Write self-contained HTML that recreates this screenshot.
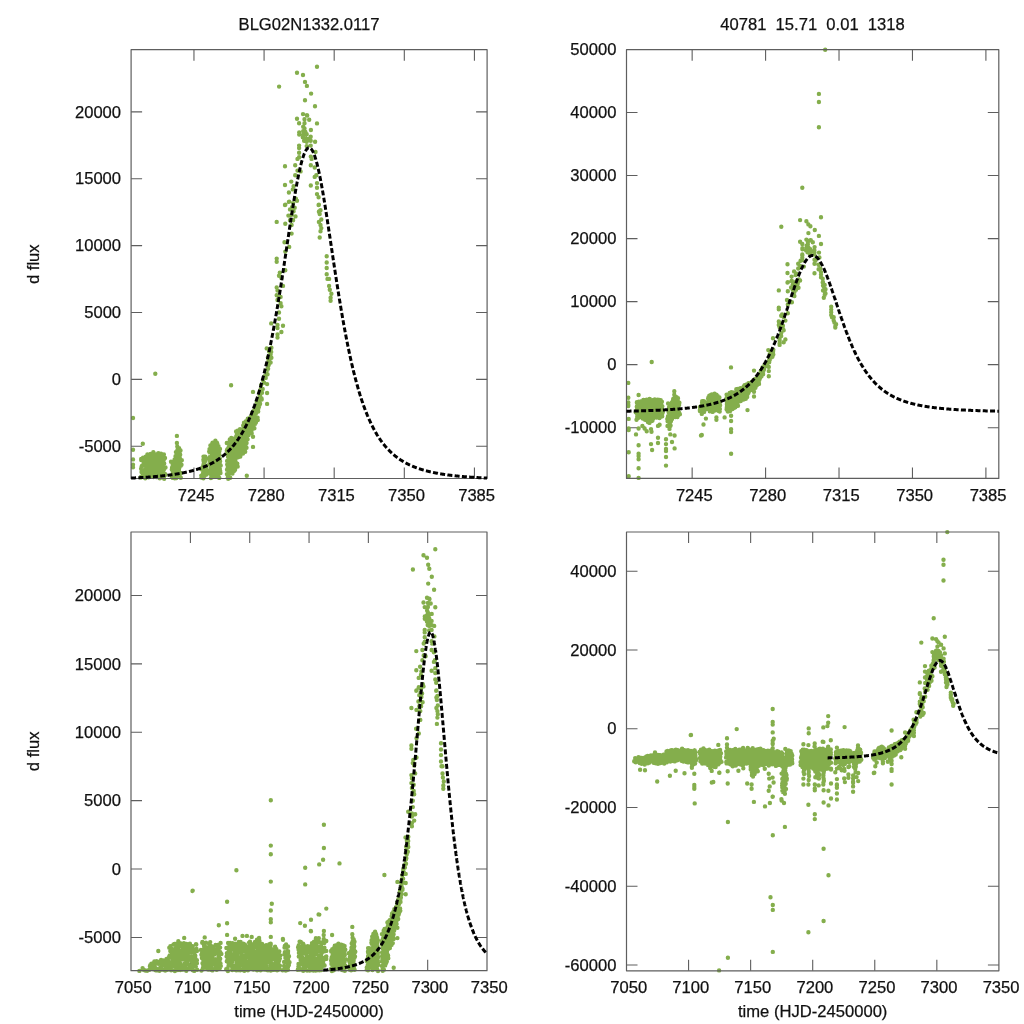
<!DOCTYPE html><html><head><meta charset="utf-8"><style>html,body{margin:0;padding:0;background:#fff;overflow:hidden}</style></head><body><svg width="1024" height="1024" viewBox="0 0 1024 1024" style="display:block;will-change:transform;font-family:'Liberation Sans',sans-serif;font-size:16.6px" fill="#111" stroke-width="0.25"><rect width="1024" height="1024" fill="#fff"/><path d="M193.96 478.50v-11M193.96 49.70v11M264.08 478.50v-11M264.08 49.70v11M334.19 478.50v-11M334.19 49.70v11M404.31 478.50v-11M404.31 49.70v11M474.43 478.50v-11M474.43 49.70v11M131.10 446.20h11M487.10 446.20h-11M131.10 379.34h11M487.10 379.34h-11M131.10 312.48h11M487.10 312.48h-11M131.10 245.62h11M487.10 245.62h-11M131.10 178.76h11M487.10 178.76h-11M131.10 111.90h11M487.10 111.90h-11" stroke="#5e5e5e" stroke-width="1.1" fill="none"/><path d="M692.15 478.40v-11M692.15 49.70v11M765.59 478.40v-11M765.59 49.70v11M839.02 478.40v-11M839.02 49.70v11M912.46 478.40v-11M912.46 49.70v11M985.90 478.40v-11M985.90 49.70v11M626.50 427.70h11M998.80 427.70h-11M626.50 364.66h11M998.80 364.66h-11M626.50 301.62h11M998.80 301.62h-11M626.50 238.58h11M998.80 238.58h-11M626.50 175.54h11M998.80 175.54h-11M626.50 112.50h11M998.80 112.50h-11" stroke="#5e5e5e" stroke-width="1.1" fill="none"/><path d="M190.42 970.70v-11M190.42 532.00v11M249.73 970.70v-11M249.73 532.00v11M309.05 970.70v-11M309.05 532.00v11M368.37 970.70v-11M368.37 532.00v11M427.68 970.70v-11M427.68 532.00v11M131.00 937.43h11M487.00 937.43h-11M131.00 869.03h11M487.00 869.03h-11M131.00 800.63h11M487.00 800.63h-11M131.00 732.23h11M487.00 732.23h-11M131.00 663.83h11M487.00 663.83h-11M131.00 595.43h11M487.00 595.43h-11" stroke="#5e5e5e" stroke-width="1.1" fill="none"/><path d="M688.57 970.80v-11M688.57 532.00v11M750.63 970.80v-11M750.63 532.00v11M812.70 970.80v-11M812.70 532.00v11M874.77 970.80v-11M874.77 532.00v11M936.83 970.80v-11M936.83 532.00v11M626.50 965.00h11M998.90 965.00h-11M626.50 886.26h11M998.90 886.26h-11M626.50 807.52h11M998.90 807.52h-11M626.50 728.78h11M998.90 728.78h-11M626.50 650.04h11M998.90 650.04h-11M626.50 571.30h11M998.90 571.30h-11" stroke="#5e5e5e" stroke-width="1.1" fill="none"/><path d="M155.3 373.8h0M133.0 418.0h0M142.8 443.8h0M133.0 449.7h0M133.0 459.4h0M133.0 464.8h0M133.0 467.2h0M176.9 435.9h0M176.9 443.0h0M231.1 385.2h0M253.0 391.9h0M267.1 384.1h0M267.1 393.0h0M267.1 403.9h0M253.0 436.7h0M253.0 446.9h0M246.8 475.8h0M171.0 461.7h0M256.9 419.5h0M285.3 204.7h0M276.7 221.9h0M285.3 223.8h0M291.6 233.6h0M284.5 242.2h0M289.2 246.9h0M285.3 251.6h0M276.7 258.6h0M276.7 261.7h0M285.3 270.3h0M279.8 272.7h0M279.0 275.8h0M281.4 278.1h0M283.0 285.9h0M276.7 287.5h0M277.5 290.6h0M276.7 295.3h0M280.6 296.9h0M277.5 300.0h0M280.6 303.1h0M281.4 306.3h0M279.0 312.5h0M279.0 318.8h0M271.2 323.4h0M277.5 325.0h0M283.0 325.8h0M277.5 328.1h0M281.4 332.0h0M277.5 334.4h0M277.5 337.5h0M266.7 348.4h0M271.4 347.7h0M269.1 351.6h0M270.6 354.7h0M271.4 357.8h0M270.6 362.5h0M267.5 368.8h0M267.5 374.2h0M289.2 201.6h0M293.1 203.1h0M297.0 200.8h0M290.0 209.4h0M294.7 207.8h0M288.4 215.6h0M291.6 214.8h0M295.5 216.4h0M290.0 220.3h0M293.1 220.3h0M291.6 225.0h0M318.9 204.7h0M318.9 211.7h0M320.5 210.2h0M319.7 214.1h0M321.3 219.5h0M318.9 221.9h0M320.5 225.0h0M321.3 228.1h0M320.5 231.3h0M319.7 237.5h0M326.7 256.3h0M326.7 262.5h0M326.7 268.0h0M326.7 274.2h0M327.5 278.9h0M329.1 278.9h0M329.1 285.9h0M329.8 289.8h0M331.4 293.8h0M330.6 297.7h0M330.6 300.8h0M317.0 66.7h0M297.0 72.7h0M303.0 75.0h0M305.0 81.9h0M306.9 85.9h0M279.1 86.6h0M311.1 93.6h0M305.0 100.3h0M315.0 106.3h0M303.0 114.1h0M306.9 115.2h0M297.0 118.8h0M309.2 119.8h0M317.0 123.4h0M299.1 123.3h0M299.1 145.6h0M299.1 148.0h0M299.1 152.7h0M297.5 158.9h0M299.1 157.3h0M315.5 151.9h0M310.8 156.6h0M311.6 158.9h0M285.0 166.3h0M295.2 165.2h0M297.5 170.6h0M300.6 171.4h0M310.8 165.2h0M314.7 167.5h0M316.3 175.3h0M314.7 176.9h0M295.2 175.3h0M291.3 181.6h0M293.6 186.3h0M288.9 192.5h0M292.8 189.4h0M285.0 185.0h0M310.8 185.5h0M317.0 183.1h0M317.0 187.8h0M317.0 194.1h0M318.6 197.2h0M295.9 198.8h0M288.9 201.9h0M285.0 205.0h0M292.0 207.3h0M293.6 211.3h0M318.6 205.0h0M319.4 211.3h0M307.2 115.5h0M304.5 119.2h0M304.5 123.2h0M303.2 126.7h0M304.5 128.5h0M310.9 130.0h0M299.2 132.4h0M303.2 131.1h0M305.4 132.0h0M299.2 134.6h0M303.2 134.6h0M306.7 134.2h0M302.8 137.3h0M310.7 136.8h0M305.4 138.1h0M308.5 139.0h0M304.1 140.8h0M306.7 141.7h0M310.7 140.8h0M315.1 141.7h0M306.7 146.1h0M310.7 145.6h0M153.3 452.2h0M147.4 454.4h0M149.5 454.7h0M150.5 453.9h0M153.6 452.8h0M156.2 454.6h0M158.3 453.3h0M161.0 453.8h0M162.5 454.4h0M163.9 454.5h0M145.7 456.8h0M147.9 455.9h0M148.8 454.9h0M151.8 456.5h0M154.4 455.5h0M155.3 456.3h0M158.8 457.0h0M159.5 456.0h0M163.4 455.8h0M141.2 459.0h0M143.1 457.6h0M145.5 457.6h0M147.8 457.2h0M150.0 457.5h0M151.2 457.8h0M154.1 457.5h0M155.7 457.1h0M157.6 458.0h0M159.4 458.5h0M162.2 458.7h0M165.0 458.0h0M141.2 460.1h0M142.8 459.7h0M146.0 459.8h0M146.6 459.5h0M148.8 461.0h0M151.9 459.6h0M153.4 460.2h0M156.3 460.3h0M158.3 461.1h0M160.8 460.1h0M162.4 460.1h0M163.8 459.7h0M143.7 463.2h0M145.5 463.2h0M147.3 463.5h0M149.7 462.6h0M150.6 462.6h0M153.1 461.8h0M155.9 463.2h0M157.6 463.2h0M160.4 461.8h0M163.5 462.4h0M164.2 463.4h0M142.1 465.6h0M144.7 465.8h0M147.4 465.2h0M149.3 464.4h0M151.3 465.8h0M153.0 465.9h0M156.5 464.5h0M158.4 464.5h0M160.0 464.8h0M161.4 464.8h0M141.6 466.6h0M146.0 466.5h0M147.9 467.2h0M150.0 467.3h0M151.2 467.6h0M152.7 466.9h0M155.6 466.9h0M157.3 466.4h0M160.4 466.8h0M163.1 467.2h0M165.5 467.5h0M141.1 468.7h0M141.8 470.2h0M145.0 469.8h0M147.2 469.4h0M148.3 468.5h0M151.9 469.4h0M152.9 470.2h0M155.1 469.2h0M157.3 469.7h0M159.8 468.4h0M161.5 468.5h0M164.0 469.3h0M141.5 472.1h0M143.1 472.2h0M145.9 470.3h0M146.3 471.1h0M148.4 471.6h0M151.0 470.9h0M153.2 470.5h0M156.4 471.7h0M158.3 470.4h0M160.1 471.8h0M161.7 471.1h0M163.6 470.5h0M142.3 472.5h0M145.6 472.6h0M146.2 474.6h0M149.9 473.2h0M150.7 473.4h0M153.3 474.4h0M155.7 472.7h0M159.0 473.9h0M159.5 472.7h0M162.4 472.7h0M165.0 473.9h0M141.1 476.7h0M143.1 476.2h0M144.2 474.8h0M146.1 476.8h0M149.6 476.8h0M151.2 476.4h0M152.7 475.1h0M155.4 475.9h0M158.2 475.8h0M160.1 476.0h0M163.5 475.7h0M165.4 474.8h0M140.8 477.5h0M145.2 478.2h0M146.1 477.0h0M148.7 477.2h0M152.6 476.9h0M153.4 477.0h0M156.2 477.0h0M157.2 477.1h0M159.8 478.2h0M163.2 477.5h0M164.2 478.7h0M177.3 446.5h0M178.3 449.4h0M179.1 448.2h0M177.4 450.1h0M180.5 450.4h0M175.9 452.1h0M177.2 452.8h0M179.6 452.4h0M176.5 455.4h0M178.4 453.9h0M180.2 454.8h0M175.5 456.3h0M177.1 456.9h0M179.7 457.8h0M174.6 459.4h0M177.8 458.5h0M180.3 459.4h0M181.8 460.2h0M174.6 462.1h0M177.2 461.2h0M179.9 462.4h0M180.9 460.8h0M172.7 464.7h0M174.9 464.2h0M178.6 464.3h0M180.3 464.2h0M174.1 466.8h0M176.3 465.0h0M177.3 465.8h0M180.7 465.7h0M181.5 464.8h0M172.1 467.4h0M175.0 468.2h0M177.3 468.9h0M179.2 468.2h0M171.8 469.5h0M173.8 470.7h0M175.2 469.3h0M176.9 470.8h0M178.9 469.9h0M172.9 472.1h0M175.9 472.1h0M178.0 472.6h0M180.7 473.0h0M172.4 474.5h0M175.5 474.6h0M177.8 474.7h0M179.6 475.1h0M171.5 476.1h0M172.8 477.9h0M176.4 478.0h0M176.6 477.6h0M180.8 477.8h0M174.8 478.2h0M203.5 456.6h0M205.2 456.6h0M203.4 459.8h0M206.0 458.6h0M203.6 460.9h0M205.5 460.7h0M203.5 464.5h0M204.5 462.8h0M203.0 466.6h0M205.9 466.6h0M202.0 468.0h0M205.9 467.8h0M206.2 467.3h0M201.3 469.3h0M202.2 469.6h0M205.3 470.8h0M206.7 470.3h0M203.1 473.0h0M204.5 472.3h0M206.4 472.3h0M201.3 475.6h0M202.8 474.1h0M205.3 474.2h0M206.5 474.6h0M201.4 477.6h0M204.0 476.4h0M204.6 475.8h0M203.4 478.2h0M215.4 440.7h0M212.7 442.6h0M216.0 442.8h0M216.9 442.8h0M212.3 443.2h0M214.5 445.0h0M217.3 443.8h0M210.4 445.5h0M214.1 447.2h0M215.4 446.8h0M218.5 446.2h0M209.5 449.1h0M210.4 449.3h0M214.0 448.2h0M215.1 447.7h0M217.6 447.7h0M220.0 448.9h0M209.2 451.4h0M210.3 451.0h0M214.0 450.1h0M216.4 451.8h0M218.2 451.6h0M219.4 451.2h0M209.6 452.4h0M211.8 453.3h0M214.0 452.8h0M215.4 453.9h0M216.8 452.2h0M212.0 454.2h0M212.2 454.8h0M216.4 455.8h0M217.5 456.0h0M219.5 454.9h0M209.6 457.3h0M210.6 458.4h0M213.1 456.8h0M215.3 457.9h0M218.3 456.5h0M209.9 460.3h0M210.0 459.5h0M213.5 460.5h0M215.5 458.7h0M218.7 460.6h0M219.9 458.6h0M209.9 460.7h0M211.0 461.3h0M212.4 462.3h0M215.2 460.8h0M216.9 462.5h0M220.1 461.2h0M209.3 464.3h0M210.0 464.0h0M213.8 464.6h0M216.0 464.8h0M218.3 464.9h0M219.7 463.0h0M211.1 465.7h0M212.8 466.7h0M216.3 467.0h0M217.4 466.7h0M220.7 465.4h0M210.8 467.3h0M213.2 467.4h0M214.9 467.8h0M217.3 467.6h0M219.8 468.8h0M209.7 470.2h0M210.1 471.2h0M212.7 470.2h0M215.7 471.7h0M217.3 470.5h0M220.2 471.0h0M209.0 473.1h0M210.3 472.0h0M214.3 473.5h0M216.2 473.8h0M218.7 472.6h0M220.5 473.1h0M210.9 474.2h0M212.2 475.3h0M214.9 476.0h0M217.0 474.6h0M210.9 478.0h0M212.9 477.1h0M215.5 476.8h0M218.3 476.2h0M219.3 477.9h0M270.3 350.2h0M271.2 351.9h0M270.3 355.3h0M267.9 357.5h0M269.8 357.8h0M268.5 359.9h0M269.4 358.9h0M268.3 362.6h0M268.4 364.6h0M268.7 365.0h0M268.1 368.8h0M267.5 369.7h0M266.8 373.9h0M264.7 376.2h0M264.1 378.0h0M265.7 377.9h0M263.0 380.0h0M264.0 382.6h0M261.1 385.2h0M260.6 389.4h0M262.7 388.9h0M261.0 392.5h0M259.4 393.0h0M262.0 392.8h0M259.7 395.6h0M260.3 396.5h0M260.0 398.0h0M261.6 398.5h0M257.6 400.0h0M259.2 400.3h0M261.7 399.6h0M256.8 402.0h0M259.3 403.6h0M260.1 403.8h0M256.7 406.1h0M259.8 404.4h0M256.7 407.0h0M258.9 407.0h0M254.8 408.9h0M256.6 408.8h0M258.1 409.4h0M252.4 412.7h0M253.5 411.0h0M256.0 411.7h0M258.2 411.5h0M253.4 415.2h0M255.9 413.5h0M250.7 416.8h0M253.1 417.2h0M255.0 417.4h0M257.6 417.8h0M247.8 418.6h0M249.9 419.7h0M252.1 420.0h0M254.9 419.1h0M255.6 418.9h0M257.8 420.0h0M246.1 421.3h0M248.5 421.9h0M249.1 420.4h0M250.9 421.3h0M254.9 420.5h0M255.9 422.4h0M244.0 422.8h0M246.9 423.4h0M249.0 423.3h0M251.5 422.7h0M255.2 423.8h0M243.2 425.5h0M246.0 425.1h0M246.4 425.7h0M248.9 426.0h0M251.8 424.8h0M253.7 425.1h0M240.0 429.3h0M242.8 429.1h0M245.8 428.9h0M248.0 427.8h0M250.4 428.2h0M251.3 427.6h0M254.4 428.2h0M236.1 431.5h0M237.6 430.8h0M241.5 430.2h0M243.5 431.4h0M244.1 430.0h0M246.8 431.4h0M249.9 429.6h0M251.7 430.0h0M236.7 432.7h0M239.0 432.6h0M240.2 432.1h0M241.8 433.0h0M244.8 432.0h0M247.5 433.3h0M250.0 431.7h0M251.7 433.2h0M236.3 436.1h0M237.2 435.0h0M241.5 434.1h0M242.7 435.7h0M245.1 435.9h0M247.2 434.7h0M248.6 435.1h0M231.3 438.0h0M232.9 438.5h0M236.7 437.9h0M238.8 436.9h0M239.6 437.0h0M242.0 437.0h0M245.7 436.6h0M246.4 438.1h0M229.8 439.4h0M231.7 438.9h0M232.6 440.3h0M235.3 439.5h0M238.2 440.7h0M241.1 439.8h0M243.5 439.1h0M244.1 439.1h0M247.6 439.3h0M226.8 443.0h0M229.7 441.1h0M231.4 441.7h0M232.5 442.1h0M237.0 441.2h0M237.1 441.3h0M240.3 441.5h0M243.2 441.5h0M245.9 441.1h0M246.6 443.1h0M229.5 445.2h0M230.4 444.9h0M234.5 443.6h0M235.4 444.2h0M238.4 444.2h0M240.7 444.0h0M242.6 443.9h0M245.5 445.3h0M228.8 447.3h0M232.0 445.8h0M233.9 446.7h0M234.9 445.7h0M238.9 447.1h0M239.7 446.8h0M243.7 446.7h0M245.3 447.0h0M227.2 449.5h0M228.2 448.1h0M232.3 447.8h0M234.3 449.5h0M236.4 447.8h0M239.2 448.2h0M241.4 448.9h0M242.4 448.2h0M244.0 448.3h0M246.5 447.8h0M226.8 450.8h0M228.4 452.2h0M230.5 451.2h0M233.0 451.9h0M236.2 451.5h0M238.1 451.1h0M241.6 451.0h0M243.2 450.3h0M245.2 451.8h0M227.1 453.4h0M228.0 454.0h0M230.4 453.0h0M233.1 454.5h0M236.7 452.9h0M237.9 453.4h0M239.5 452.4h0M243.0 453.5h0M228.0 456.7h0M230.4 455.9h0M233.4 456.5h0M235.9 455.3h0M238.7 455.5h0M240.3 456.5h0M229.7 458.6h0M231.8 458.7h0M232.6 458.9h0M234.8 458.2h0M238.0 457.3h0M227.1 460.9h0M228.1 461.1h0M232.1 459.9h0M234.7 460.0h0M235.3 459.6h0M227.6 463.5h0M229.7 463.1h0M232.4 462.5h0M234.3 463.3h0M235.8 462.2h0M237.3 463.7h0M227.2 464.5h0M229.8 465.2h0M230.8 464.2h0M232.7 464.2h0M236.9 464.7h0M227.8 467.4h0M227.9 467.0h0M231.7 466.5h0M233.6 466.9h0M234.9 468.0h0M237.7 466.6h0M227.0 469.7h0M228.8 469.5h0M231.0 469.3h0M233.3 469.2h0M235.1 469.7h0M229.4 471.8h0M231.0 471.3h0M234.0 471.1h0M226.9 474.1h0M229.2 473.6h0M231.9 473.3h0M232.5 473.5h0M227.8 477.5h0M228.3 476.7h0M228.2 478.7h0M230.2 477.8h0" stroke="#84ae4c" stroke-width="4.4" stroke-linecap="round" fill="none"/><path d="M651.7 362.0h0M628.3 382.9h0M638.6 395.0h0M628.3 397.8h0M628.3 402.4h0M628.3 404.9h0M628.3 406.1h0M674.3 391.3h0M674.3 394.7h0M731.0 367.4h0M754.0 370.6h0M768.8 366.9h0M768.8 371.1h0M768.8 376.2h0M754.0 391.7h0M754.0 396.5h0M747.5 410.1h0M668.1 403.5h0M758.1 383.6h0M787.8 282.3h0M778.8 290.4h0M787.8 291.3h0M794.4 296.0h0M787.0 300.0h0M791.9 302.2h0M787.8 304.4h0M778.8 307.7h0M778.8 309.2h0M787.8 313.3h0M782.1 314.4h0M781.2 315.8h0M783.7 316.9h0M785.4 320.6h0M778.8 321.4h0M779.6 322.8h0M778.8 325.0h0M782.9 325.8h0M779.6 327.3h0M782.9 328.7h0M783.7 330.2h0M781.2 333.1h0M781.2 336.1h0M773.0 338.3h0M779.6 339.0h0M785.4 339.4h0M779.6 340.5h0M783.7 342.3h0M779.6 343.5h0M779.6 344.9h0M768.3 350.1h0M773.3 349.7h0M770.8 351.6h0M772.4 353.0h0M773.3 354.5h0M772.4 356.7h0M769.2 359.7h0M769.2 362.2h0M791.9 280.9h0M796.0 281.6h0M800.1 280.5h0M792.7 284.5h0M797.7 283.8h0M791.1 287.5h0M794.4 287.1h0M798.5 287.8h0M792.7 289.7h0M796.0 289.7h0M794.4 291.9h0M823.0 282.3h0M823.0 285.6h0M824.7 284.9h0M823.8 286.8h0M825.5 289.3h0M823.0 290.4h0M824.7 291.9h0M825.5 293.4h0M824.7 294.9h0M823.8 297.8h0M831.2 306.7h0M831.2 309.6h0M831.2 312.2h0M831.2 315.1h0M832.0 317.3h0M833.7 317.3h0M833.7 320.6h0M834.4 322.4h0M836.1 324.3h0M835.3 326.2h0M835.3 327.6h0M821.0 217.3h0M800.1 220.1h0M806.4 221.2h0M808.4 224.4h0M810.4 226.3h0M781.3 226.7h0M814.8 230.0h0M808.4 233.1h0M818.9 235.9h0M806.4 239.6h0M810.4 240.1h0M800.1 241.8h0M812.8 242.3h0M821.0 244.0h0M802.3 244.0h0M802.3 254.5h0M802.3 255.6h0M802.3 257.8h0M800.6 260.7h0M802.3 260.0h0M819.4 257.4h0M814.5 259.7h0M815.4 260.7h0M787.5 264.2h0M798.2 263.7h0M800.6 266.3h0M803.8 266.6h0M814.5 263.7h0M818.6 264.8h0M820.3 268.5h0M818.6 269.2h0M798.2 268.5h0M794.1 271.4h0M796.5 273.7h0M791.6 276.6h0M795.7 275.1h0M787.5 273.0h0M814.5 273.3h0M821.0 272.1h0M821.0 274.4h0M821.0 277.3h0M822.7 278.8h0M798.9 279.5h0M791.6 281.0h0M787.5 282.5h0M794.8 283.6h0M796.5 285.4h0M822.7 282.5h0M823.5 285.4h0M810.8 240.3h0M807.9 242.0h0M807.9 243.9h0M806.6 245.6h0M807.9 246.4h0M814.6 247.1h0M802.4 248.2h0M806.6 247.6h0M808.9 248.1h0M802.4 249.3h0M806.6 249.3h0M810.2 249.1h0M806.1 250.6h0M814.4 250.3h0M808.9 250.9h0M812.1 251.4h0M807.5 252.2h0M810.2 252.6h0M814.4 252.2h0M819.0 252.6h0M810.2 254.7h0M814.4 254.5h0M649.6 399.0h0M643.4 400.0h0M645.6 400.2h0M646.6 399.8h0M649.9 399.3h0M652.6 400.1h0M654.8 399.5h0M657.7 399.8h0M659.2 400.0h0M660.7 400.1h0M641.6 401.2h0M643.9 400.8h0M644.9 400.3h0M648.0 401.0h0M650.8 400.6h0M651.6 400.9h0M655.3 401.3h0M656.1 400.8h0M660.1 400.7h0M636.9 402.2h0M638.8 401.6h0M641.4 401.5h0M643.8 401.4h0M646.1 401.5h0M647.4 401.6h0M650.4 401.5h0M652.0 401.3h0M654.0 401.8h0M656.0 402.0h0M658.9 402.1h0M661.9 401.8h0M636.9 402.7h0M638.6 402.6h0M641.9 402.6h0M642.5 402.4h0M644.8 403.1h0M648.1 402.5h0M649.7 402.8h0M652.7 402.8h0M654.8 403.2h0M657.4 402.7h0M659.1 402.7h0M660.6 402.6h0M639.5 404.2h0M641.4 404.2h0M643.3 404.3h0M645.8 403.9h0M646.7 403.9h0M649.3 403.5h0M652.3 404.2h0M654.1 404.2h0M657.0 403.5h0M660.3 403.8h0M661.0 404.3h0M637.8 405.3h0M640.5 405.4h0M643.4 405.1h0M645.4 404.8h0M647.4 405.4h0M649.3 405.5h0M652.9 404.8h0M654.9 404.8h0M656.6 405.0h0M658.1 404.9h0M637.3 405.8h0M641.9 405.7h0M643.9 406.1h0M646.1 406.1h0M647.4 406.3h0M648.9 405.9h0M652.0 406.0h0M653.7 405.7h0M657.0 405.9h0M659.9 406.1h0M662.3 406.2h0M636.8 406.8h0M637.5 407.5h0M640.9 407.3h0M643.1 407.1h0M644.3 406.7h0M648.1 407.1h0M649.2 407.5h0M651.5 407.0h0M653.8 407.2h0M656.4 406.6h0M658.2 406.7h0M660.8 407.1h0M637.2 408.4h0M638.9 408.4h0M641.8 407.6h0M642.2 407.9h0M644.4 408.2h0M647.1 407.8h0M649.5 407.6h0M652.8 408.2h0M654.8 407.6h0M656.7 408.3h0M658.4 407.9h0M660.4 407.6h0M638.0 408.6h0M641.5 408.6h0M642.1 409.6h0M646.0 408.9h0M646.8 409.0h0M649.6 409.5h0M652.1 408.7h0M655.6 409.2h0M656.0 408.7h0M659.1 408.7h0M661.8 409.2h0M636.8 410.6h0M638.9 410.3h0M640.0 409.6h0M642.1 410.6h0M645.7 410.6h0M647.3 410.4h0M649.0 409.8h0M651.8 410.2h0M654.7 410.1h0M656.7 410.2h0M660.3 410.1h0M662.3 409.7h0M636.4 410.9h0M638.2 411.6h0M641.1 411.3h0M642.1 410.7h0M644.7 410.8h0M648.8 410.7h0M649.7 410.7h0M652.6 410.7h0M653.6 410.7h0M656.4 411.3h0M659.9 410.9h0M661.0 411.5h0M640.1 411.9h0M652.3 412.0h0M659.2 411.7h0M662.3 411.7h0M674.7 396.3h0M675.7 397.7h0M676.6 397.1h0M674.8 398.0h0M678.0 398.2h0M673.2 399.0h0M674.6 399.3h0M677.1 399.1h0M673.8 400.5h0M675.9 399.8h0M677.7 400.2h0M672.8 401.0h0M674.5 401.2h0M677.3 401.6h0M671.9 402.4h0M675.2 402.0h0M677.8 402.4h0M679.4 402.8h0M671.9 403.7h0M674.6 403.2h0M677.4 403.8h0M678.5 403.0h0M669.9 404.9h0M672.2 404.7h0M676.1 404.7h0M677.8 404.7h0M671.3 405.9h0M673.6 405.0h0M674.7 405.4h0M678.2 405.4h0M679.1 405.0h0M669.3 406.2h0M672.3 406.5h0M674.7 406.9h0M676.6 406.6h0M669.0 407.2h0M671.1 407.7h0M672.5 407.0h0M674.3 407.8h0M676.4 407.3h0M670.1 408.4h0M673.2 408.4h0M675.5 408.6h0M678.2 408.8h0M669.6 409.5h0M672.8 409.5h0M675.2 409.6h0M677.1 409.8h0M668.6 410.3h0M670.0 411.1h0M673.8 411.2h0M674.0 411.0h0M678.3 411.1h0M668.6 411.8h0M671.1 411.7h0M672.1 411.3h0M676.0 412.0h0M676.6 412.0h0M702.2 401.1h0M703.9 401.1h0M702.0 402.6h0M704.7 402.0h0M702.3 403.1h0M704.3 403.0h0M702.1 404.8h0M703.2 404.0h0M701.7 405.8h0M704.7 405.8h0M700.6 406.4h0M704.6 406.3h0M705.0 406.1h0M699.8 407.1h0M700.8 407.2h0M704.1 407.8h0M705.5 407.6h0M701.7 408.8h0M703.2 408.5h0M705.2 408.5h0M699.9 410.0h0M701.5 409.3h0M704.0 409.4h0M705.2 409.5h0M699.9 411.0h0M702.6 410.4h0M703.2 410.2h0M702.0 411.3h0M704.1 411.9h0M714.6 393.6h0M711.8 394.5h0M715.2 394.6h0M716.2 394.6h0M711.3 394.8h0M713.7 395.6h0M716.6 395.0h0M709.3 395.8h0M713.3 396.7h0M714.6 396.5h0M717.8 396.2h0M708.4 397.5h0M709.4 397.7h0M713.1 397.1h0M714.3 396.9h0M716.9 396.9h0M719.4 397.4h0M708.1 398.6h0M709.3 398.4h0M713.1 398.0h0M715.7 398.8h0M717.5 398.7h0M718.8 398.5h0M708.5 399.1h0M710.8 399.5h0M713.1 399.3h0M714.6 399.8h0M716.0 399.0h0M711.0 399.9h0M711.3 400.2h0M715.7 400.7h0M716.8 400.8h0M718.9 400.3h0M708.5 401.4h0M709.6 401.9h0M712.2 401.2h0M714.5 401.7h0M717.6 401.1h0M708.9 402.8h0M709.0 402.5h0M712.6 402.9h0M714.7 402.1h0M718.0 403.0h0M719.3 402.0h0M708.9 403.0h0M710.0 403.3h0M711.5 403.8h0M714.3 403.1h0M716.2 403.9h0M719.6 403.2h0M708.2 404.7h0M709.0 404.6h0M712.9 404.8h0M715.2 405.0h0M717.6 405.0h0M719.1 404.1h0M710.1 405.4h0M711.9 405.9h0M715.5 406.0h0M716.7 405.8h0M720.1 405.2h0M709.8 406.1h0M712.3 406.2h0M714.1 406.4h0M716.6 406.3h0M719.3 406.8h0M708.6 407.5h0M709.0 408.0h0M711.8 407.5h0M714.9 408.2h0M716.6 407.7h0M719.6 407.9h0M707.9 408.9h0M709.2 408.3h0M713.5 409.1h0M715.5 409.2h0M718.1 408.6h0M719.9 408.9h0M709.9 409.4h0M711.3 409.9h0M714.1 410.2h0M716.3 409.6h0M709.8 411.2h0M712.0 410.8h0M714.7 410.6h0M717.7 410.3h0M718.7 411.1h0M712.6 411.9h0M719.7 411.6h0M772.1 350.9h0M773.1 351.7h0M772.1 353.3h0M769.6 354.4h0M771.6 354.5h0M770.2 355.5h0M771.1 355.0h0M770.1 356.8h0M770.1 357.7h0M770.5 357.9h0M769.8 359.7h0M769.2 360.1h0M768.5 362.1h0M766.2 363.2h0M765.6 364.0h0M767.3 364.0h0M764.5 365.0h0M765.5 366.2h0M762.5 367.4h0M761.9 369.4h0M764.1 369.2h0M762.4 370.9h0M760.7 371.1h0M763.4 371.0h0M761.0 372.3h0M761.6 372.8h0M761.3 373.4h0M763.0 373.7h0M758.8 374.4h0M760.4 374.5h0M763.1 374.2h0M758.0 375.3h0M760.6 376.1h0M761.5 376.2h0M757.9 377.3h0M761.1 376.5h0M757.9 377.7h0M760.2 377.7h0M755.8 378.6h0M757.8 378.5h0M759.4 378.8h0M753.4 380.4h0M754.5 379.6h0M757.2 379.9h0M759.4 379.8h0M754.4 381.5h0M757.0 380.8h0M751.6 382.3h0M754.1 382.5h0M756.1 382.6h0M758.8 382.8h0M748.5 383.2h0M750.7 383.7h0M753.0 383.8h0M756.0 383.4h0M756.8 383.3h0M759.0 383.9h0M746.7 384.4h0M749.2 384.7h0M749.9 384.0h0M751.8 384.5h0M756.0 384.0h0M757.0 385.0h0M744.6 385.2h0M747.6 385.4h0M749.8 385.4h0M752.4 385.1h0M756.3 385.6h0M743.7 386.4h0M746.6 386.2h0M747.1 386.5h0M749.7 386.7h0M752.8 386.1h0M754.7 386.2h0M740.4 388.2h0M743.3 388.1h0M746.4 388.0h0M748.8 387.5h0M751.3 387.7h0M752.2 387.4h0M755.4 387.7h0M736.3 389.3h0M737.9 388.9h0M741.9 388.7h0M744.1 389.2h0M744.6 388.6h0M747.5 389.2h0M750.8 388.4h0M752.7 388.5h0M736.9 389.8h0M739.3 389.8h0M740.5 389.5h0M742.3 389.9h0M745.4 389.5h0M748.2 390.1h0M750.8 389.3h0M752.6 390.0h0M736.5 391.4h0M737.5 390.9h0M742.0 390.5h0M743.2 391.2h0M745.7 391.3h0M747.9 390.7h0M749.4 390.9h0M731.3 392.3h0M732.9 392.5h0M736.9 392.3h0M739.1 391.8h0M739.9 391.8h0M742.4 391.9h0M746.4 391.7h0M747.1 392.4h0M729.7 393.0h0M731.7 392.7h0M732.6 393.4h0M735.4 393.0h0M738.5 393.6h0M741.6 393.2h0M744.0 392.8h0M744.7 392.9h0M748.4 392.9h0M726.6 394.6h0M729.6 393.8h0M731.4 394.1h0M732.6 394.3h0M737.2 393.8h0M737.3 393.9h0M740.7 393.9h0M743.8 393.9h0M746.6 393.8h0M747.3 394.7h0M729.4 395.7h0M730.3 395.6h0M734.6 395.0h0M735.6 395.3h0M738.7 395.2h0M741.1 395.2h0M743.1 395.1h0M746.1 395.8h0M728.6 396.7h0M732.0 396.0h0M734.0 396.4h0M735.0 395.9h0M739.2 396.6h0M740.1 396.5h0M744.3 396.4h0M746.0 396.6h0M727.0 397.8h0M728.0 397.1h0M732.3 396.9h0M734.4 397.7h0M736.6 396.9h0M739.5 397.1h0M741.8 397.5h0M742.9 397.1h0M744.5 397.2h0M747.2 396.9h0M726.5 398.3h0M728.2 399.0h0M730.4 398.5h0M733.0 398.9h0M736.4 398.7h0M738.3 398.5h0M742.1 398.5h0M743.7 398.1h0M745.8 398.8h0M726.8 399.6h0M727.8 399.9h0M730.3 399.4h0M733.1 400.1h0M737.0 399.4h0M738.2 399.6h0M739.8 399.1h0M743.5 399.6h0M727.8 401.1h0M730.3 400.8h0M733.5 401.1h0M736.0 400.5h0M739.0 400.6h0M740.7 401.0h0M729.6 402.0h0M731.8 402.1h0M732.7 402.2h0M734.9 401.9h0M738.3 401.4h0M726.9 403.1h0M727.9 403.2h0M732.1 402.6h0M734.8 402.7h0M735.5 402.5h0M727.4 404.3h0M729.6 404.1h0M732.4 403.9h0M734.4 404.3h0M735.9 403.7h0M737.6 404.4h0M726.9 404.8h0M729.7 405.2h0M730.7 404.7h0M732.8 404.7h0M737.1 404.9h0M727.5 406.2h0M727.7 406.0h0M731.6 405.8h0M733.7 406.0h0M735.0 406.4h0M738.0 405.8h0M726.8 407.3h0M728.7 407.2h0M730.9 407.1h0M733.3 407.0h0M735.3 407.3h0M729.3 408.3h0M730.9 408.0h0M734.1 407.9h0M726.6 409.3h0M729.0 409.1h0M731.9 409.0h0M732.5 409.1h0M727.6 411.0h0M728.1 410.6h0M728.0 411.5h0M730.1 411.1h0M628.7 418.9h0M628.7 428.5h0M628.7 430.1h0M628.7 452.2h0M628.7 476.3h0M636.0 434.4h0M638.6 428.5h0M638.6 445.2h0M638.6 453.8h0M638.6 455.9h0M638.6 459.2h0M638.6 468.3h0M638.6 477.9h0M642.4 425.9h0M644.6 428.5h0M646.7 431.2h0M651.0 429.1h0M651.5 431.8h0M651.0 444.1h0M652.1 450.0h0M658.0 425.9h0M659.6 424.8h0M658.0 437.7h0M658.0 443.0h0M666.0 439.3h0M666.0 444.1h0M666.0 448.9h0M666.0 451.1h0M666.0 457.0h0M666.0 465.6h0M670.3 434.4h0M674.6 435.5h0M672.0 442.0h0M674.6 448.4h0M701.0 435.5h0M701.8 413.9h0M705.9 418.6h0M703.5 424.5h0M701.8 435.0h0M716.4 417.4h0M716.4 419.8h0M724.6 417.4h0M731.1 415.7h0M731.1 421.0h0M731.1 429.2h0M731.1 432.1h0M731.1 453.8h0M825.2 49.7h0M818.9 93.9h0M818.9 102.0h0M818.9 127.2h0M802.3 187.7h0M635.7 412.3h0M638.9 412.5h0M641.9 412.9h0M644.2 412.5h0M658.7 412.4h0M662.8 412.2h0M637.1 414.3h0M639.7 413.1h0M640.2 414.5h0M642.2 413.0h0M646.0 413.1h0M647.7 415.0h0M648.8 414.2h0M650.2 415.0h0M653.8 413.6h0M654.1 414.6h0M658.0 413.3h0M659.8 414.7h0M660.4 413.4h0M662.4 413.6h0M637.2 417.0h0M638.3 416.8h0M640.5 415.4h0M643.8 416.1h0M645.4 416.8h0M647.5 416.5h0M648.7 415.6h0M651.0 415.8h0M652.4 416.5h0M655.5 416.8h0M657.3 416.0h0M658.7 415.8h0M661.6 416.5h0M662.2 416.2h0M637.7 418.2h0M639.8 417.3h0M642.8 418.6h0M645.0 418.6h0M646.7 418.3h0M648.1 419.0h0M651.4 418.8h0M653.3 418.4h0M656.7 417.6h0M659.5 418.0h0M636.5 419.7h0M645.1 419.7h0M647.9 419.4h0M649.9 419.0h0M650.3 420.1h0M652.5 420.5h0M647.9 422.0h0M649.4 422.9h0M651.7 421.0h0M668.7 412.6h0M670.6 412.5h0M677.1 412.7h0M679.1 412.6h0M669.7 413.2h0M671.8 414.1h0M673.0 414.1h0M675.2 414.2h0M677.2 413.6h0M679.9 414.2h0M668.0 416.3h0M669.5 416.9h0M670.2 415.4h0M673.2 415.6h0M674.1 415.6h0M677.5 416.4h0M678.1 415.6h0M667.3 418.9h0M668.8 417.2h0M671.3 418.3h0M675.5 417.1h0M677.4 417.1h0M668.4 420.2h0M672.0 419.1h0M667.6 421.3h0M669.2 422.3h0M670.9 421.3h0M670.0 424.5h0M667.5 425.9h0M670.0 426.2h0M670.6 425.5h0M669.5 428.9h0" stroke="#84ae4c" stroke-width="4.4" stroke-linecap="round" fill="none"/><path d="M339.5 863.4h0M326.3 908.6h0M332.1 935.0h0M326.3 941.0h0M326.3 950.9h0M326.3 956.5h0M326.3 958.9h0M352.3 926.9h0M352.3 934.2h0M384.4 875.0h0M397.4 881.9h0M405.7 873.9h0M405.7 883.0h0M405.7 894.2h0M397.4 927.7h0M397.4 938.1h0M393.7 967.7h0M348.8 953.3h0M399.7 910.1h0M416.5 690.4h0M411.4 708.0h0M416.5 709.9h0M420.3 719.9h0M416.1 728.7h0M418.8 733.5h0M416.5 738.3h0M411.4 745.5h0M411.4 748.7h0M416.5 757.5h0M413.3 759.9h0M412.8 763.1h0M414.2 765.5h0M415.2 773.4h0M411.4 775.1h0M411.9 778.2h0M411.4 783.1h0M413.7 784.7h0M411.9 787.9h0M413.7 791.0h0M414.2 794.3h0M412.8 800.7h0M412.8 807.1h0M408.2 811.8h0M411.9 813.4h0M415.2 814.3h0M411.9 816.6h0M414.2 820.6h0M411.9 823.1h0M411.9 826.2h0M405.5 837.4h0M408.3 836.7h0M406.9 840.7h0M407.8 843.8h0M408.3 847.0h0M407.8 851.8h0M406.0 858.2h0M406.0 863.8h0M418.8 687.2h0M421.1 688.7h0M423.5 686.4h0M419.3 695.2h0M422.1 693.5h0M418.4 701.5h0M420.3 700.7h0M422.6 702.3h0M419.3 706.3h0M421.1 706.3h0M420.3 711.1h0M436.4 690.4h0M436.4 697.5h0M437.4 696.0h0M436.9 700.0h0M437.8 705.5h0M436.4 708.0h0M437.4 711.1h0M437.8 714.3h0M437.4 717.6h0M436.9 723.9h0M441.0 743.2h0M441.0 749.5h0M441.0 755.1h0M441.0 761.5h0M441.5 766.3h0M442.5 766.3h0M442.5 773.4h0M442.9 777.4h0M443.8 781.5h0M443.3 785.5h0M443.3 788.7h0M435.3 549.2h0M423.5 555.3h0M427.0 557.7h0M428.2 564.7h0M429.3 568.8h0M412.9 569.5h0M431.8 576.7h0M428.2 583.6h0M434.1 589.7h0M427.0 597.7h0M429.3 598.8h0M423.5 602.5h0M430.7 603.5h0M435.3 607.2h0M424.7 607.1h0M424.7 629.9h0M424.7 632.4h0M424.7 637.2h0M423.7 643.5h0M424.7 641.9h0M434.4 636.4h0M431.6 641.2h0M432.1 643.5h0M416.3 651.1h0M422.4 650.0h0M423.7 655.5h0M425.6 656.3h0M431.6 650.0h0M433.9 652.3h0M434.9 660.3h0M433.9 661.9h0M422.4 660.3h0M420.1 666.7h0M421.4 671.5h0M418.7 677.9h0M421.0 674.7h0M416.3 670.2h0M431.6 670.7h0M435.3 668.3h0M435.3 673.1h0M435.3 679.5h0M436.2 682.7h0M422.8 684.3h0M418.7 687.5h0M416.3 690.7h0M420.5 693.0h0M421.4 697.1h0M436.2 690.7h0M436.7 697.1h0M429.5 599.1h0M427.9 602.9h0M427.9 607.0h0M427.1 610.6h0M427.9 612.4h0M431.7 613.9h0M424.8 616.4h0M427.1 615.1h0M428.4 616.0h0M424.8 618.7h0M427.1 618.7h0M429.2 618.2h0M426.9 621.4h0M431.6 620.9h0M428.4 622.2h0M430.3 623.2h0M427.7 625.0h0M429.2 625.9h0M431.6 625.0h0M434.2 625.9h0M429.2 630.4h0M431.6 629.9h0M338.4 943.6h0M334.8 945.8h0M336.1 946.1h0M336.7 945.3h0M338.5 944.2h0M340.1 946.0h0M341.3 944.7h0M342.9 945.2h0M343.8 945.8h0M344.6 945.9h0M333.8 948.3h0M335.2 947.4h0M335.7 946.3h0M337.5 948.0h0M339.0 947.0h0M339.5 947.8h0M341.6 948.5h0M342.0 947.4h0M344.3 947.3h0M331.2 950.6h0M332.3 949.1h0M333.7 949.1h0M335.1 948.7h0M336.4 949.0h0M337.1 949.3h0M338.8 949.0h0M339.8 948.6h0M340.9 949.5h0M342.0 950.0h0M343.6 950.2h0M345.3 949.6h0M331.2 951.6h0M332.1 951.3h0M334.0 951.4h0M334.4 951.0h0M335.7 952.5h0M337.5 951.1h0M338.4 951.8h0M340.1 951.9h0M341.3 952.7h0M342.8 951.7h0M343.7 951.7h0M344.6 951.3h0M332.7 954.8h0M333.8 954.8h0M334.8 955.1h0M336.2 954.2h0M336.7 954.2h0M338.2 953.4h0M339.9 954.8h0M340.9 954.8h0M342.5 953.4h0M344.4 954.0h0M344.8 955.0h0M331.7 957.2h0M333.2 957.5h0M334.8 956.9h0M336.0 956.0h0M337.2 957.5h0M338.2 957.6h0M340.2 956.1h0M341.4 956.2h0M342.3 956.5h0M343.2 956.4h0M331.5 958.3h0M334.0 958.2h0M335.1 958.9h0M336.4 959.0h0M337.1 959.3h0M338.0 958.6h0M339.7 958.7h0M340.7 958.1h0M342.6 958.5h0M344.2 958.9h0M345.6 959.2h0M331.1 960.4h0M331.5 962.0h0M333.4 961.6h0M334.7 961.2h0M335.4 960.3h0M337.5 961.1h0M338.1 962.0h0M339.4 961.0h0M340.7 961.4h0M342.2 960.1h0M343.2 960.2h0M344.7 961.0h0M331.4 963.9h0M332.3 964.0h0M334.0 962.1h0M334.2 962.9h0M335.5 963.4h0M337.0 962.7h0M338.3 962.3h0M340.2 963.5h0M341.3 962.2h0M342.4 963.6h0M343.4 963.0h0M344.5 962.3h0M331.8 964.4h0M333.8 964.5h0M334.2 966.5h0M336.3 965.1h0M336.8 965.2h0M338.4 966.3h0M339.8 964.5h0M341.8 965.7h0M342.0 964.6h0M343.8 964.5h0M345.3 965.7h0M331.2 968.6h0M332.3 968.1h0M332.9 966.6h0M334.1 968.8h0M336.2 968.7h0M337.1 968.3h0M338.0 967.0h0M339.6 967.8h0M341.3 967.7h0M342.4 967.9h0M344.4 967.6h0M345.5 966.7h0M330.9 969.4h0M331.9 971.0h0M333.6 970.2h0M334.1 969.0h0M335.6 969.1h0M337.9 968.8h0M338.4 969.0h0M340.1 968.9h0M340.6 969.0h0M342.2 970.1h0M344.2 969.4h0M344.8 970.7h0M352.6 937.7h0M353.2 940.7h0M353.7 939.5h0M352.6 941.4h0M354.5 941.8h0M351.7 943.4h0M352.5 944.2h0M353.9 943.7h0M352.1 946.8h0M353.2 945.3h0M354.3 946.2h0M351.5 947.8h0M352.5 948.4h0M354.0 949.3h0M351.0 951.0h0M352.8 950.0h0M354.3 951.0h0M355.3 951.8h0M351.0 953.7h0M352.5 952.8h0M354.1 954.0h0M354.7 952.3h0M349.9 956.4h0M351.1 955.8h0M353.4 955.9h0M354.3 955.8h0M350.6 958.5h0M352.0 956.7h0M352.6 957.5h0M354.6 957.4h0M355.0 956.5h0M349.5 959.1h0M351.2 959.9h0M352.6 960.7h0M353.7 960.0h0M349.3 961.3h0M350.5 962.5h0M351.3 961.0h0M352.3 962.6h0M353.5 961.7h0M350.0 963.9h0M351.7 963.9h0M353.0 964.4h0M354.6 964.9h0M349.7 966.4h0M351.5 966.4h0M352.9 966.6h0M353.9 967.0h0M349.1 968.0h0M349.9 969.8h0M352.1 969.9h0M352.2 969.6h0M354.6 969.7h0M351.1 970.2h0M368.1 948.1h0M369.1 948.1h0M368.0 951.4h0M369.5 950.1h0M368.1 952.5h0M369.3 952.2h0M368.1 956.1h0M368.7 954.4h0M367.8 958.3h0M369.5 958.3h0M367.2 959.7h0M369.5 959.5h0M369.7 959.0h0M366.8 961.1h0M367.3 961.4h0M369.2 962.6h0M370.0 962.1h0M367.8 964.8h0M368.7 964.1h0M369.8 964.2h0M366.8 967.5h0M367.7 965.9h0M369.1 966.1h0M369.8 966.4h0M366.8 969.5h0M368.4 968.3h0M368.7 967.8h0M368.0 970.2h0M375.1 931.8h0M373.5 933.7h0M375.5 934.0h0M376.0 933.9h0M373.3 934.3h0M374.6 936.2h0M376.3 935.0h0M372.2 936.7h0M374.4 938.5h0M375.1 938.1h0M377.0 937.4h0M371.6 940.3h0M372.2 940.6h0M374.3 939.5h0M375.0 939.0h0M376.4 939.0h0M377.9 940.2h0M371.4 942.7h0M372.1 942.3h0M374.3 941.4h0M375.7 943.2h0M376.8 943.0h0M377.5 942.5h0M371.7 943.8h0M373.0 944.7h0M374.3 944.2h0M375.1 945.3h0M375.9 943.6h0M373.1 945.6h0M373.2 946.2h0M375.8 947.3h0M376.3 947.4h0M377.5 946.3h0M371.7 948.8h0M372.3 949.9h0M373.8 948.2h0M375.1 949.4h0M376.8 948.0h0M371.9 951.9h0M371.9 951.1h0M374.0 952.0h0M375.2 950.2h0M377.1 952.2h0M377.8 950.1h0M371.9 952.3h0M372.5 952.9h0M373.4 953.9h0M375.0 952.4h0M376.0 954.1h0M377.9 952.7h0M371.5 956.0h0M371.9 955.7h0M374.2 956.2h0M375.5 956.5h0M376.8 956.6h0M377.7 954.6h0M372.6 957.3h0M373.6 958.4h0M375.7 958.7h0M376.3 958.4h0M378.3 957.1h0M372.4 959.1h0M373.8 959.1h0M374.9 959.5h0M376.3 959.3h0M377.8 960.6h0M371.8 962.0h0M372.0 963.0h0M373.5 962.0h0M375.3 963.5h0M376.2 962.3h0M378.0 962.8h0M371.3 965.0h0M372.1 963.8h0M374.5 965.4h0M375.6 965.6h0M377.1 964.4h0M378.1 965.0h0M372.5 966.1h0M373.3 967.2h0M374.8 967.9h0M376.1 966.5h0M372.4 970.0h0M373.7 969.1h0M375.2 968.7h0M376.9 968.1h0M377.4 969.9h0M378.0 971.0h0M407.7 839.2h0M408.2 840.9h0M407.6 844.4h0M406.2 846.7h0M407.3 847.0h0M406.6 849.1h0M407.1 848.1h0M406.5 851.9h0M406.5 853.9h0M406.7 854.4h0M406.3 858.2h0M406.0 859.2h0M405.6 863.4h0M404.3 865.8h0M403.9 867.7h0M404.9 867.6h0M403.3 869.7h0M403.9 872.4h0M402.2 875.1h0M401.9 879.3h0M403.1 878.8h0M402.1 882.5h0M401.2 883.0h0M402.7 882.8h0M401.4 885.7h0M401.7 886.6h0M401.5 888.1h0M402.5 888.7h0M400.1 890.2h0M401.0 890.5h0M402.5 889.7h0M399.7 892.2h0M401.1 893.8h0M401.6 894.0h0M399.6 896.4h0M401.4 894.6h0M399.6 897.3h0M400.9 897.4h0M398.4 899.3h0M399.6 899.2h0M400.4 899.8h0M397.1 903.1h0M397.7 901.4h0M399.2 902.1h0M400.5 901.9h0M397.6 905.7h0M399.1 904.0h0M396.0 907.3h0M397.5 907.8h0M398.6 908.0h0M400.1 908.4h0M394.3 909.2h0M395.5 910.3h0M396.8 910.6h0M398.5 909.7h0M399.0 909.5h0M400.3 910.7h0M393.3 911.9h0M394.7 912.6h0M395.1 911.0h0M396.2 912.0h0M398.5 911.1h0M399.1 913.1h0M392.1 913.5h0M393.8 914.1h0M395.0 914.0h0M396.5 913.4h0M398.7 914.6h0M391.6 916.3h0M393.2 915.8h0M393.5 916.4h0M395.0 916.8h0M396.7 915.5h0M397.8 915.8h0M389.7 920.1h0M391.3 919.9h0M393.1 919.7h0M394.5 918.6h0M395.9 919.0h0M396.4 918.4h0M398.2 919.0h0M387.4 922.4h0M388.3 921.7h0M390.6 921.1h0M391.8 922.3h0M392.1 920.9h0M393.7 922.3h0M395.6 920.5h0M396.6 920.8h0M387.8 923.6h0M389.1 923.5h0M389.8 923.0h0M390.8 923.9h0M392.5 922.9h0M394.1 924.2h0M395.6 922.6h0M396.6 924.1h0M387.5 927.1h0M388.1 926.0h0M390.6 925.0h0M391.3 926.7h0M392.7 926.9h0M393.9 925.6h0M394.8 926.1h0M384.6 929.0h0M385.5 929.5h0M387.7 928.9h0M389.0 927.9h0M389.4 928.0h0M390.9 928.0h0M393.1 927.7h0M393.5 929.2h0M383.7 930.4h0M384.8 929.9h0M385.3 931.4h0M386.9 930.6h0M388.6 931.8h0M390.4 930.9h0M391.8 930.2h0M392.2 930.2h0M394.2 930.4h0M381.9 934.1h0M383.6 932.2h0M384.6 932.8h0M385.3 933.3h0M387.9 932.3h0M388.0 932.4h0M389.9 932.6h0M391.6 932.6h0M393.2 932.3h0M393.6 934.2h0M383.5 936.4h0M384.0 936.1h0M386.4 934.8h0M387.0 935.4h0M388.8 935.4h0M390.1 935.2h0M391.3 935.0h0M392.9 936.5h0M383.0 938.6h0M385.0 937.0h0M386.1 937.9h0M386.7 936.9h0M389.1 938.3h0M389.5 938.0h0M391.9 937.9h0M392.9 938.3h0M382.1 940.8h0M382.7 939.4h0M385.1 939.1h0M386.3 940.8h0M387.5 939.1h0M389.2 939.5h0M390.5 940.2h0M391.1 939.4h0M392.1 939.6h0M393.6 939.0h0M381.9 942.1h0M382.8 943.6h0M384.0 942.6h0M385.5 943.3h0M387.4 942.8h0M388.5 942.4h0M390.7 942.4h0M391.6 941.6h0M392.8 943.1h0M382.1 944.8h0M382.6 945.4h0M384.0 944.4h0M385.6 945.9h0M387.8 944.3h0M388.5 944.8h0M389.4 943.8h0M391.5 944.9h0M382.6 948.2h0M384.0 947.4h0M385.8 948.0h0M387.2 946.7h0M388.9 947.0h0M389.9 948.0h0M383.6 950.1h0M384.8 950.3h0M385.3 950.4h0M386.6 949.7h0M388.5 948.7h0M382.1 952.5h0M382.6 952.7h0M385.0 951.4h0M386.6 951.6h0M386.9 951.2h0M382.4 955.1h0M383.6 954.7h0M385.2 954.1h0M386.3 955.0h0M387.2 953.8h0M388.1 955.4h0M382.1 956.1h0M383.7 956.9h0M384.3 955.8h0M385.4 955.8h0M387.8 956.4h0M382.4 959.1h0M382.6 958.7h0M384.8 958.2h0M385.9 958.6h0M386.7 959.7h0M388.3 958.3h0M382.0 961.5h0M383.1 961.3h0M384.4 961.1h0M385.7 960.9h0M386.8 961.5h0M383.4 963.6h0M384.4 963.1h0M386.2 962.9h0M381.9 965.9h0M383.3 965.5h0M384.9 965.2h0M385.2 965.4h0M382.5 969.5h0M382.8 968.6h0M382.7 970.7h0M383.9 969.7h0M142.6 968.1h0M158.3 951.0h0M184.2 937.9h0M204.7 937.4h0M192.5 891.0h0M218.8 925.2h0M227.1 901.7h0M227.1 923.2h0M227.1 934.9h0M271.8 903.7h0M270.8 910.5h0M270.8 919.3h0M270.8 922.2h0M270.8 936.9h0M283.0 939.8h0M310.8 931.0h0M318.6 914.4h0M235.1 938.8h0M242.5 935.9h0M246.9 935.9h0M251.7 936.9h0M259.1 937.9h0M315.9 938.3h0M318.8 938.3h0M323.7 935.0h0M323.7 939.0h0M270.8 800.3h0M323.9 824.8h0M270.8 845.6h0M270.8 854.2h0M323.9 848.0h0M323.1 859.7h0M319.2 864.4h0M305.2 867.8h0M236.4 870.3h0M270.8 881.6h0M305.2 884.4h0M192.7 890.6h0M319.3 914.6h0M311.0 919.8h0M300.2 923.1h0M304.9 925.7h0M311.0 931.3h0M323.9 931.0h0M282.9 938.9h0M178.3 941.2h0M174.4 943.9h0M175.4 944.0h0M178.2 943.8h0M180.2 943.1h0M183.9 943.2h0M186.4 943.9h0M189.9 943.8h0M196.0 944.1h0M170.4 946.1h0M173.5 944.5h0M177.3 945.0h0M177.7 946.2h0M181.8 946.3h0M183.8 944.5h0M186.0 946.7h0M188.2 945.1h0M190.8 945.9h0M192.6 946.3h0M196.3 944.5h0M169.3 947.8h0M170.5 947.0h0M174.9 948.9h0M176.2 947.4h0M177.8 949.1h0M181.2 946.8h0M183.8 948.6h0M185.4 949.2h0M187.2 947.1h0M190.9 947.9h0M192.8 948.5h0M196.5 948.9h0M170.3 951.1h0M170.4 950.7h0M172.7 949.4h0M176.5 950.7h0M177.9 950.2h0M180.8 950.9h0M183.3 950.1h0M186.7 950.8h0M187.4 950.5h0M190.0 949.8h0M193.4 951.3h0M195.2 950.5h0M196.9 951.1h0M172.1 952.7h0M173.8 952.7h0M177.5 952.2h0M177.9 953.4h0M181.9 951.7h0M183.8 953.7h0M186.4 952.0h0M187.5 952.7h0M190.4 952.0h0M193.1 952.1h0M194.5 952.8h0M169.7 955.4h0M171.5 954.3h0M174.3 954.6h0M176.9 956.3h0M179.6 954.7h0M181.0 955.1h0M184.1 955.0h0M185.5 955.4h0M188.5 956.0h0M191.7 956.1h0M194.3 955.4h0M195.3 955.7h0M167.1 958.7h0M169.2 956.4h0M171.1 957.7h0M174.6 957.8h0M175.6 957.9h0M179.6 957.6h0M181.9 957.7h0M182.4 958.7h0M184.8 957.1h0M188.7 958.4h0M190.0 958.5h0M193.6 956.6h0M195.4 958.5h0M156.5 961.1h0M160.3 961.2h0M161.1 960.0h0M163.3 960.4h0M166.5 959.0h0M168.3 961.0h0M172.4 961.1h0M174.9 960.1h0M176.3 960.2h0M179.3 959.3h0M181.0 959.8h0M184.2 958.9h0M186.2 959.0h0M188.4 959.3h0M191.8 959.1h0M192.7 959.3h0M194.9 960.4h0M196.9 960.3h0M154.4 961.5h0M157.8 963.3h0M160.0 962.3h0M162.7 961.3h0M163.6 962.6h0M166.0 962.8h0M169.1 963.2h0M172.7 961.3h0M174.5 961.3h0M176.4 962.1h0M178.6 963.0h0M179.9 962.7h0M184.4 963.3h0M185.9 962.8h0M187.5 961.7h0M191.8 961.3h0M194.1 961.8h0M195.6 961.8h0M196.9 963.3h0M150.2 965.3h0M151.4 963.6h0M153.7 965.6h0M156.0 963.8h0M158.5 963.8h0M161.5 965.0h0M165.3 964.0h0M165.6 965.9h0M168.2 965.4h0M172.5 964.6h0M175.1 964.4h0M175.5 965.7h0M179.1 964.3h0M180.0 964.3h0M183.8 965.0h0M185.4 964.6h0M187.9 963.8h0M191.0 964.9h0M194.0 965.5h0M195.3 965.4h0M149.9 966.3h0M152.5 966.9h0M155.3 967.9h0M156.1 968.4h0M160.2 967.8h0M161.3 966.6h0M165.2 966.1h0M165.8 967.5h0M168.5 967.2h0M171.6 967.0h0M174.6 966.5h0M176.9 967.0h0M179.7 966.4h0M180.4 966.8h0M182.8 966.7h0M185.6 967.9h0M188.8 967.9h0M190.8 966.7h0M192.2 968.3h0M195.8 966.5h0M149.4 969.8h0M153.0 968.9h0M154.1 969.4h0M156.6 970.4h0M159.6 968.9h0M161.9 969.6h0M163.7 969.8h0M167.4 968.9h0M168.6 968.8h0M171.1 970.3h0M174.5 970.6h0M176.0 968.6h0M177.9 969.6h0M180.2 970.1h0M183.0 969.5h0M185.7 969.3h0M189.1 968.5h0M191.6 968.6h0M192.2 968.9h0M197.1 969.7h0M202.4 942.0h0M210.2 942.1h0M202.2 942.7h0M206.0 942.8h0M209.1 943.7h0M209.9 944.7h0M218.6 944.8h0M220.6 942.9h0M204.0 945.8h0M205.1 946.6h0M209.0 946.9h0M210.8 945.8h0M212.4 946.7h0M215.6 944.9h0M217.6 947.2h0M219.5 947.2h0M204.3 947.3h0M205.2 948.1h0M208.7 947.4h0M209.8 949.5h0M213.4 948.0h0M215.9 949.5h0M218.7 949.7h0M220.1 947.6h0M200.9 949.9h0M203.7 949.8h0M205.1 951.8h0M207.1 950.2h0M210.1 950.5h0M213.6 949.9h0M215.0 951.6h0M218.3 951.9h0M218.9 952.1h0M202.0 953.1h0M203.2 953.2h0M206.8 953.3h0M208.4 953.1h0M210.9 953.8h0M213.3 953.5h0M215.1 952.9h0M217.7 953.4h0M220.3 952.2h0M221.4 953.9h0M201.4 954.8h0M203.8 956.8h0M206.7 955.8h0M207.1 956.4h0M210.4 956.7h0M212.9 955.0h0M214.3 954.6h0M218.5 956.7h0M219.0 956.1h0M201.9 958.0h0M202.9 959.1h0M205.1 959.0h0M209.1 957.4h0M210.2 958.7h0M212.2 958.6h0M215.0 959.2h0M218.5 959.2h0M220.2 958.7h0M203.6 961.4h0M204.8 959.9h0M207.0 959.3h0M209.9 960.4h0M211.7 959.6h0M215.6 961.4h0M216.5 961.1h0M219.5 960.3h0M202.5 963.2h0M205.9 962.1h0M208.7 963.2h0M209.4 963.5h0M212.5 962.5h0M215.8 961.8h0M218.3 963.1h0M220.5 963.5h0M203.3 965.8h0M206.4 965.0h0M208.1 965.6h0M209.5 966.2h0M213.0 964.4h0M214.6 964.2h0M217.1 964.5h0M220.8 965.9h0M202.9 968.1h0M205.8 967.8h0M207.8 968.4h0M211.5 966.7h0M211.9 968.2h0M215.9 967.7h0M216.7 967.3h0M219.9 968.1h0M201.4 970.6h0M202.6 969.4h0M209.1 969.2h0M211.0 969.5h0M212.2 970.2h0M216.2 969.6h0M216.7 969.7h0M257.0 939.6h0M238.8 941.9h0M240.6 941.9h0M250.0 941.8h0M255.0 942.0h0M257.4 941.9h0M259.5 941.0h0M228.1 943.0h0M230.1 942.9h0M232.3 943.3h0M235.1 943.6h0M239.4 943.5h0M240.5 944.6h0M243.3 943.7h0M244.9 944.5h0M249.1 942.6h0M249.9 944.4h0M251.9 944.2h0M255.6 943.9h0M257.1 944.0h0M260.2 944.1h0M262.1 943.9h0M269.4 944.1h0M270.7 943.8h0M229.0 946.7h0M231.8 946.4h0M233.0 945.8h0M235.5 945.3h0M238.8 945.1h0M241.3 946.3h0M244.0 945.7h0M246.3 946.7h0M247.9 946.4h0M250.0 944.9h0M252.9 945.5h0M255.7 944.8h0M256.6 945.5h0M259.7 946.6h0M263.3 945.9h0M265.5 946.4h0M266.2 945.1h0M269.0 946.9h0M270.7 944.8h0M275.1 946.6h0M226.4 948.0h0M228.0 947.6h0M230.2 948.1h0M234.3 948.6h0M235.4 949.4h0M238.0 948.3h0M241.4 948.2h0M242.5 948.2h0M245.6 949.4h0M248.5 949.4h0M250.3 948.3h0M252.5 947.6h0M255.9 947.4h0M257.0 947.7h0M260.1 948.6h0M261.7 947.6h0M264.1 948.0h0M266.8 949.1h0M270.5 948.8h0M270.8 948.3h0M274.2 949.3h0M276.3 948.9h0M228.9 950.2h0M231.8 949.7h0M234.6 950.0h0M237.1 950.3h0M239.3 949.7h0M239.8 949.7h0M242.6 951.4h0M244.7 949.9h0M248.4 950.9h0M249.2 950.3h0M253.3 950.9h0M256.2 951.5h0M258.1 951.5h0M258.9 950.4h0M263.0 950.3h0M264.6 951.1h0M266.2 951.3h0M269.2 951.7h0M271.9 949.7h0M274.9 951.3h0M277.8 951.5h0M279.3 951.5h0M226.9 953.2h0M227.6 953.0h0M230.7 953.6h0M234.7 952.8h0M236.9 953.6h0M237.5 953.6h0M240.8 952.7h0M242.2 952.4h0M246.4 953.1h0M248.1 953.8h0M249.6 952.6h0M253.4 952.7h0M254.3 953.9h0M257.0 952.3h0M260.2 952.6h0M261.4 952.6h0M265.0 952.7h0M266.1 953.2h0M269.0 952.4h0M271.9 952.8h0M274.5 953.8h0M276.6 954.1h0M278.0 953.8h0M226.6 956.4h0M228.1 955.6h0M231.7 954.8h0M233.3 955.8h0M236.6 955.8h0M237.5 956.4h0M241.4 956.1h0M243.7 955.5h0M245.9 956.8h0M249.0 954.8h0M250.6 956.5h0M251.6 955.8h0M254.2 954.8h0M257.2 955.7h0M260.0 955.6h0M263.4 955.6h0M265.3 955.2h0M267.7 956.2h0M269.9 956.2h0M272.1 956.5h0M275.1 954.6h0M276.6 954.7h0M280.2 955.4h0M229.1 958.0h0M230.5 958.2h0M232.8 957.5h0M236.2 958.9h0M238.8 958.3h0M241.3 957.7h0M244.3 958.3h0M244.9 956.9h0M247.0 957.3h0M250.9 958.8h0M253.7 958.3h0M254.6 958.8h0M258.6 958.5h0M258.9 957.8h0M261.7 959.1h0M265.4 957.0h0M267.4 959.2h0M269.6 958.9h0M272.6 957.9h0M274.2 957.2h0M276.4 957.3h0M279.9 958.2h0M226.8 961.2h0M227.5 960.0h0M230.9 961.4h0M234.4 959.4h0M237.0 960.7h0M237.3 960.9h0M241.6 959.8h0M242.7 959.9h0M246.0 960.9h0M248.6 961.4h0M249.5 960.9h0M253.0 959.8h0M256.2 960.3h0M258.6 961.5h0M260.9 960.3h0M261.8 960.6h0M264.6 960.3h0M266.5 961.2h0M270.1 961.3h0M272.0 959.4h0M275.2 959.4h0M275.9 961.5h0M279.2 960.8h0M228.5 963.0h0M229.9 962.8h0M232.4 961.9h0M236.7 963.2h0M237.5 963.4h0M240.6 961.9h0M244.1 961.9h0M244.3 962.2h0M246.9 961.6h0M250.7 961.9h0M252.9 962.2h0M256.2 962.1h0M257.5 963.4h0M259.4 963.6h0M261.9 962.5h0M264.5 962.6h0M267.4 962.1h0M269.1 962.1h0M271.4 963.4h0M274.6 963.9h0M277.8 962.1h0M278.4 963.8h0M228.6 965.6h0M231.9 964.5h0M232.5 965.9h0M235.8 965.5h0M238.5 965.8h0M241.9 965.6h0M242.8 964.4h0M244.5 965.7h0M247.3 964.7h0M250.2 965.3h0M252.5 966.3h0M254.6 965.4h0M256.3 964.2h0M259.2 964.7h0M262.2 965.4h0M263.9 965.4h0M266.1 964.9h0M270.2 965.1h0M272.3 964.5h0M274.8 966.4h0M277.1 966.4h0M279.9 965.8h0M227.5 968.3h0M232.2 967.2h0M234.2 967.4h0M236.8 967.9h0M237.2 967.3h0M239.5 968.2h0M244.0 968.8h0M245.6 967.3h0M248.0 967.5h0M249.8 968.6h0M252.4 968.5h0M255.3 968.4h0M257.9 967.5h0M260.4 968.1h0M263.2 967.5h0M264.8 968.2h0M267.1 967.9h0M268.9 968.7h0M272.2 968.0h0M274.9 968.3h0M275.7 967.3h0M279.3 968.8h0M227.4 970.1h0M227.7 969.6h0M232.2 969.6h0M233.6 969.6h0M236.2 970.0h0M237.9 969.0h0M240.2 970.3h0M243.1 969.9h0M245.7 969.7h0M247.9 970.2h0M258.0 969.0h0M260.6 970.3h0M261.7 969.4h0M264.3 969.6h0M266.9 970.1h0M270.2 969.8h0M270.8 970.5h0M273.1 969.9h0M277.1 970.3h0M286.1 944.4h0M284.8 946.0h0M286.8 946.8h0M288.0 946.5h0M284.5 947.6h0M286.6 947.7h0M286.0 952.1h0M288.1 951.1h0M284.8 952.3h0M285.6 953.5h0M288.0 952.9h0M284.3 954.6h0M285.7 954.8h0M289.0 956.3h0M285.4 957.9h0M288.1 959.1h0M286.0 961.5h0M284.1 961.9h0M286.1 962.0h0M289.5 962.2h0M284.1 966.0h0M287.0 966.3h0M288.9 965.0h0M285.2 967.5h0M287.9 967.3h0M284.1 969.7h0M285.8 970.5h0M287.9 969.7h0M315.9 939.0h0M316.4 939.4h0M299.6 941.6h0M314.0 941.7h0M318.2 939.8h0M319.5 941.9h0M323.6 941.9h0M300.8 941.9h0M303.1 943.8h0M312.0 943.1h0M314.2 942.0h0M316.2 943.1h0M318.4 942.2h0M321.5 942.8h0M324.3 942.9h0M298.8 945.3h0M301.3 946.4h0M303.7 944.9h0M305.2 946.6h0M307.7 946.3h0M310.1 946.4h0M312.4 946.2h0M313.9 945.7h0M316.1 945.8h0M319.9 946.5h0M321.2 946.5h0M298.1 947.3h0M300.5 947.8h0M301.8 947.9h0M304.1 946.9h0M308.3 947.8h0M311.1 948.5h0M311.6 948.1h0M315.6 947.3h0M317.2 949.0h0M319.3 947.6h0M321.5 948.6h0M324.4 947.6h0M298.5 949.5h0M300.6 949.7h0M303.4 950.5h0M305.8 950.5h0M308.1 951.4h0M310.0 951.3h0M312.1 949.6h0M316.0 950.7h0M316.2 951.2h0M320.1 949.1h0M322.0 951.5h0M324.2 951.4h0M298.9 952.9h0M300.4 953.4h0M302.4 952.7h0M305.1 953.5h0M308.6 951.9h0M310.9 952.3h0M312.2 951.6h0M315.4 952.8h0M316.9 952.5h0M320.6 952.0h0M321.9 952.8h0M300.1 954.5h0M301.6 956.0h0M306.1 954.3h0M307.0 956.3h0M310.7 955.2h0M312.0 955.2h0M315.4 954.2h0M316.3 954.1h0M319.0 956.1h0M320.9 955.3h0M298.8 956.6h0M300.9 956.9h0M302.6 957.7h0M305.3 958.6h0M308.3 956.5h0M310.5 956.7h0M312.1 956.4h0M313.9 958.0h0M316.8 958.6h0M319.7 958.3h0M323.2 958.6h0M324.4 957.7h0M300.6 960.0h0M303.5 960.7h0M305.5 958.9h0M307.6 960.8h0M310.6 960.1h0M311.4 961.0h0M313.7 959.0h0M316.2 960.2h0M319.6 960.9h0M322.3 960.1h0M323.3 961.0h0M301.0 961.3h0M302.9 962.1h0M304.4 962.7h0M306.8 962.8h0M310.3 961.7h0M311.4 962.6h0M315.0 961.9h0M316.6 962.9h0M319.7 962.2h0M321.9 963.3h0M323.2 963.2h0M298.5 963.9h0M300.3 964.5h0M303.8 965.1h0M306.1 965.6h0M308.0 965.7h0M309.3 965.4h0M312.8 965.8h0M315.2 965.2h0M317.3 965.1h0M319.8 963.9h0M321.1 964.8h0M324.6 965.5h0M298.4 966.7h0M299.2 968.0h0M303.3 968.1h0M305.7 965.9h0M306.7 966.3h0M309.6 967.1h0M311.8 968.3h0M313.7 966.9h0M316.9 967.7h0M319.5 966.1h0M321.6 967.5h0M299.0 969.4h0M300.2 969.2h0M303.2 970.7h0M305.7 969.5h0M307.1 970.6h0M310.3 970.3h0M312.5 968.9h0M315.5 970.6h0M316.9 970.2h0M319.3 970.2h0M321.3 970.0h0M139.4 970.9h0M143.7 969.8h0M145.3 970.5h0M147.1 970.7h0M155.7 970.2h0M159.4 970.8h0M165.2 970.5h0M167.0 969.9h0M174.9 971.0h0M176.0 969.6h0M177.9 970.0h0M182.5 969.5h0M186.3 970.7h0M192.9 970.2h0M194.2 970.9h0M208.2 969.5h0M210.8 969.8h0M212.3 970.4h0M226.2 969.2h0M227.9 971.0h0M232.2 970.1h0M236.2 970.2h0M238.0 970.1h0M243.3 969.8h0M244.3 970.7h0M247.9 969.8h0M253.4 969.6h0M257.1 970.2h0M268.0 970.2h0M271.1 969.8h0M274.1 969.7h0M278.8 969.5h0M282.6 970.3h0M287.3 969.9h0M297.8 969.7h0M300.1 969.5h0M305.0 969.3h0M309.7 970.5h0M312.4 970.2h0M313.7 970.6h0M315.8 970.1h0M320.7 970.0h0" stroke="#84ae4c" stroke-width="4.4" stroke-linecap="round" fill="none"/><path d="M844.6 727.1h0M830.8 740.2h0M836.9 747.8h0M830.8 749.5h0M830.8 752.4h0M830.8 753.9h0M830.8 754.6h0M858.0 745.4h0M858.0 747.5h0M891.6 730.5h0M905.1 732.5h0M913.9 730.2h0M913.9 732.8h0M913.9 736.0h0M905.1 745.7h0M905.1 748.7h0M901.3 757.2h0M854.3 753.0h0M907.6 740.6h0M925.2 677.4h0M919.8 682.4h0M925.2 683.0h0M929.1 685.9h0M924.7 688.4h0M927.6 689.8h0M925.2 691.2h0M919.8 693.2h0M919.8 694.1h0M925.2 696.7h0M921.7 697.4h0M921.3 698.3h0M922.7 699.0h0M923.7 701.3h0M919.8 701.7h0M920.3 702.7h0M919.8 704.0h0M922.2 704.5h0M920.3 705.4h0M922.2 706.3h0M922.7 707.3h0M921.3 709.1h0M921.3 711.0h0M916.4 712.3h0M920.3 712.8h0M923.7 713.0h0M920.3 713.7h0M922.7 714.8h0M920.3 715.5h0M920.3 716.5h0M913.6 719.7h0M916.5 719.5h0M915.1 720.6h0M916.0 721.5h0M916.5 722.4h0M916.0 723.8h0M914.1 725.7h0M914.1 727.3h0M927.6 676.4h0M930.0 676.9h0M932.4 676.2h0M928.1 678.7h0M931.0 678.3h0M927.1 680.6h0M929.1 680.3h0M931.5 680.8h0M928.1 682.0h0M930.0 682.0h0M929.1 683.3h0M946.0 677.4h0M946.0 679.4h0M947.0 679.0h0M946.5 680.1h0M947.5 681.7h0M946.0 682.4h0M947.0 683.3h0M947.5 684.3h0M947.0 685.2h0M946.5 687.0h0M950.8 692.6h0M950.8 694.4h0M950.8 696.0h0M950.8 697.8h0M951.3 699.2h0M952.3 699.2h0M952.3 701.3h0M952.7 702.4h0M953.7 703.6h0M953.2 704.7h0M953.2 705.7h0M944.8 636.7h0M932.4 638.5h0M936.1 639.2h0M937.4 641.2h0M938.5 642.4h0M921.3 642.6h0M941.1 644.7h0M937.4 646.6h0M943.6 648.4h0M936.1 650.7h0M938.5 651.0h0M932.4 652.1h0M940.0 652.4h0M944.8 653.4h0M933.7 653.4h0M933.7 660.0h0M933.7 660.7h0M933.7 662.1h0M932.7 663.9h0M933.7 663.4h0M943.9 661.8h0M941.0 663.2h0M941.5 663.9h0M925.0 666.1h0M931.3 665.7h0M932.7 667.3h0M934.6 667.6h0M941.0 665.7h0M943.4 666.4h0M944.4 668.7h0M943.4 669.2h0M931.3 668.7h0M928.9 670.6h0M930.3 671.9h0M927.4 673.8h0M929.8 672.9h0M925.0 671.6h0M941.0 671.7h0M944.8 671.0h0M944.8 672.4h0M944.8 674.2h0M945.8 675.2h0M931.7 675.6h0M927.4 676.5h0M925.0 677.5h0M929.3 678.1h0M930.3 679.3h0M945.8 677.5h0M946.3 679.3h0M938.7 651.1h0M937.1 652.2h0M937.1 653.4h0M936.2 654.4h0M937.1 654.9h0M941.0 655.4h0M933.8 656.1h0M936.2 655.7h0M937.6 656.0h0M933.8 656.7h0M936.2 656.7h0M938.4 656.6h0M936.0 657.5h0M940.9 657.4h0M937.6 657.8h0M939.5 658.0h0M936.8 658.5h0M938.4 658.8h0M940.9 658.5h0M943.6 658.8h0M938.4 660.1h0M940.9 660.0h0M843.4 750.2h0M839.7 750.9h0M841.0 751.0h0M841.6 750.7h0M843.6 750.4h0M845.2 750.9h0M846.5 750.5h0M848.2 750.7h0M849.1 750.9h0M849.9 750.9h0M838.6 751.6h0M840.0 751.3h0M840.6 751.0h0M842.4 751.5h0M844.1 751.2h0M844.6 751.4h0M846.8 751.7h0M847.2 751.3h0M849.6 751.3h0M835.9 752.2h0M837.0 751.8h0M838.5 751.8h0M840.0 751.7h0M841.3 751.8h0M842.1 751.9h0M843.9 751.8h0M844.8 751.7h0M846.0 751.9h0M847.2 752.1h0M848.9 752.1h0M850.6 752.0h0M835.9 752.5h0M836.9 752.4h0M838.8 752.5h0M839.2 752.4h0M840.6 752.8h0M842.5 752.4h0M843.4 752.6h0M845.2 752.6h0M846.5 752.9h0M848.0 752.6h0M849.0 752.6h0M849.9 752.5h0M837.4 753.5h0M838.6 753.5h0M839.7 753.6h0M841.1 753.3h0M841.7 753.3h0M843.2 753.1h0M845.0 753.5h0M846.1 753.5h0M847.7 753.1h0M849.7 753.2h0M850.2 753.5h0M836.4 754.2h0M838.0 754.2h0M839.7 754.1h0M840.9 753.8h0M842.1 754.2h0M843.2 754.3h0M845.3 753.9h0M846.5 753.9h0M847.5 753.9h0M848.4 753.9h0M836.1 754.5h0M838.8 754.4h0M840.0 754.7h0M841.3 754.7h0M842.1 754.8h0M843.0 754.6h0M844.8 754.6h0M845.8 754.4h0M847.8 754.5h0M849.5 754.7h0M850.9 754.7h0M835.8 755.1h0M836.2 755.5h0M838.2 755.4h0M839.6 755.3h0M840.3 755.0h0M842.5 755.3h0M843.1 755.5h0M844.5 755.2h0M845.9 755.4h0M847.4 755.0h0M848.4 755.0h0M850.0 755.3h0M836.1 756.1h0M837.0 756.1h0M838.8 755.6h0M839.0 755.8h0M840.3 755.9h0M841.9 755.7h0M843.3 755.6h0M845.3 756.0h0M846.5 755.6h0M847.6 756.0h0M848.6 755.8h0M849.8 755.6h0M836.5 756.2h0M838.6 756.2h0M839.0 756.8h0M841.2 756.4h0M841.7 756.5h0M843.4 756.8h0M844.9 756.3h0M846.9 756.6h0M847.2 756.3h0M849.0 756.3h0M850.6 756.6h0M835.8 757.4h0M837.0 757.3h0M837.7 756.9h0M838.9 757.5h0M841.1 757.5h0M842.0 757.3h0M843.0 757.0h0M844.7 757.2h0M846.4 757.2h0M847.6 757.2h0M849.7 757.2h0M850.9 756.9h0M835.6 757.7h0M836.7 758.1h0M838.4 757.9h0M838.9 757.5h0M840.5 757.6h0M842.9 757.5h0M843.4 757.5h0M845.2 757.5h0M845.8 757.6h0M847.4 757.9h0M849.5 757.7h0M850.1 758.0h0M837.7 758.3h0M845.0 758.3h0M849.1 758.2h0M850.9 758.2h0M858.3 748.5h0M858.8 749.4h0M859.4 749.1h0M858.3 749.6h0M860.2 749.7h0M857.3 750.2h0M858.2 750.4h0M859.7 750.3h0M857.7 751.2h0M858.9 750.7h0M860.0 751.0h0M857.1 751.5h0M858.1 751.6h0M859.7 751.9h0M856.6 752.4h0M858.5 752.1h0M860.1 752.4h0M861.0 752.6h0M856.6 753.1h0M858.2 752.9h0M859.9 753.2h0M860.5 752.8h0M855.4 753.9h0M856.7 753.8h0M859.1 753.8h0M860.1 753.8h0M856.2 754.5h0M857.6 754.0h0M858.3 754.2h0M860.3 754.2h0M860.8 754.0h0M855.0 754.7h0M856.8 754.9h0M858.2 755.2h0M859.4 755.0h0M854.8 755.3h0M856.1 755.7h0M857.0 755.3h0M858.0 755.7h0M859.2 755.4h0M855.5 756.1h0M857.4 756.1h0M858.7 756.2h0M860.3 756.4h0M855.2 756.8h0M857.1 756.8h0M858.6 756.9h0M859.7 757.0h0M854.6 757.3h0M855.5 757.8h0M857.7 757.8h0M857.8 757.7h0M860.4 757.8h0M854.6 758.2h0M856.1 758.2h0M856.7 757.9h0M859.0 758.3h0M859.3 758.4h0M874.5 751.5h0M875.5 751.5h0M874.4 752.5h0M876.0 752.1h0M874.5 752.8h0M875.7 752.7h0M874.5 753.9h0M875.1 753.3h0M874.2 754.5h0M876.0 754.5h0M873.6 754.9h0M875.9 754.8h0M876.1 754.7h0M873.1 755.3h0M873.7 755.4h0M875.6 755.7h0M876.4 755.6h0M874.2 756.4h0M875.1 756.1h0M876.3 756.2h0M873.1 757.1h0M874.1 756.7h0M875.6 756.7h0M876.3 756.8h0M873.1 757.7h0M874.8 757.4h0M875.1 757.2h0M874.4 757.9h0M875.6 758.3h0M881.8 746.8h0M880.2 747.4h0M882.2 747.5h0M882.8 747.5h0M879.9 747.6h0M881.3 748.1h0M883.0 747.8h0M878.7 748.2h0M881.0 748.8h0M881.9 748.6h0M883.8 748.5h0M878.2 749.3h0M878.8 749.4h0M881.0 749.1h0M881.7 748.9h0M883.2 748.9h0M884.7 749.3h0M878.0 750.0h0M878.7 749.9h0M881.0 749.6h0M882.5 750.1h0M883.6 750.1h0M884.3 749.9h0M878.3 750.3h0M879.6 750.6h0M881.0 750.4h0M881.8 750.7h0M882.7 750.2h0M879.7 750.8h0M879.9 751.0h0M882.5 751.3h0M883.1 751.3h0M884.4 751.0h0M878.2 751.7h0M878.9 752.1h0M880.4 751.6h0M881.8 751.9h0M883.6 751.5h0M878.5 752.6h0M878.5 752.4h0M880.7 752.7h0M881.9 752.1h0M883.9 752.7h0M884.6 752.1h0M878.5 752.7h0M879.1 752.9h0M880.0 753.2h0M881.7 752.8h0M882.8 753.3h0M884.8 752.9h0M878.1 753.8h0M878.5 753.7h0M880.9 753.9h0M882.2 754.0h0M883.6 754.0h0M884.5 753.4h0M879.2 754.2h0M880.3 754.5h0M882.4 754.6h0M883.1 754.5h0M885.1 754.1h0M879.0 754.7h0M880.5 754.7h0M881.6 754.8h0M883.0 754.8h0M884.6 755.1h0M878.3 755.5h0M878.6 755.8h0M880.2 755.5h0M882.0 756.0h0M883.0 755.6h0M884.8 755.8h0M877.9 756.4h0M878.7 756.1h0M881.2 756.5h0M882.4 756.6h0M883.9 756.2h0M885.0 756.4h0M879.1 756.7h0M879.9 757.0h0M881.5 757.2h0M882.9 756.8h0M879.0 757.8h0M880.3 757.6h0M881.9 757.5h0M883.7 757.3h0M884.3 757.8h0M880.7 758.3h0M884.9 758.1h0M915.9 720.2h0M916.4 720.7h0M915.9 721.7h0M914.4 722.4h0M915.5 722.4h0M914.7 723.0h0M915.3 722.8h0M914.7 723.9h0M914.7 724.4h0M914.9 724.6h0M914.5 725.7h0M914.1 725.9h0M913.7 727.2h0M912.4 727.9h0M912.0 728.4h0M913.0 728.4h0M911.4 729.0h0M912.0 729.7h0M910.2 730.5h0M909.8 731.7h0M911.1 731.6h0M910.1 732.7h0M909.1 732.8h0M910.7 732.8h0M909.3 733.6h0M909.7 733.8h0M909.5 734.3h0M910.5 734.4h0M908.0 734.9h0M909.0 735.0h0M910.5 734.7h0M907.5 735.4h0M909.0 735.9h0M909.6 736.0h0M907.4 736.7h0M909.3 736.1h0M907.5 736.9h0M908.8 736.9h0M906.2 737.5h0M907.4 737.5h0M908.3 737.6h0M904.8 738.6h0M905.5 738.1h0M907.0 738.3h0M908.4 738.2h0M905.4 739.3h0M906.9 738.8h0M903.7 739.8h0M905.2 739.9h0M906.4 740.0h0M908.0 740.1h0M901.9 740.3h0M903.2 740.7h0M904.6 740.7h0M906.3 740.5h0M906.8 740.4h0M908.1 740.8h0M900.9 741.1h0M902.3 741.3h0M902.7 740.9h0M903.8 741.1h0M906.3 740.9h0M906.9 741.5h0M899.6 741.6h0M901.3 741.7h0M902.7 741.7h0M904.2 741.5h0M906.5 741.9h0M899.1 742.4h0M900.8 742.2h0M901.1 742.4h0M902.6 742.5h0M904.4 742.2h0M905.6 742.3h0M897.1 743.5h0M898.8 743.4h0M900.7 743.4h0M902.1 743.0h0M903.6 743.2h0M904.1 743.0h0M906.0 743.2h0M894.7 744.1h0M895.6 743.9h0M898.0 743.8h0M899.3 744.1h0M899.6 743.7h0M901.3 744.1h0M903.2 743.6h0M904.4 743.7h0M895.0 744.5h0M896.5 744.5h0M897.2 744.3h0M898.2 744.6h0M900.0 744.3h0M901.7 744.7h0M903.3 744.2h0M904.3 744.6h0M894.8 745.5h0M895.4 745.2h0M898.0 744.9h0M898.8 745.4h0M900.2 745.4h0M901.5 745.1h0M902.4 745.2h0M891.7 746.0h0M892.7 746.2h0M895.0 746.0h0M896.3 745.7h0M896.8 745.8h0M898.3 745.8h0M900.6 745.7h0M901.1 746.1h0M890.8 746.5h0M891.9 746.3h0M892.5 746.7h0M894.1 746.5h0M896.0 746.9h0M897.8 746.6h0M899.3 746.4h0M899.7 746.4h0M901.8 746.4h0M888.9 747.5h0M890.7 747.0h0M891.8 747.1h0M892.5 747.3h0M895.2 747.0h0M895.3 747.0h0M897.3 747.1h0M899.1 747.1h0M900.8 747.0h0M901.2 747.5h0M890.6 748.2h0M891.1 748.1h0M893.7 747.7h0M894.3 747.9h0M896.1 747.9h0M897.5 747.8h0M898.7 747.8h0M900.5 748.2h0M890.1 748.8h0M892.1 748.3h0M893.3 748.6h0M893.9 748.3h0M896.4 748.7h0M896.9 748.6h0M899.4 748.6h0M900.4 748.7h0M889.2 749.4h0M889.8 749.0h0M892.3 748.9h0M893.5 749.4h0M894.8 748.9h0M896.6 749.1h0M897.9 749.3h0M898.6 749.0h0M899.6 749.1h0M901.1 748.9h0M888.9 749.8h0M889.9 750.2h0M891.2 749.9h0M892.7 750.1h0M894.7 750.0h0M895.9 749.9h0M898.1 749.9h0M899.0 749.7h0M900.3 750.1h0M889.1 750.6h0M889.7 750.8h0M891.1 750.5h0M892.8 750.9h0M895.1 750.4h0M895.8 750.6h0M896.8 750.3h0M898.9 750.6h0M889.6 751.6h0M891.1 751.3h0M893.0 751.5h0M894.5 751.1h0M896.3 751.2h0M897.3 751.5h0M890.7 752.1h0M892.0 752.2h0M892.5 752.2h0M893.9 752.0h0M895.9 751.7h0M889.1 752.8h0M889.7 752.8h0M892.2 752.5h0M893.8 752.5h0M894.2 752.4h0M889.4 753.6h0M890.7 753.4h0M892.3 753.3h0M893.6 753.5h0M894.5 753.2h0M895.4 753.6h0M889.1 753.8h0M890.8 754.1h0M891.4 753.8h0M892.6 753.8h0M895.1 753.9h0M889.5 754.7h0M889.6 754.6h0M891.9 754.4h0M893.2 754.6h0M893.9 754.9h0M895.7 754.5h0M889.0 755.4h0M890.2 755.3h0M891.5 755.3h0M892.9 755.2h0M894.1 755.4h0M890.5 756.0h0M891.5 755.9h0M893.4 755.8h0M889.0 756.7h0M890.4 756.5h0M892.1 756.4h0M892.4 756.5h0M889.5 757.7h0M889.8 757.4h0M889.8 758.0h0M891.0 757.8h0M831.0 762.7h0M831.0 768.6h0M831.0 769.6h0M831.0 783.5h0M831.0 798.5h0M835.3 772.3h0M836.9 768.6h0M836.9 779.1h0M836.9 784.5h0M836.9 785.8h0M836.9 787.8h0M836.9 793.5h0M836.9 799.5h0M839.1 767.0h0M840.4 768.6h0M841.7 770.3h0M844.2 769.0h0M844.5 770.7h0M844.2 778.4h0M844.9 782.1h0M848.4 767.0h0M849.3 766.3h0M848.4 774.4h0M848.4 777.7h0M853.1 775.4h0M853.1 778.4h0M853.1 781.4h0M853.1 782.8h0M853.1 786.4h0M853.1 791.8h0M855.6 772.3h0M858.2 773.0h0M856.6 777.1h0M858.2 781.1h0M873.8 773.0h0M874.3 759.5h0M876.7 762.5h0M875.3 766.2h0M874.3 772.7h0M882.9 761.7h0M882.9 763.2h0M887.8 761.7h0M891.6 760.7h0M891.6 764.0h0M891.6 769.1h0M891.6 770.9h0M891.6 784.5h0M947.3 532.1h0M943.5 559.7h0M943.5 564.7h0M943.5 580.5h0M933.7 618.3h0M835.2 758.6h0M837.1 758.6h0M838.8 758.9h0M840.2 758.6h0M848.8 758.6h0M851.2 758.5h0M836.0 759.8h0M837.5 759.0h0M837.8 759.9h0M839.0 759.0h0M841.2 759.0h0M842.3 760.2h0M842.9 759.7h0M843.8 760.2h0M845.9 759.3h0M846.1 759.9h0M848.4 759.2h0M849.4 760.0h0M849.8 759.2h0M851.0 759.3h0M836.0 761.5h0M836.7 761.3h0M838.0 760.5h0M839.9 760.9h0M840.9 761.3h0M842.2 761.2h0M842.8 760.6h0M844.2 760.7h0M845.0 761.1h0M846.9 761.4h0M847.9 760.9h0M848.8 760.7h0M850.5 761.1h0M850.8 761.0h0M836.3 762.2h0M837.6 761.6h0M839.4 762.5h0M840.7 762.5h0M841.6 762.3h0M842.5 762.7h0M844.5 762.6h0M845.6 762.3h0M847.6 761.8h0M849.2 762.1h0M835.6 763.2h0M840.7 763.2h0M842.4 762.9h0M843.6 762.7h0M843.8 763.4h0M845.1 763.6h0M842.4 764.6h0M843.3 765.1h0M844.6 764.0h0M854.7 758.7h0M855.8 758.6h0M859.7 758.8h0M860.9 758.7h0M855.3 759.1h0M856.5 759.7h0M857.2 759.7h0M858.5 759.7h0M859.7 759.4h0M861.3 759.7h0M854.3 761.0h0M855.1 761.4h0M855.6 760.5h0M857.4 760.6h0M857.9 760.6h0M859.9 761.1h0M860.3 760.6h0M853.9 762.7h0M854.7 761.6h0M856.2 762.3h0M858.7 761.6h0M859.8 761.6h0M854.5 763.5h0M856.6 762.8h0M854.1 764.2h0M855.0 764.8h0M856.0 764.2h0M855.4 766.2h0M854.0 767.0h0M855.4 767.2h0M855.8 766.8h0M855.2 768.9h0M638.5 757.3h0M655.0 752.4h0M682.1 748.6h0M703.5 748.5h0M690.7 735.1h0M718.3 744.9h0M727.0 738.2h0M727.0 744.4h0M727.0 747.7h0M773.7 738.8h0M772.7 740.7h0M772.7 743.2h0M772.7 744.1h0M772.7 748.3h0M785.4 749.1h0M814.5 746.6h0M822.7 741.8h0M735.3 748.9h0M743.1 748.0h0M747.7 748.0h0M752.7 748.3h0M760.4 748.6h0M819.9 748.7h0M822.9 748.7h0M828.0 747.8h0M828.0 748.9h0M772.7 709.0h0M828.2 716.1h0M772.7 722.0h0M772.7 724.5h0M828.2 722.7h0M827.4 726.1h0M823.3 727.4h0M808.7 728.4h0M736.7 729.1h0M772.7 732.4h0M808.7 733.2h0M691.0 735.0h0M823.4 741.9h0M814.7 743.4h0M803.4 744.3h0M808.4 745.1h0M814.7 746.7h0M828.2 746.6h0M785.3 748.9h0M675.9 749.6h0M671.8 750.3h0M672.9 750.4h0M675.8 750.3h0M677.9 750.1h0M681.7 750.1h0M684.3 750.3h0M688.0 750.3h0M694.4 750.4h0M667.6 751.0h0M670.8 750.5h0M674.8 750.6h0M675.3 751.0h0M679.5 751.0h0M681.6 750.5h0M683.9 751.1h0M686.2 750.7h0M689.0 750.9h0M690.9 751.0h0M694.7 750.5h0M666.5 751.4h0M667.7 751.2h0M672.3 751.8h0M673.7 751.3h0M675.4 751.8h0M678.9 751.2h0M681.6 751.7h0M683.3 751.8h0M685.2 751.2h0M689.1 751.5h0M691.0 751.6h0M695.0 751.8h0M667.5 752.4h0M667.6 752.3h0M670.1 751.9h0M674.0 752.3h0M675.5 752.1h0M678.5 752.3h0M681.1 752.1h0M684.7 752.3h0M685.4 752.2h0M688.2 752.0h0M691.7 752.4h0M693.5 752.2h0M695.3 752.4h0M669.4 752.9h0M671.2 752.9h0M675.0 752.7h0M675.5 753.1h0M679.7 752.6h0M681.6 753.1h0M684.4 752.6h0M685.5 752.9h0M688.5 752.7h0M691.4 752.7h0M692.8 752.9h0M666.9 753.6h0M668.7 753.3h0M671.7 753.4h0M674.4 753.9h0M677.2 753.4h0M678.7 753.5h0M682.0 753.5h0M683.5 753.6h0M686.5 753.8h0M689.9 753.8h0M692.6 753.6h0M693.7 753.7h0M664.2 754.6h0M666.4 753.9h0M668.3 754.3h0M672.0 754.3h0M673.0 754.3h0M677.3 754.3h0M679.7 754.3h0M680.2 754.6h0M682.7 754.1h0M686.7 754.5h0M688.1 754.5h0M691.9 754.0h0M693.7 754.5h0M653.1 755.3h0M657.1 755.3h0M657.9 755.0h0M660.2 755.1h0M663.5 754.7h0M665.4 755.2h0M669.7 755.3h0M672.3 755.0h0M673.8 755.0h0M677.0 754.8h0M678.7 754.9h0M682.1 754.6h0M684.2 754.7h0M686.5 754.8h0M690.1 754.7h0M690.9 754.8h0M693.3 755.1h0M695.3 755.0h0M650.9 755.4h0M654.4 755.9h0M656.7 755.6h0M659.6 755.3h0M660.5 755.7h0M663.0 755.8h0M666.2 755.9h0M670.0 755.3h0M671.9 755.3h0M673.9 755.6h0M676.3 755.8h0M677.6 755.7h0M682.3 755.9h0M683.9 755.8h0M685.5 755.4h0M690.1 755.3h0M692.4 755.5h0M694.0 755.5h0M695.4 755.9h0M646.5 756.5h0M647.7 756.0h0M650.2 756.6h0M652.5 756.1h0M655.2 756.0h0M658.3 756.4h0M662.3 756.1h0M662.6 756.7h0M665.4 756.5h0M669.9 756.3h0M672.5 756.2h0M673.0 756.6h0M676.7 756.2h0M677.7 756.2h0M681.6 756.4h0M683.3 756.3h0M685.9 756.0h0M689.2 756.4h0M692.3 756.6h0M693.6 756.5h0M646.1 756.8h0M648.9 757.0h0M651.8 757.2h0M652.7 757.4h0M656.9 757.2h0M658.1 756.9h0M662.2 756.7h0M662.8 757.1h0M665.6 757.0h0M668.8 757.0h0M672.0 756.8h0M674.4 757.0h0M677.3 756.8h0M678.1 756.9h0M680.6 756.9h0M683.5 757.2h0M686.8 757.2h0M689.0 756.9h0M690.5 757.3h0M694.2 756.8h0M645.7 757.8h0M649.5 757.5h0M650.5 757.7h0M653.2 758.0h0M656.4 757.5h0M658.7 757.7h0M660.7 757.8h0M664.4 757.5h0M665.8 757.5h0M668.3 757.9h0M671.9 758.0h0M673.5 757.4h0M675.5 757.7h0M677.8 757.9h0M680.8 757.7h0M683.6 757.6h0M687.2 757.4h0M689.8 757.4h0M690.4 757.5h0M695.5 757.8h0M701.1 749.8h0M709.3 749.8h0M700.9 750.0h0M704.9 750.0h0M708.1 750.3h0M709.0 750.5h0M718.1 750.6h0M720.1 750.0h0M702.7 750.9h0M703.9 751.1h0M708.0 751.2h0M709.9 750.9h0M711.5 751.1h0M714.9 750.6h0M717.0 751.3h0M719.0 751.3h0M703.1 751.3h0M704.1 751.5h0M707.7 751.3h0M708.8 751.9h0M712.6 751.5h0M715.2 751.9h0M718.2 752.0h0M719.6 751.4h0M699.5 752.0h0M702.5 752.0h0M703.9 752.6h0M706.0 752.1h0M709.1 752.2h0M712.8 752.1h0M714.3 752.6h0M717.7 752.6h0M718.3 752.7h0M700.7 753.0h0M702.0 753.0h0M705.7 753.0h0M707.4 753.0h0M710.0 753.2h0M712.6 753.1h0M714.4 752.9h0M717.1 753.1h0M719.8 752.7h0M721.0 753.2h0M700.0 753.5h0M702.6 754.0h0M705.6 753.8h0M706.1 753.9h0M709.5 754.0h0M712.1 753.5h0M713.5 753.4h0M718.0 754.0h0M718.5 753.8h0M700.6 754.4h0M701.7 754.7h0M703.9 754.7h0M708.1 754.2h0M709.2 754.6h0M711.3 754.5h0M714.3 754.7h0M717.9 754.7h0M719.7 754.6h0M702.4 755.4h0M703.7 754.9h0M705.9 754.8h0M708.9 755.1h0M710.8 754.9h0M715.0 755.4h0M715.9 755.3h0M719.0 755.0h0M701.2 755.9h0M704.7 755.6h0M707.7 755.9h0M708.5 756.0h0M711.7 755.7h0M715.1 755.5h0M717.7 755.9h0M720.1 756.0h0M702.0 756.6h0M705.3 756.4h0M707.1 756.6h0M708.6 756.8h0M712.2 756.2h0M713.9 756.2h0M716.5 756.2h0M720.3 756.7h0M701.6 757.3h0M704.7 757.2h0M706.8 757.4h0M710.6 756.9h0M711.0 757.3h0M715.2 757.2h0M716.1 757.1h0M719.4 757.3h0M700.0 758.0h0M701.3 757.7h0M708.1 757.6h0M710.1 757.7h0M711.4 757.9h0M715.6 757.7h0M716.1 757.7h0M758.2 749.1h0M739.2 749.8h0M741.0 749.7h0M750.9 749.7h0M756.2 749.8h0M758.6 749.7h0M760.9 749.5h0M728.0 750.1h0M730.1 750.0h0M732.4 750.2h0M735.3 750.2h0M739.8 750.2h0M740.9 750.5h0M743.9 750.3h0M745.6 750.5h0M750.0 749.9h0M750.8 750.5h0M752.9 750.4h0M756.8 750.3h0M758.3 750.3h0M761.6 750.4h0M763.5 750.3h0M771.3 750.4h0M772.6 750.3h0M729.0 751.1h0M731.9 751.0h0M733.1 750.9h0M735.7 750.7h0M739.2 750.7h0M741.8 751.0h0M744.7 750.9h0M747.1 751.1h0M748.7 751.1h0M750.9 750.6h0M754.0 750.8h0M756.9 750.6h0M757.8 750.8h0M761.1 751.1h0M764.8 750.9h0M767.1 751.0h0M767.9 750.7h0M770.8 751.2h0M772.6 750.6h0M777.2 751.1h0M726.2 751.5h0M727.9 751.4h0M730.2 751.5h0M734.5 751.7h0M735.7 751.9h0M738.3 751.6h0M741.9 751.6h0M743.1 751.6h0M746.3 751.9h0M749.4 751.9h0M751.3 751.6h0M753.5 751.4h0M757.1 751.3h0M758.2 751.4h0M761.4 751.7h0M763.2 751.4h0M765.6 751.5h0M768.5 751.8h0M772.3 751.7h0M772.7 751.6h0M776.3 751.9h0M778.4 751.8h0M728.8 752.2h0M731.9 752.0h0M734.8 752.1h0M737.4 752.2h0M739.7 752.0h0M740.3 752.0h0M743.2 752.5h0M745.3 752.1h0M749.2 752.4h0M750.1 752.2h0M754.4 752.3h0M757.4 752.5h0M759.4 752.5h0M760.2 752.2h0M764.6 752.2h0M766.2 752.4h0M767.8 752.4h0M771.1 752.6h0M773.8 752.0h0M777.0 752.4h0M780.0 752.5h0M781.5 752.5h0M726.8 753.0h0M727.5 752.9h0M730.8 753.1h0M734.9 752.9h0M737.2 753.1h0M737.8 753.1h0M741.3 752.8h0M742.8 752.8h0M747.1 753.0h0M748.9 753.2h0M750.5 752.8h0M754.4 752.9h0M755.4 753.2h0M758.3 752.7h0M761.6 752.8h0M762.9 752.8h0M766.6 752.9h0M767.8 753.0h0M770.8 752.8h0M773.8 752.9h0M776.5 753.2h0M778.8 753.3h0M780.2 753.2h0M726.5 753.9h0M728.0 753.7h0M731.8 753.5h0M733.4 753.8h0M736.9 753.7h0M737.8 753.9h0M742.0 753.8h0M744.3 753.7h0M746.6 754.0h0M749.9 753.5h0M751.6 753.9h0M752.6 753.7h0M755.3 753.5h0M758.4 753.7h0M761.4 753.7h0M764.9 753.7h0M766.9 753.6h0M769.4 753.9h0M771.7 753.9h0M774.0 753.9h0M777.2 753.4h0M778.7 753.4h0M782.5 753.6h0M729.1 754.4h0M730.6 754.4h0M732.9 754.3h0M736.4 754.6h0M739.2 754.5h0M741.8 754.3h0M744.9 754.5h0M745.6 754.1h0M747.7 754.2h0M751.8 754.6h0M754.8 754.5h0M755.7 754.6h0M759.9 754.5h0M760.2 754.3h0M763.2 754.7h0M767.1 754.1h0M769.1 754.7h0M771.4 754.7h0M774.6 754.4h0M776.2 754.2h0M778.5 754.2h0M782.2 754.5h0M726.6 755.3h0M727.4 755.0h0M731.0 755.4h0M734.6 754.8h0M737.3 755.2h0M737.6 755.2h0M742.1 754.9h0M743.2 754.9h0M746.7 755.2h0M749.4 755.4h0M750.4 755.2h0M754.1 754.9h0M757.4 755.1h0M759.9 755.4h0M762.3 755.0h0M763.2 755.1h0M766.2 755.1h0M768.2 755.3h0M771.9 755.3h0M773.9 754.8h0M777.2 754.8h0M778.0 755.4h0M781.5 755.2h0M728.4 755.8h0M729.9 755.8h0M732.5 755.5h0M737.0 755.9h0M737.9 755.9h0M741.1 755.5h0M744.8 755.5h0M745.0 755.6h0M747.7 755.4h0M751.6 755.5h0M753.9 755.6h0M757.4 755.6h0M758.8 755.9h0M760.8 756.0h0M763.3 755.7h0M766.1 755.7h0M769.1 755.6h0M770.9 755.6h0M773.3 755.9h0M776.7 756.1h0M780.0 755.6h0M780.6 756.0h0M728.5 756.6h0M732.0 756.3h0M732.6 756.7h0M736.0 756.5h0M738.9 756.6h0M742.4 756.6h0M743.4 756.2h0M745.2 756.6h0M748.1 756.3h0M751.1 756.5h0M753.5 756.8h0M755.7 756.5h0M757.5 756.2h0M760.5 756.3h0M763.7 756.5h0M765.5 756.5h0M767.8 756.4h0M772.1 756.4h0M774.2 756.3h0M776.9 756.8h0M779.2 756.8h0M782.2 756.6h0M727.4 757.4h0M732.2 757.0h0M734.4 757.1h0M737.1 757.2h0M737.6 757.1h0M740.0 757.3h0M744.6 757.5h0M746.3 757.1h0M748.8 757.1h0M750.7 757.4h0M753.5 757.4h0M756.4 757.4h0M759.2 757.1h0M761.8 757.3h0M764.7 757.1h0M766.4 757.3h0M768.8 757.2h0M770.7 757.5h0M774.2 757.3h0M777.0 757.3h0M777.8 757.1h0M781.6 757.5h0M727.3 757.9h0M727.5 757.7h0M732.3 757.7h0M733.8 757.7h0M736.4 757.8h0M738.2 757.6h0M740.6 757.9h0M743.7 757.8h0M746.4 757.8h0M748.8 757.9h0M759.3 757.5h0M762.0 757.9h0M763.2 757.7h0M765.9 757.7h0M768.6 757.9h0M772.0 757.8h0M772.6 758.0h0M775.1 757.8h0M779.2 757.9h0M788.7 750.5h0M787.3 750.9h0M789.4 751.2h0M790.7 751.1h0M787.0 751.4h0M789.2 751.4h0M788.6 752.7h0M790.8 752.4h0M787.4 752.7h0M788.2 753.1h0M790.7 752.9h0M786.8 753.4h0M788.3 753.5h0M791.7 753.9h0M787.9 754.3h0M790.8 754.7h0M788.6 755.4h0M786.6 755.5h0M788.6 755.5h0M792.3 755.6h0M786.6 756.7h0M789.6 756.8h0M791.6 756.4h0M787.7 757.1h0M790.5 757.1h0M786.6 757.7h0M788.3 758.0h0M790.5 757.8h0M819.9 748.9h0M820.4 749.0h0M802.8 749.7h0M817.8 749.7h0M822.3 749.2h0M823.7 749.7h0M827.9 749.7h0M804.0 749.8h0M806.5 750.3h0M815.8 750.1h0M818.0 749.8h0M820.2 750.1h0M822.5 749.8h0M825.7 750.0h0M828.6 750.0h0M802.0 750.7h0M804.6 751.0h0M807.1 750.6h0M808.7 751.1h0M811.2 751.0h0M813.8 751.1h0M816.2 751.0h0M817.7 750.9h0M820.0 750.9h0M824.1 751.1h0M825.4 751.1h0M801.3 751.3h0M803.8 751.5h0M805.1 751.5h0M807.5 751.2h0M811.9 751.4h0M814.9 751.7h0M815.4 751.5h0M819.6 751.3h0M821.2 751.8h0M823.5 751.4h0M825.8 751.7h0M828.8 751.4h0M801.7 752.0h0M803.9 752.0h0M806.8 752.2h0M809.3 752.2h0M811.7 752.5h0M813.7 752.5h0M815.9 752.0h0M820.0 752.3h0M820.2 752.4h0M824.3 751.8h0M826.2 752.5h0M828.5 752.5h0M802.1 752.9h0M803.7 753.1h0M805.7 752.8h0M808.6 753.1h0M812.2 752.6h0M814.6 752.8h0M816.0 752.6h0M819.3 752.9h0M820.9 752.8h0M824.8 752.6h0M826.1 752.9h0M803.3 753.4h0M804.9 753.8h0M809.6 753.3h0M810.6 753.9h0M814.4 753.6h0M815.8 753.6h0M819.4 753.3h0M820.3 753.3h0M823.1 753.8h0M825.1 753.6h0M802.0 754.0h0M804.2 754.1h0M806.0 754.3h0M808.7 754.6h0M811.9 754.0h0M814.2 754.0h0M815.9 753.9h0M817.8 754.4h0M820.8 754.6h0M823.8 754.5h0M827.5 754.6h0M828.7 754.3h0M803.8 755.0h0M806.9 755.2h0M809.0 754.7h0M811.2 755.2h0M814.3 755.0h0M815.1 755.3h0M817.5 754.7h0M820.1 755.0h0M823.7 755.2h0M826.6 755.0h0M827.6 755.2h0M804.3 755.3h0M806.3 755.6h0M807.8 755.7h0M810.3 755.8h0M814.0 755.4h0M815.1 755.7h0M819.0 755.5h0M820.6 755.8h0M823.9 755.6h0M826.1 755.9h0M827.5 755.9h0M801.6 756.1h0M803.6 756.3h0M807.2 756.4h0M809.7 756.6h0M811.6 756.6h0M812.9 756.5h0M816.6 756.6h0M819.1 756.4h0M821.3 756.4h0M823.9 756.1h0M825.3 756.3h0M828.9 756.5h0M801.5 756.9h0M802.4 757.3h0M806.7 757.3h0M809.2 756.7h0M810.2 756.8h0M813.3 757.0h0M815.5 757.3h0M817.5 757.0h0M821.0 757.2h0M823.6 756.7h0M825.9 757.1h0M802.2 757.7h0M803.5 757.6h0M806.6 758.0h0M809.2 757.7h0M810.7 758.0h0M814.0 757.9h0M816.3 757.5h0M819.5 758.0h0M820.9 757.9h0M823.4 757.9h0M825.5 757.8h0M640.1 769.8h0M645.0 770.3h0M657.2 781.5h0M669.9 775.7h0M675.7 770.8h0M684.5 773.2h0M694.3 773.7h0M694.3 784.9h0M694.3 786.9h0M694.3 788.8h0M711.8 782.5h0M713.3 782.0h0M719.2 772.7h0M711.7 770.9h0M704.3 763.4h0M715.6 766.6h0M710.2 768.1h0M726.6 763.4h0M732.8 766.2h0M757.8 771.3h0M719.4 772.7h0M727.7 771.3h0M727.7 783.5h0M747.2 783.5h0M751.6 784.5h0M751.6 788.8h0M769.7 786.4h0M768.7 790.8h0M772.6 796.7h0M781.4 799.1h0M738.4 770.8h0M743.3 768.3h0M768.7 773.7h0M769.2 778.6h0M772.6 777.6h0M773.6 782.5h0M764.8 768.8h0M808.4 784.5h0M814.8 784.5h0M803.4 778.6h0M803.4 784.5h0M808.7 780.0h0M818.7 785.4h0M814.8 788.4h0M814.8 790.3h0M823.6 790.3h0M828.4 790.8h0M694.7 803.4h0M727.9 822.0h0M753.9 801.9h0M765.0 806.4h0M769.9 803.0h0M772.8 796.6h0M781.6 800.5h0M784.0 803.0h0M784.9 826.9h0M772.8 835.3h0M808.4 804.8h0M814.8 814.2h0M814.8 819.1h0M823.6 802.5h0M828.5 805.4h0M823.6 848.8h0M828.5 875.3h0M770.5 897.2h0M772.8 905.0h0M772.8 909.9h0M823.6 921.0h0M808.4 932.3h0M772.8 951.9h0M727.9 957.7h0M719.1 970.4h0M635.2 758.1h0M639.7 757.8h0M641.3 758.0h0M643.2 758.0h0M644.3 758.4h0M645.9 758.2h0M652.3 757.9h0M653.9 758.3h0M656.1 758.1h0M657.9 758.4h0M660.2 758.1h0M662.1 758.0h0M664.1 757.8h0M667.0 758.1h0M672.3 758.1h0M673.5 757.7h0M675.4 757.8h0M676.4 758.2h0M680.2 757.7h0M684.2 758.0h0M691.2 757.9h0M692.5 758.1h0M636.1 760.1h0M637.2 759.9h0M639.8 758.7h0M641.6 758.5h0M642.5 759.3h0M645.0 760.1h0M647.1 759.7h0M648.8 759.9h0M649.1 760.0h0M651.4 759.4h0M652.7 759.8h0M655.4 759.5h0M657.4 759.3h0M658.4 759.1h0M660.3 758.9h0M661.8 759.0h0M664.0 759.8h0M666.8 758.9h0M668.0 759.8h0M669.3 759.4h0M672.2 759.8h0M673.1 759.3h0M674.9 759.3h0M677.5 758.9h0M678.8 759.2h0M680.8 759.5h0M681.4 759.9h0M684.2 759.3h0M685.1 758.6h0M688.4 759.6h0M689.4 760.1h0M691.2 758.5h0M693.4 759.4h0M695.1 759.4h0M696.2 759.2h0M634.2 761.3h0M635.8 761.7h0M637.8 760.8h0M638.8 760.9h0M640.7 761.6h0M643.4 760.5h0M644.1 761.5h0M646.4 761.7h0M648.3 761.9h0M650.4 761.1h0M651.6 760.7h0M654.1 762.0h0M656.0 761.3h0M657.8 760.4h0M658.6 760.4h0M660.7 760.4h0M662.6 760.5h0M665.0 761.8h0M665.9 761.5h0M668.2 761.3h0M670.4 761.5h0M671.4 761.0h0M672.8 760.4h0M674.7 761.4h0M677.3 760.3h0M681.5 760.7h0M683.4 761.6h0M686.6 762.0h0M687.9 761.0h0M688.8 760.6h0M691.1 760.7h0M694.0 760.7h0M694.1 760.6h0M695.9 760.4h0M635.8 762.2h0M639.7 763.1h0M641.7 763.8h0M643.0 763.4h0M645.0 763.9h0M646.4 762.4h0M647.9 763.2h0M649.5 762.5h0M653.7 762.8h0M656.2 763.4h0M658.0 763.8h0M658.8 763.2h0M660.5 763.0h0M662.7 762.6h0M664.2 763.6h0M666.5 762.4h0M687.5 762.2h0M688.7 762.2h0M692.1 763.0h0M692.2 762.2h0M695.1 763.5h0M644.7 764.5h0M692.0 764.3h0M692.4 765.3h0M694.0 764.1h0M691.9 766.7h0M691.9 767.7h0M705.6 758.3h0M707.1 757.7h0M709.9 757.8h0M711.5 757.9h0M712.2 758.3h0M714.2 758.2h0M702.1 760.2h0M704.5 758.9h0M706.3 758.8h0M707.3 758.8h0M709.6 760.2h0M710.6 760.2h0M713.0 759.8h0M715.0 760.2h0M716.6 759.7h0M717.7 760.2h0M720.4 760.2h0M700.4 761.3h0M701.3 760.9h0M704.6 762.1h0M705.6 761.0h0M707.7 760.4h0M709.9 761.1h0M710.1 761.0h0M713.2 760.3h0M715.2 761.0h0M716.3 760.9h0M718.3 760.9h0M719.6 761.3h0M721.5 761.9h0M702.2 763.5h0M704.5 762.8h0M705.4 763.4h0M707.2 763.9h0M709.1 762.4h0M711.4 762.3h0M712.4 762.4h0M715.0 763.6h0M716.8 762.9h0M718.6 763.7h0M719.6 762.7h0M708.0 765.0h0M709.6 765.6h0M711.5 765.0h0M712.5 764.9h0M715.1 765.6h0M715.6 765.1h0M718.1 764.4h0M713.1 765.8h0M714.2 766.9h0M715.6 767.1h0M726.0 757.6h0M727.8 758.1h0M730.1 758.3h0M732.3 757.9h0M736.5 757.9h0M738.4 757.9h0M743.9 757.8h0M744.9 758.0h0M748.7 757.8h0M751.6 758.2h0M754.4 757.7h0M758.3 757.9h0M759.2 758.4h0M762.6 758.3h0M769.7 757.9h0M771.6 758.5h0M773.0 757.8h0M776.1 757.8h0M777.9 758.3h0M781.1 757.7h0M783.8 758.3h0M785.1 757.9h0M788.5 758.5h0M790.0 757.8h0M727.8 760.2h0M730.1 758.9h0M730.8 759.8h0M733.8 758.8h0M735.6 760.0h0M736.2 759.5h0M738.1 758.9h0M740.1 758.8h0M741.5 759.5h0M744.1 758.7h0M745.8 760.2h0M748.0 759.9h0M748.7 758.6h0M750.7 759.3h0M752.3 758.8h0M754.1 758.8h0M755.5 758.6h0M757.5 759.6h0M759.3 758.7h0M761.6 759.6h0M764.1 759.8h0M765.4 758.8h0M766.6 760.3h0M768.6 759.2h0M771.4 758.8h0M771.8 759.7h0M775.2 760.2h0M776.5 759.0h0M777.4 759.9h0M779.7 759.5h0M782.5 759.1h0M784.0 759.2h0M785.0 760.1h0M786.5 760.1h0M788.6 760.0h0M791.0 759.9h0M792.1 759.2h0M726.3 762.0h0M728.0 761.8h0M729.2 761.6h0M730.4 761.3h0M733.6 761.4h0M734.4 761.4h0M735.9 760.3h0M738.1 760.3h0M740.4 761.5h0M741.9 760.7h0M743.1 761.3h0M746.4 761.7h0M747.0 760.8h0M749.4 761.7h0M750.5 761.8h0M753.5 761.6h0M753.8 762.0h0M755.6 761.7h0M757.3 761.5h0M759.3 762.0h0M761.0 761.3h0M764.0 762.0h0M765.5 760.5h0M766.9 761.8h0M768.4 760.7h0M770.8 761.0h0M773.2 762.0h0M774.6 761.4h0M776.2 760.6h0M778.4 760.5h0M779.4 760.7h0M781.8 762.0h0M783.8 762.0h0M784.8 761.8h0M787.0 761.3h0M788.2 761.9h0M789.9 760.4h0M792.0 761.4h0M727.2 762.6h0M729.4 763.7h0M731.7 763.3h0M733.0 763.6h0M734.9 762.3h0M735.9 763.5h0M738.6 762.4h0M740.6 762.8h0M741.1 763.0h0M743.2 763.3h0M745.2 762.4h0M746.7 763.6h0M749.1 763.0h0M751.6 763.1h0M752.4 763.2h0M754.1 763.2h0M755.5 763.7h0M757.3 763.0h0M759.6 763.1h0M761.7 763.9h0M764.5 763.4h0M764.6 762.8h0M768.1 763.8h0M769.0 763.9h0M771.3 762.9h0M772.6 763.5h0M774.0 763.1h0M776.7 762.2h0M778.4 762.8h0M779.4 763.6h0M781.5 762.1h0M784.3 763.6h0M785.2 763.1h0M787.7 763.7h0M788.0 763.7h0M790.4 763.3h0M792.3 763.3h0M731.2 764.7h0M732.2 765.5h0M734.8 764.7h0M735.8 765.6h0M737.7 764.1h0M740.5 764.4h0M742.1 765.1h0M743.4 764.4h0M751.5 764.1h0M753.0 764.7h0M754.7 765.0h0M756.4 764.1h0M758.5 765.0h0M759.6 764.0h0M762.6 765.1h0M763.6 764.8h0M764.8 764.2h0M767.7 764.0h0M768.8 765.6h0M770.3 764.2h0M772.1 764.3h0M774.7 764.3h0M776.2 765.5h0M777.3 764.2h0M779.2 764.9h0M781.5 764.3h0M783.6 765.0h0M784.6 764.7h0M787.1 765.0h0M788.4 764.5h0M790.0 764.5h0M758.9 765.7h0M775.9 765.9h0M801.0 757.8h0M803.4 757.7h0M808.5 757.6h0M810.0 758.4h0M813.4 758.0h0M815.1 758.2h0M816.2 757.9h0M817.6 758.0h0M819.7 757.9h0M821.1 758.4h0M823.2 758.4h0M824.9 757.8h0M802.1 759.3h0M803.6 759.9h0M804.8 759.3h0M806.9 759.9h0M809.3 758.5h0M810.9 759.0h0M812.2 758.6h0M814.3 759.3h0M815.5 760.0h0M818.0 759.7h0M819.4 759.9h0M820.8 759.0h0M822.9 759.6h0M825.3 759.3h0M827.4 759.8h0M829.3 760.1h0M800.6 761.9h0M801.5 761.5h0M803.2 760.4h0M805.3 760.3h0M806.5 762.0h0M809.7 761.6h0M810.0 760.8h0M813.3 761.4h0M815.1 761.5h0M815.3 761.3h0M818.2 761.6h0M819.7 761.5h0M821.8 760.8h0M823.9 760.7h0M824.9 760.4h0M827.9 761.9h0M828.3 761.9h0M800.8 762.7h0M801.9 763.9h0M803.7 762.6h0M805.7 763.8h0M807.2 763.2h0M808.6 762.9h0M811.2 763.4h0M812.7 763.0h0M814.7 763.2h0M816.1 762.1h0M817.6 763.5h0M820.2 762.6h0M821.1 763.8h0M823.7 762.6h0M824.3 762.7h0M827.2 763.7h0M828.5 763.2h0M800.6 765.1h0M802.0 765.2h0M803.4 765.2h0M804.5 765.6h0M807.6 763.9h0M809.4 764.9h0M811.0 765.1h0M811.9 764.0h0M813.9 764.0h0M815.7 765.2h0M817.7 764.9h0M819.4 765.5h0M820.8 764.9h0M823.5 765.3h0M825.9 765.2h0M826.3 765.3h0M828.8 764.4h0M802.4 767.1h0M803.9 766.7h0M805.4 766.5h0M807.0 766.3h0M808.4 765.9h0M810.1 767.3h0M813.3 766.6h0M815.2 767.2h0M816.1 767.4h0M817.7 766.8h0M820.6 766.1h0M822.2 766.4h0M823.2 767.2h0M824.9 766.4h0M826.9 766.2h0M827.9 767.5h0M803.9 767.6h0M805.1 767.7h0M808.5 768.4h0M813.2 768.5h0M814.3 769.3h0M817.1 769.1h0M818.5 769.0h0M820.7 768.9h0M820.8 767.6h0M824.1 769.0h0M825.3 769.0h0M827.8 768.5h0M821.9 769.8h0M781.8 765.0h0M785.2 765.2h0M786.2 765.1h0M782.1 766.1h0M782.4 766.4h0M785.6 767.5h0M783.8 768.5h0M785.1 768.8h0M783.6 771.1h0M785.2 770.2h0M783.3 771.3h0M785.0 772.5h0M781.6 773.6h0M783.6 774.2h0M784.9 773.9h0M785.9 773.4h0M783.6 776.6h0M784.3 776.0h0M786.5 775.1h0M783.9 777.4h0M785.4 778.1h0M786.8 778.4h0M782.3 778.9h0M783.5 779.4h0M784.8 779.4h0M786.7 779.7h0M783.5 781.0h0M784.2 782.0h0M782.2 783.6h0M782.6 782.3h0M785.7 783.8h0M782.1 785.6h0M783.6 784.8h0M784.8 785.1h0M782.3 787.4h0M783.4 786.5h0M784.4 787.2h0M782.9 788.8h0M784.6 787.7h0M786.0 788.9h0M782.4 790.8h0M785.1 790.1h0M783.0 792.0h0M784.9 793.7h0M751.1 765.8h0M756.4 765.7h0M756.8 765.3h0M750.7 766.6h0M751.8 767.6h0M754.0 767.4h0M756.4 767.3h0M750.8 768.1h0M751.1 769.3h0M753.0 769.4h0M754.8 767.7h0M756.8 769.2h0M750.7 769.6h0M752.4 769.9h0M754.4 769.8h0M755.3 769.6h0M751.9 772.6h0M754.2 772.6h0M755.3 772.1h0M752.4 773.9h0M754.6 774.0h0M751.9 775.2h0M753.0 776.6h0M804.0 766.0h0M804.3 768.0h0M804.0 770.0h0M803.6 772.0h0M804.1 774.0h0M808.9 766.0h0M808.6 768.0h0M808.6 770.0h0M808.8 772.0h0M808.6 774.0h0M809.1 776.0h0M816.8 766.2h0M815.1 769.1h0M817.1 767.5h0M818.6 769.2h0M815.3 771.5h0M815.9 770.7h0M817.7 772.5h0M818.6 773.2h0M816.9 775.3h0M819.2 774.7h0M815.3 777.2h0M817.2 776.7h0M818.7 776.5h0M818.1 778.1h0M818.9 778.5h0M823.6 766.0h0M823.7 767.9h0M823.9 769.7h0M823.9 771.5h0M823.5 773.4h0M823.4 775.2h0M823.3 777.1h0M823.7 779.0h0M823.9 780.8h0M823.4 782.6h0M823.3 784.5h0" stroke="#84ae4c" stroke-width="4.4" stroke-linecap="round" fill="none"/><rect x="131.10" y="49.70" width="356.00" height="428.80" fill="none" stroke="#5e5e5e" stroke-width="1.2" stroke-linejoin="round"/><rect x="626.50" y="49.70" width="372.30" height="428.70" fill="none" stroke="#5e5e5e" stroke-width="1.2" stroke-linejoin="round"/><rect x="131.00" y="532.00" width="356.00" height="438.70" fill="none" stroke="#5e5e5e" stroke-width="1.2" stroke-linejoin="round"/><rect x="626.50" y="532.00" width="372.40" height="438.80" fill="none" stroke="#5e5e5e" stroke-width="1.2" stroke-linejoin="round"/><path d="M131.10 478.07L131.22 478.07L131.34 478.06L131.46 478.06L131.57 478.05L131.69 478.05L131.81 478.04L131.93 478.04L132.05 478.03L132.17 478.02L132.29 478.02L132.41 478.01L132.52 478.01L132.64 478.00L132.76 478.00L132.88 477.99L133.00 477.99L133.12 477.98L133.24 477.97L133.36 477.97L133.47 477.96L133.59 477.96L133.71 477.95L133.83 477.95L133.95 477.94L134.07 477.93L134.19 477.93L134.31 477.92L134.42 477.92L134.54 477.91L134.66 477.90L134.78 477.90L134.90 477.89L135.02 477.89L135.14 477.88L135.25 477.87L135.37 477.87L135.49 477.86L135.61 477.86L135.73 477.85L135.85 477.84L135.97 477.84L136.09 477.83L136.20 477.83L136.32 477.82L136.44 477.81L136.56 477.81L136.68 477.80L136.80 477.80L136.92 477.79L137.04 477.78L137.15 477.78L137.27 477.77L137.39 477.76L137.51 477.76L137.63 477.75L137.75 477.75L137.87 477.74L137.98 477.73L138.10 477.73L138.22 477.72L138.34 477.71L138.46 477.71L138.58 477.70L138.70 477.69L138.82 477.69L138.93 477.68L139.05 477.67L139.17 477.67L139.29 477.66L139.41 477.65L139.53 477.65L139.65 477.64L139.77 477.63L139.88 477.63L140.00 477.62L140.12 477.61L140.24 477.61L140.36 477.60L140.48 477.59L140.60 477.59L140.72 477.58L140.83 477.57L140.95 477.57L141.07 477.56L141.19 477.55L141.31 477.54L141.43 477.54L141.55 477.53L141.66 477.52L141.78 477.52L141.90 477.51L142.02 477.50L142.14 477.50L142.26 477.49L142.38 477.48L142.50 477.47L142.61 477.47L142.73 477.46L142.85 477.45L142.97 477.44L143.09 477.44L143.21 477.43L143.33 477.42L143.45 477.42L143.56 477.41L143.68 477.40L143.80 477.39L143.92 477.39L144.04 477.38L144.16 477.37L144.28 477.36L144.40 477.36L144.51 477.35L144.63 477.34L144.75 477.33L144.87 477.33L144.99 477.32L145.11 477.31L145.23 477.30L145.34 477.29L145.46 477.29L145.58 477.28L145.70 477.27L145.82 477.26L145.94 477.25L146.06 477.25L146.18 477.24L146.29 477.23L146.41 477.22L146.53 477.22L146.65 477.21L146.77 477.20L146.89 477.19L147.01 477.18L147.13 477.17L147.24 477.17L147.36 477.16L147.48 477.15L147.60 477.14L147.72 477.13L147.84 477.13L147.96 477.12L148.07 477.11L148.19 477.10L148.31 477.09L148.43 477.08L148.55 477.07L148.67 477.07L148.79 477.06L148.91 477.05L149.02 477.04L149.14 477.03L149.26 477.02L149.38 477.01L149.50 477.01L149.62 477.00L149.74 476.99L149.86 476.98L149.97 476.97L150.09 476.96L150.21 476.95L150.33 476.94L150.45 476.94L150.57 476.93L150.69 476.92L150.81 476.91L150.92 476.90L151.04 476.89L151.16 476.88L151.28 476.87L151.40 476.86L151.52 476.85L151.64 476.84L151.75 476.84L151.87 476.83L151.99 476.82L152.11 476.81L152.23 476.80L152.35 476.79L152.47 476.78L152.59 476.77L152.70 476.76L152.82 476.75L152.94 476.74L153.06 476.73L153.18 476.72L153.30 476.71L153.42 476.70L153.54 476.69L153.65 476.68L153.77 476.67L153.89 476.66L154.01 476.65L154.13 476.64L154.25 476.63L154.37 476.62L154.49 476.61L154.60 476.60L154.72 476.59L154.84 476.58L154.96 476.57L155.08 476.56L155.20 476.55L155.32 476.54L155.43 476.53L155.55 476.52L155.67 476.51L155.79 476.50L155.91 476.49L156.03 476.48L156.15 476.47L156.27 476.46L156.38 476.45L156.50 476.44L156.62 476.43L156.74 476.42L156.86 476.41L156.98 476.40L157.10 476.39L157.22 476.38L157.33 476.36L157.45 476.35L157.57 476.34L157.69 476.33L157.81 476.32L157.93 476.31L158.05 476.30L158.17 476.29L158.28 476.28L158.40 476.27L158.52 476.25L158.64 476.24L158.76 476.23L158.88 476.22L159.00 476.21L159.11 476.20L159.23 476.19L159.35 476.18L159.47 476.16L159.59 476.15L159.71 476.14L159.83 476.13L159.95 476.12L160.06 476.11L160.18 476.09L160.30 476.08L160.42 476.07L160.54 476.06L160.66 476.05L160.78 476.04L160.90 476.02L161.01 476.01L161.13 476.00L161.25 475.99L161.37 475.98L161.49 475.96L161.61 475.95L161.73 475.94L161.84 475.93L161.96 475.91L162.08 475.90L162.20 475.89L162.32 475.88L162.44 475.86L162.56 475.85L162.68 475.84L162.79 475.83L162.91 475.81L163.03 475.80L163.15 475.79L163.27 475.78L163.39 475.76L163.51 475.75L163.63 475.74L163.74 475.72L163.86 475.71L163.98 475.70L164.10 475.68L164.22 475.67L164.34 475.66L164.46 475.65L164.58 475.63L164.69 475.62L164.81 475.61L164.93 475.59L165.05 475.58L165.17 475.56L165.29 475.55L165.41 475.54L165.52 475.52L165.64 475.51L165.76 475.50L165.88 475.48L166.00 475.47L166.12 475.45L166.24 475.44L166.36 475.43L166.47 475.41L166.59 475.40L166.71 475.38L166.83 475.37L166.95 475.36L167.07 475.34L167.19 475.33L167.31 475.31L167.42 475.30L167.54 475.28L167.66 475.27L167.78 475.25L167.90 475.24L168.02 475.23L168.14 475.21L168.26 475.20L168.37 475.18L168.49 475.17L168.61 475.15L168.73 475.14L168.85 475.12L168.97 475.11L169.09 475.09L169.20 475.08L169.32 475.06L169.44 475.04L169.56 475.03L169.68 475.01L169.80 475.00L169.92 474.98L170.04 474.97L170.15 474.95L170.27 474.94L170.39 474.92L170.51 474.90L170.63 474.89L170.75 474.87L170.87 474.86L170.99 474.84L171.10 474.82L171.22 474.81L171.34 474.79L171.46 474.77L171.58 474.76L171.70 474.74L171.82 474.73L171.93 474.71L172.05 474.69L172.17 474.68L172.29 474.66L172.41 474.64L172.53 474.63L172.65 474.61L172.77 474.59L172.88 474.57L173.00 474.56L173.12 474.54L173.24 474.52L173.36 474.51L173.48 474.49L173.60 474.47L173.72 474.45L173.83 474.44L173.95 474.42L174.07 474.40L174.19 474.38L174.31 474.37L174.43 474.35L174.55 474.33L174.67 474.31L174.78 474.29L174.90 474.28L175.02 474.26L175.14 474.24L175.26 474.22L175.38 474.20L175.50 474.18L175.61 474.17L175.73 474.15L175.85 474.13L175.97 474.11L176.09 474.09L176.21 474.07L176.33 474.05L176.45 474.03L176.56 474.01L176.68 474.00L176.80 473.98L176.92 473.96L177.04 473.94L177.16 473.92L177.28 473.90L177.40 473.88L177.51 473.86L177.63 473.84L177.75 473.82L177.87 473.80L177.99 473.78L178.11 473.76L178.23 473.74L178.35 473.72L178.46 473.70L178.58 473.68L178.70 473.66L178.82 473.64L178.94 473.62L179.06 473.60L179.18 473.58L179.29 473.56L179.41 473.53L179.53 473.51L179.65 473.49L179.77 473.47L179.89 473.45L180.01 473.43L180.13 473.41L180.24 473.39L180.36 473.36L180.48 473.34L180.60 473.32L180.72 473.30L180.84 473.28L180.96 473.26L181.08 473.23L181.19 473.21L181.31 473.19L181.43 473.17L181.55 473.15L181.67 473.12L181.79 473.10L181.91 473.08L182.02 473.06L182.14 473.03L182.26 473.01L182.38 472.99L182.50 472.96L182.62 472.94L182.74 472.92L182.86 472.89L182.97 472.87L183.09 472.85L183.21 472.82L183.33 472.80L183.45 472.78L183.57 472.75L183.69 472.73L183.81 472.71L183.92 472.68L184.04 472.66L184.16 472.63L184.28 472.61L184.40 472.58L184.52 472.56L184.64 472.53L184.76 472.51L184.87 472.49L184.99 472.46L185.11 472.44L185.23 472.41L185.35 472.38L185.47 472.36L185.59 472.33L185.70 472.31L185.82 472.28L185.94 472.26L186.06 472.23L186.18 472.21L186.30 472.18L186.42 472.15L186.54 472.13L186.65 472.10L186.77 472.07L186.89 472.05L187.01 472.02L187.13 472.00L187.25 471.97L187.37 471.94L187.49 471.91L187.60 471.89L187.72 471.86L187.84 471.83L187.96 471.81L188.08 471.78L188.20 471.75L188.32 471.72L188.44 471.69L188.55 471.67L188.67 471.64L188.79 471.61L188.91 471.58L189.03 471.55L189.15 471.52L189.27 471.50L189.38 471.47L189.50 471.44L189.62 471.41L189.74 471.38L189.86 471.35L189.98 471.32L190.10 471.29L190.22 471.26L190.33 471.23L190.45 471.20L190.57 471.17L190.69 471.14L190.81 471.11L190.93 471.08L191.05 471.05L191.17 471.02L191.28 470.99L191.40 470.96L191.52 470.93L191.64 470.90L191.76 470.87L191.88 470.84L192.00 470.81L192.12 470.77L192.23 470.74L192.35 470.71L192.47 470.68L192.59 470.65L192.71 470.61L192.83 470.58L192.95 470.55L193.06 470.52L193.18 470.48L193.30 470.45L193.42 470.42L193.54 470.39L193.66 470.35L193.78 470.32L193.90 470.29L194.01 470.25L194.13 470.22L194.25 470.19L194.37 470.15L194.49 470.12L194.61 470.08L194.73 470.05L194.85 470.01L194.96 469.98L195.08 469.94L195.20 469.91L195.32 469.87L195.44 469.84L195.56 469.80L195.68 469.77L195.79 469.73L195.91 469.70L196.03 469.66L196.15 469.63L196.27 469.59L196.39 469.55L196.51 469.52L196.63 469.48L196.74 469.44L196.86 469.41L196.98 469.37L197.10 469.33L197.22 469.29L197.34 469.26L197.46 469.22L197.58 469.18L197.69 469.14L197.81 469.10L197.93 469.07L198.05 469.03L198.17 468.99L198.29 468.95L198.41 468.91L198.53 468.87L198.64 468.83L198.76 468.79L198.88 468.75L199.00 468.71L199.12 468.67L199.24 468.63L199.36 468.59L199.47 468.55L199.59 468.51L199.71 468.47L199.83 468.43L199.95 468.39L200.07 468.35L200.19 468.31L200.31 468.27L200.42 468.22L200.54 468.18L200.66 468.14L200.78 468.10L200.90 468.05L201.02 468.01L201.14 467.97L201.26 467.93L201.37 467.88L201.49 467.84L201.61 467.80L201.73 467.75L201.85 467.71L201.97 467.66L202.09 467.62L202.21 467.58L202.32 467.53L202.44 467.49L202.56 467.44L202.68 467.40L202.80 467.35L202.92 467.30L203.04 467.26L203.15 467.21L203.27 467.17L203.39 467.12L203.51 467.07L203.63 467.03L203.75 466.98L203.87 466.93L203.99 466.89L204.10 466.84L204.22 466.79L204.34 466.74L204.46 466.69L204.58 466.65L204.70 466.60L204.82 466.55L204.94 466.50L205.05 466.45L205.17 466.40L205.29 466.35L205.41 466.30L205.53 466.25L205.65 466.20L205.77 466.15L205.88 466.10L206.00 466.05L206.12 466.00L206.24 465.95L206.36 465.89L206.48 465.84L206.60 465.79L206.72 465.74L206.83 465.69L206.95 465.63L207.07 465.58L207.19 465.53L207.31 465.47L207.43 465.42L207.55 465.37L207.67 465.31L207.78 465.26L207.90 465.20L208.02 465.15L208.14 465.10L208.26 465.04L208.38 464.98L208.50 464.93L208.62 464.87L208.73 464.82L208.85 464.76L208.97 464.70L209.09 464.65L209.21 464.59L209.33 464.53L209.45 464.48L209.56 464.42L209.68 464.36L209.80 464.30L209.92 464.24L210.04 464.18L210.16 464.12L210.28 464.06L210.40 464.01L210.51 463.95L210.63 463.89L210.75 463.82L210.87 463.76L210.99 463.70L211.11 463.64L211.23 463.58L211.35 463.52L211.46 463.46L211.58 463.39L211.70 463.33L211.82 463.27L211.94 463.21L212.06 463.14L212.18 463.08L212.30 463.02L212.41 462.95L212.53 462.89L212.65 462.82L212.77 462.76L212.89 462.69L213.01 462.63L213.13 462.56L213.24 462.49L213.36 462.43L213.48 462.36L213.60 462.29L213.72 462.23L213.84 462.16L213.96 462.09L214.08 462.02L214.19 461.95L214.31 461.89L214.43 461.82L214.55 461.75L214.67 461.68L214.79 461.61L214.91 461.54L215.03 461.47L215.14 461.40L215.26 461.32L215.38 461.25L215.50 461.18L215.62 461.11L215.74 461.04L215.86 460.96L215.97 460.89L216.09 460.82L216.21 460.74L216.33 460.67L216.45 460.59L216.57 460.52L216.69 460.44L216.81 460.37L216.92 460.29L217.04 460.22L217.16 460.14L217.28 460.06L217.40 459.98L217.52 459.91L217.64 459.83L217.76 459.75L217.87 459.67L217.99 459.59L218.11 459.51L218.23 459.43L218.35 459.35L218.47 459.27L218.59 459.19L218.71 459.11L218.82 459.03L218.94 458.95L219.06 458.87L219.18 458.78L219.30 458.70L219.42 458.62L219.54 458.53L219.65 458.45L219.77 458.37L219.89 458.28L220.01 458.20L220.13 458.11L220.25 458.02L220.37 457.94L220.49 457.85L220.60 457.76L220.72 457.68L220.84 457.59L220.96 457.50L221.08 457.41L221.20 457.32L221.32 457.23L221.44 457.14L221.55 457.05L221.67 456.96L221.79 456.87L221.91 456.78L222.03 456.69L222.15 456.59L222.27 456.50L222.39 456.41L222.50 456.31L222.62 456.22L222.74 456.13L222.86 456.03L222.98 455.94L223.10 455.84L223.22 455.74L223.33 455.65L223.45 455.55L223.57 455.45L223.69 455.35L223.81 455.26L223.93 455.16L224.05 455.06L224.17 454.96L224.28 454.86L224.40 454.76L224.52 454.66L224.64 454.55L224.76 454.45L224.88 454.35L225.00 454.25L225.12 454.14L225.23 454.04L225.35 453.93L225.47 453.83L225.59 453.72L225.71 453.62L225.83 453.51L225.95 453.40L226.06 453.30L226.18 453.19L226.30 453.08L226.42 452.97L226.54 452.86L226.66 452.75L226.78 452.64L226.90 452.53L227.01 452.42L227.13 452.31L227.25 452.19L227.37 452.08L227.49 451.97L227.61 451.85L227.73 451.74L227.85 451.62L227.96 451.51L228.08 451.39L228.20 451.28L228.32 451.16L228.44 451.04L228.56 450.92L228.68 450.80L228.80 450.68L228.91 450.56L229.03 450.44L229.15 450.32L229.27 450.20L229.39 450.08L229.51 449.95L229.63 449.83L229.74 449.71L229.86 449.58L229.98 449.46L230.10 449.33L230.22 449.21L230.34 449.08L230.46 448.95L230.58 448.82L230.69 448.69L230.81 448.56L230.93 448.44L231.05 448.30L231.17 448.17L231.29 448.04L231.41 447.91L231.53 447.78L231.64 447.64L231.76 447.51L231.88 447.37L232.00 447.24L232.12 447.10L232.24 446.97L232.36 446.83L232.48 446.69L232.59 446.55L232.71 446.41L232.83 446.27L232.95 446.13L233.07 445.99L233.19 445.85L233.31 445.71L233.42 445.56L233.54 445.42L233.66 445.27L233.78 445.13L233.90 444.98L234.02 444.84L234.14 444.69L234.26 444.54L234.37 444.39L234.49 444.24L234.61 444.09L234.73 443.94L234.85 443.79L234.97 443.64L235.09 443.48L235.21 443.33L235.32 443.18L235.44 443.02L235.56 442.86L235.68 442.71L235.80 442.55L235.92 442.39L236.04 442.23L236.16 442.07L236.27 441.91L236.39 441.75L236.51 441.59L236.63 441.43L236.75 441.26L236.87 441.10L236.99 440.93L237.10 440.77L237.22 440.60L237.34 440.43L237.46 440.27L237.58 440.10L237.70 439.93L237.82 439.76L237.94 439.59L238.05 439.41L238.17 439.24L238.29 439.07L238.41 438.89L238.53 438.72L238.65 438.54L238.77 438.36L238.89 438.19L239.00 438.01L239.12 437.83L239.24 437.65L239.36 437.46L239.48 437.28L239.60 437.10L239.72 436.92L239.83 436.73L239.95 436.54L240.07 436.36L240.19 436.17L240.31 435.98L240.43 435.79L240.55 435.60L240.67 435.41L240.78 435.22L240.90 435.03L241.02 434.83L241.14 434.64L241.26 434.44L241.38 434.25L241.50 434.05L241.62 433.85L241.73 433.65L241.85 433.45L241.97 433.25L242.09 433.05L242.21 432.84L242.33 432.64L242.45 432.43L242.57 432.23L242.68 432.02L242.80 431.81L242.92 431.60L243.04 431.39L243.16 431.18L243.28 430.97L243.40 430.76L243.51 430.54L243.63 430.33L243.75 430.11L243.87 429.89L243.99 429.68L244.11 429.46L244.23 429.24L244.35 429.02L244.46 428.79L244.58 428.57L244.70 428.34L244.82 428.12L244.94 427.89L245.06 427.66L245.18 427.44L245.30 427.21L245.41 426.98L245.53 426.74L245.65 426.51L245.77 426.28L245.89 426.04L246.01 425.80L246.13 425.57L246.25 425.33L246.36 425.09L246.48 424.85L246.60 424.60L246.72 424.36L246.84 424.12L246.96 423.87L247.08 423.62L247.19 423.38L247.31 423.13L247.43 422.88L247.55 422.62L247.67 422.37L247.79 422.12L247.91 421.86L248.03 421.61L248.14 421.35L248.26 421.09L248.38 420.83L248.50 420.57L248.62 420.31L248.74 420.04L248.86 419.78L248.98 419.51L249.09 419.24L249.21 418.98L249.33 418.71L249.45 418.43L249.57 418.16L249.69 417.89L249.81 417.61L249.92 417.34L250.04 417.06L250.16 416.78L250.28 416.50L250.40 416.22L250.52 415.93L250.64 415.65L250.76 415.36L250.87 415.08L250.99 414.79L251.11 414.50L251.23 414.21L251.35 413.92L251.47 413.62L251.59 413.33L251.71 413.03L251.82 412.73L251.94 412.43L252.06 412.13L252.18 411.83L252.30 411.53L252.42 411.22L252.54 410.92L252.66 410.61L252.77 410.30L252.89 409.99L253.01 409.68L253.13 409.36L253.25 409.05L253.37 408.73L253.49 408.41L253.60 408.09L253.72 407.77L253.84 407.45L253.96 407.13L254.08 406.80L254.20 406.47L254.32 406.15L254.44 405.82L254.55 405.48L254.67 405.15L254.79 404.82L254.91 404.48L255.03 404.14L255.15 403.80L255.27 403.46L255.39 403.12L255.50 402.78L255.62 402.43L255.74 402.08L255.86 401.73L255.98 401.38L256.10 401.03L256.22 400.68L256.34 400.32L256.45 399.97L256.57 399.61L256.69 399.25L256.81 398.89L256.93 398.52L257.05 398.16L257.17 397.79L257.28 397.42L257.40 397.05L257.52 396.68L257.64 396.31L257.76 395.93L257.88 395.56L258.00 395.18L258.12 394.80L258.23 394.42L258.35 394.03L258.47 393.65L258.59 393.26L258.71 392.87L258.83 392.48L258.95 392.09L259.07 391.70L259.18 391.30L259.30 390.90L259.42 390.50L259.54 390.10L259.66 389.70L259.78 389.29L259.90 388.89L260.01 388.48L260.13 388.07L260.25 387.66L260.37 387.24L260.49 386.83L260.61 386.41L260.73 385.99L260.85 385.57L260.96 385.15L261.08 384.72L261.20 384.30L261.32 383.87L261.44 383.44L261.56 383.01L261.68 382.57L261.80 382.14L261.91 381.70L262.03 381.26L262.15 380.82L262.27 380.37L262.39 379.93L262.51 379.48L262.63 379.03L262.75 378.58L262.86 378.13L262.98 377.67L263.10 377.22L263.22 376.76L263.34 376.30L263.46 375.83L263.58 375.37L263.69 374.90L263.81 374.43L263.93 373.96L264.05 373.49L264.17 373.01L264.29 372.54L264.41 372.06L264.53 371.58L264.64 371.10L264.76 370.61L264.88 370.12L265.00 369.63L265.12 369.14L265.24 368.65L265.36 368.16L265.48 367.66L265.59 367.16L265.71 366.66L265.83 366.16L265.95 365.65L266.07 365.14L266.19 364.64L266.31 364.12L266.43 363.61L266.54 363.10L266.66 362.58L266.78 362.06L266.90 361.54L267.02 361.01L267.14 360.49L267.26 359.96L267.37 359.43L267.49 358.90L267.61 358.36L267.73 357.83L267.85 357.29L267.97 356.75L268.09 356.21L268.21 355.66L268.32 355.11L268.44 354.57L268.56 354.01L268.68 353.46L268.80 352.91L268.92 352.35L269.04 351.79L269.16 351.23L269.27 350.66L269.39 350.10L269.51 349.53L269.63 348.96L269.75 348.39L269.87 347.81L269.99 347.24L270.11 346.66L270.22 346.08L270.34 345.50L270.46 344.91L270.58 344.32L270.70 343.73L270.82 343.14L270.94 342.55L271.05 341.95L271.17 341.36L271.29 340.76L271.41 340.15L271.53 339.55L271.65 338.94L271.77 338.34L271.89 337.72L272.00 337.11L272.12 336.50L272.24 335.88L272.36 335.26L272.48 334.64L272.60 334.02L272.72 333.39L272.84 332.76L272.95 332.14L273.07 331.50L273.19 330.87L273.31 330.23L273.43 329.60L273.55 328.96L273.67 328.31L273.78 327.67L273.90 327.02L274.02 326.38L274.14 325.72L274.26 325.07L274.38 324.42L274.50 323.76L274.62 323.10L274.73 322.44L274.85 321.78L274.97 321.11L275.09 320.45L275.21 319.78L275.33 319.11L275.45 318.44L275.57 317.76L275.68 317.08L275.80 316.41L275.92 315.73L276.04 315.04L276.16 314.36L276.28 313.67L276.40 312.98L276.52 312.29L276.63 311.60L276.75 310.91L276.87 310.21L276.99 309.51L277.11 308.81L277.23 308.11L277.35 307.41L277.46 306.70L277.58 305.99L277.70 305.28L277.82 304.57L277.94 303.86L278.06 303.15L278.18 302.43L278.30 301.71L278.41 300.99L278.53 300.27L278.65 299.55L278.77 298.82L278.89 298.09L279.01 297.37L279.13 296.64L279.25 295.90L279.36 295.17L279.48 294.43L279.60 293.70L279.72 292.96L279.84 292.22L279.96 291.48L280.08 290.73L280.20 289.99L280.31 289.24L280.43 288.50L280.55 287.75L280.67 287.00L280.79 286.24L280.91 285.49L281.03 284.74L281.14 283.98L281.26 283.22L281.38 282.46L281.50 281.70L281.62 280.94L281.74 280.18L281.86 279.41L281.98 278.65L282.09 277.88L282.21 277.11L282.33 276.34L282.45 275.57L282.57 274.80L282.69 274.03L282.81 273.26L282.93 272.48L283.04 271.71L283.16 270.93L283.28 270.15L283.40 269.37L283.52 268.59L283.64 267.81L283.76 267.03L283.87 266.25L283.99 265.47L284.11 264.68L284.23 263.90L284.35 263.11L284.47 262.33L284.59 261.54L284.71 260.75L284.82 259.97L284.94 259.18L285.06 258.39L285.18 257.60L285.30 256.81L285.42 256.02L285.54 255.23L285.66 254.44L285.77 253.64L285.89 252.85L286.01 252.06L286.13 251.27L286.25 250.47L286.37 249.68L286.49 248.89L286.61 248.09L286.72 247.30L286.84 246.50L286.96 245.71L287.08 244.92L287.20 244.12L287.32 243.33L287.44 242.54L287.55 241.74L287.67 240.95L287.79 240.16L287.91 239.36L288.03 238.57L288.15 237.78L288.27 236.99L288.39 236.20L288.50 235.41L288.62 234.62L288.74 233.83L288.86 233.04L288.98 232.25L289.10 231.46L289.22 230.67L289.34 229.89L289.45 229.10L289.57 228.32L289.69 227.53L289.81 226.75L289.93 225.97L290.05 225.19L290.17 224.41L290.29 223.63L290.40 222.85L290.52 222.07L290.64 221.30L290.76 220.53L290.88 219.75L291.00 218.98L291.12 218.21L291.23 217.44L291.35 216.68L291.47 215.91L291.59 215.15L291.71 214.39L291.83 213.63L291.95 212.87L292.07 212.11L292.18 211.36L292.30 210.61L292.42 209.86L292.54 209.11L292.66 208.36L292.78 207.62L292.90 206.87L293.02 206.13L293.13 205.40L293.25 204.66L293.37 203.93L293.49 203.20L293.61 202.47L293.73 201.74L293.85 201.02L293.96 200.30L294.08 199.58L294.20 198.87L294.32 198.16L294.44 197.45L294.56 196.74L294.68 196.04L294.80 195.34L294.91 194.64L295.03 193.95L295.15 193.26L295.27 192.57L295.39 191.88L295.51 191.20L295.63 190.52L295.75 189.85L295.86 189.18L295.98 188.51L296.10 187.85L296.22 187.19L296.34 186.53L296.46 185.88L296.58 185.23L296.70 184.59L296.81 183.95L296.93 183.31L297.05 182.68L297.17 182.05L297.29 181.42L297.41 180.80L297.53 180.19L297.64 179.57L297.76 178.97L297.88 178.36L298.00 177.76L298.12 177.17L298.24 176.58L298.36 175.99L298.48 175.41L298.59 174.84L298.71 174.27L298.83 173.70L298.95 173.14L299.07 172.58L299.19 172.03L299.31 171.49L299.43 170.94L299.54 170.41L299.66 169.88L299.78 169.35L299.90 168.83L300.02 168.32L300.14 167.81L300.26 167.30L300.38 166.80L300.49 166.31L300.61 165.82L300.73 165.34L300.85 164.86L300.97 164.39L301.09 163.93L301.21 163.47L301.32 163.01L301.44 162.57L301.56 162.12L301.68 161.69L301.80 161.26L301.92 160.83L302.04 160.42L302.16 160.00L302.27 159.60L302.39 159.20L302.51 158.81L302.63 158.42L302.75 158.04L302.87 157.67L302.99 157.30L303.11 156.94L303.22 156.58L303.34 156.23L303.46 155.89L303.58 155.56L303.70 155.23L303.82 154.91L303.94 154.59L304.05 154.28L304.17 153.98L304.29 153.69L304.41 153.40L304.53 153.12L304.65 152.84L304.77 152.58L304.89 152.32L305.00 152.06L305.12 151.82L305.24 151.58L305.36 151.34L305.48 151.12L305.60 150.90L305.72 150.69L305.84 150.49L305.95 150.29L306.07 150.10L306.19 149.92L306.31 149.74L306.43 149.57L306.55 149.41L306.67 149.26L306.79 149.11L306.90 148.97L307.02 148.84L307.14 148.72L307.26 148.60L307.38 148.49L307.50 148.39L307.62 148.29L307.73 148.21L307.85 148.13L307.97 148.05L308.09 147.99L308.21 147.93L308.33 147.88L308.45 147.84L308.57 147.80L308.68 147.77L308.80 147.75L308.92 147.74L309.04 147.73L309.16 147.74L309.28 147.75L309.40 147.76L309.52 147.79L309.63 147.82L309.75 147.86L309.87 147.90L309.99 147.96L310.11 148.02L310.23 148.09L310.35 148.16L310.47 148.25L310.58 148.34L310.70 148.44L310.82 148.54L310.94 148.65L311.06 148.77L311.18 148.90L311.30 149.04L311.41 149.18L311.53 149.33L311.65 149.49L311.77 149.65L311.89 149.82L312.01 150.00L312.13 150.19L312.25 150.38L312.36 150.58L312.48 150.79L312.60 151.00L312.72 151.22L312.84 151.45L312.96 151.69L313.08 151.93L313.20 152.18L313.31 152.44L313.43 152.70L313.55 152.97L313.67 153.25L313.79 153.53L313.91 153.82L314.03 154.12L314.15 154.43L314.26 154.74L314.38 155.05L314.50 155.38L314.62 155.71L314.74 156.05L314.86 156.39L314.98 156.74L315.09 157.10L315.21 157.47L315.33 157.84L315.45 158.21L315.57 158.60L315.69 158.99L315.81 159.38L315.93 159.78L316.04 160.19L316.16 160.61L316.28 161.03L316.40 161.45L316.52 161.89L316.64 162.33L316.76 162.77L316.88 163.22L316.99 163.68L317.11 164.14L317.23 164.61L317.35 165.08L317.47 165.56L317.59 166.05L317.71 166.54L317.82 167.03L317.94 167.53L318.06 168.04L318.18 168.55L318.30 169.07L318.42 169.59L318.54 170.12L318.66 170.65L318.77 171.19L318.89 171.74L319.01 172.29L319.13 172.84L319.25 173.40L319.37 173.96L319.49 174.53L319.61 175.10L319.72 175.68L319.84 176.26L319.96 176.85L320.08 177.44L320.20 178.04L320.32 178.64L320.44 179.25L320.56 179.85L320.67 180.47L320.79 181.09L320.91 181.71L321.03 182.34L321.15 182.97L321.27 183.60L321.39 184.24L321.50 184.88L321.62 185.53L321.74 186.18L321.86 186.83L321.98 187.49L322.10 188.15L322.22 188.82L322.34 189.49L322.45 190.16L322.57 190.84L322.69 191.52L322.81 192.20L322.93 192.88L323.05 193.57L323.17 194.27L323.29 194.96L323.40 195.66L323.52 196.36L323.64 197.07L323.76 197.77L323.88 198.48L324.00 199.20L324.12 199.91L324.24 200.63L324.35 201.35L324.47 202.08L324.59 202.80L324.71 203.53L324.83 204.27L324.95 205.00L325.07 205.74L325.18 206.47L325.30 207.22L325.42 207.96L325.54 208.70L325.66 209.45L325.78 210.20L325.90 210.95L326.02 211.71L326.13 212.46L326.25 213.22L326.37 213.98L326.49 214.74L326.61 215.50L326.73 216.27L326.85 217.03L326.97 217.80L327.08 218.57L327.20 219.34L327.32 220.11L327.44 220.88L327.56 221.66L327.68 222.43L327.80 223.21L327.91 223.99L328.03 224.77L328.15 225.55L328.27 226.33L328.39 227.11L328.51 227.89L328.63 228.68L328.75 229.46L328.86 230.25L328.98 231.04L329.10 231.82L329.22 232.61L329.34 233.40L329.46 234.19L329.58 234.98L329.70 235.77L329.81 236.56L329.93 237.35L330.05 238.14L330.17 238.94L330.29 239.73L330.41 240.52L330.53 241.31L330.65 242.11L330.76 242.90L330.88 243.70L331.00 244.49L331.12 245.28L331.24 246.08L331.36 246.87L331.48 247.66L331.59 248.46L331.71 249.25L331.83 250.04L331.95 250.84L332.07 251.63L332.19 252.42L332.31 253.22L332.43 254.01L332.54 254.80L332.66 255.59L332.78 256.38L332.90 257.17L333.02 257.96L333.14 258.75L333.26 259.54L333.38 260.33L333.49 261.12L333.61 261.90L333.73 262.69L333.85 263.48L333.97 264.26L334.09 265.05L334.21 265.83L334.33 266.61L334.44 267.39L334.56 268.17L334.68 268.95L334.80 269.73L334.92 270.51L335.04 271.29L335.16 272.06L335.27 272.84L335.39 273.61L335.51 274.39L335.63 275.16L335.75 275.93L335.87 276.70L335.99 277.47L336.11 278.24L336.22 279.00L336.34 279.77L336.46 280.53L336.58 281.29L336.70 282.05L336.82 282.81L336.94 283.57L337.06 284.33L337.17 285.08L337.29 285.84L337.41 286.59L337.53 287.34L337.65 288.09L337.77 288.84L337.89 289.59L338.00 290.33L338.12 291.08L338.24 291.82L338.36 292.56L338.48 293.30L338.60 294.04L338.72 294.77L338.84 295.51L338.95 296.24L339.07 296.97L339.19 297.70L339.31 298.43L339.43 299.16L339.55 299.88L339.67 300.60L339.79 301.32L339.90 302.04L340.02 302.76L340.14 303.48L340.26 304.19L340.38 304.90L340.50 305.61L340.62 306.32L340.74 307.03L340.85 307.73L340.97 308.43L341.09 309.13L341.21 309.83L341.33 310.53L341.45 311.23L341.57 311.92L341.68 312.61L341.80 313.30L341.92 313.99L342.04 314.67L342.16 315.36L342.28 316.04L342.40 316.72L342.52 317.40L342.63 318.07L342.75 318.75L342.87 319.42L342.99 320.09L343.11 320.76L343.23 321.42L343.35 322.09L343.47 322.75L343.58 323.41L343.70 324.06L343.82 324.72L343.94 325.37L344.06 326.02L344.18 326.67L344.30 327.32L344.42 327.97L344.53 328.61L344.65 329.25L344.77 329.89L344.89 330.53L345.01 331.16L345.13 331.79L345.25 332.43L345.36 333.05L345.48 333.68L345.60 334.30L345.72 334.93L345.84 335.55L345.96 336.17L346.08 336.78L346.20 337.39L346.31 338.01L346.43 338.62L346.55 339.22L346.67 339.83L346.79 340.43L346.91 341.03L347.03 341.63L347.15 342.23L347.26 342.82L347.38 343.42L347.50 344.01L347.62 344.59L347.74 345.18L347.86 345.76L347.98 346.35L348.09 346.93L348.21 347.50L348.33 348.08L348.45 348.65L348.57 349.22L348.69 349.79L348.81 350.36L348.93 350.92L349.04 351.49L349.16 352.05L349.28 352.61L349.40 353.16L349.52 353.72L349.64 354.27L349.76 354.82L349.88 355.37L349.99 355.91L350.11 356.46L350.23 357.00L350.35 357.54L350.47 358.07L350.59 358.61L350.71 359.14L350.83 359.67L350.94 360.20L351.06 360.73L351.18 361.25L351.30 361.78L351.42 362.30L351.54 362.82L351.66 363.33L351.77 363.85L351.89 364.36L352.01 364.87L352.13 365.38L352.25 365.88L352.37 366.39L352.49 366.89L352.61 367.39L352.72 367.89L352.84 368.38L352.96 368.88L353.08 369.37L353.20 369.86L353.32 370.35L353.44 370.83L353.56 371.32L353.67 371.80L353.79 372.28L353.91 372.76L354.03 373.23L354.15 373.71L354.27 374.18L354.39 374.65L354.51 375.12L354.62 375.58L354.74 376.05L354.86 376.51L354.98 376.97L355.10 377.43L355.22 377.88L355.34 378.34L355.45 378.79L355.57 379.24L355.69 379.69L355.81 380.13L355.93 380.58L356.05 381.02L356.17 381.46L356.29 381.90L356.40 382.34L356.52 382.77L356.64 383.21L356.76 383.64L356.88 384.07L357.00 384.49L357.12 384.92L357.24 385.34L357.35 385.77L357.47 386.19L357.59 386.60L357.71 387.02L357.83 387.44L357.95 387.85L358.07 388.26L358.19 388.67L358.30 389.08L358.42 389.48L358.54 389.89L358.66 390.29L358.78 390.69L358.90 391.09L359.02 391.48L359.13 391.88L359.25 392.27L359.37 392.66L359.49 393.05L359.61 393.44L359.73 393.83L359.85 394.21L359.97 394.59L360.08 394.97L360.20 395.35L360.32 395.73L360.44 396.11L360.56 396.48L360.68 396.85L360.80 397.22L360.92 397.59L361.03 397.96L361.15 398.33L361.27 398.69L361.39 399.05L361.51 399.41L361.63 399.77L361.75 400.13L361.86 400.49L361.98 400.84L362.10 401.19L362.22 401.55L362.34 401.90L362.46 402.24L362.58 402.59L362.70 402.93L362.81 403.28L362.93 403.62L363.05 403.96L363.17 404.30L363.29 404.64L363.41 404.97L363.53 405.30L363.65 405.64L363.76 405.97L363.88 406.30L364.00 406.62L364.12 406.95L364.24 407.28L364.36 407.60L364.48 407.92L364.60 408.24L364.71 408.56L364.83 408.88L364.95 409.19L365.07 409.51L365.19 409.82L365.31 410.13L365.43 410.44L365.54 410.75L365.66 411.06L365.78 411.36L365.90 411.67L366.02 411.97L366.14 412.27L366.26 412.57L366.38 412.87L366.49 413.17L366.61 413.46L366.73 413.76L366.85 414.05L366.97 414.34L367.09 414.63L367.21 414.92L367.33 415.21L367.44 415.50L367.56 415.78L367.68 416.07L367.80 416.35L367.92 416.63L368.04 416.91L368.16 417.19L368.28 417.46L368.39 417.74L368.51 418.01L368.63 418.29L368.75 418.56L368.87 418.83L368.99 419.10L369.11 419.37L369.22 419.63L369.34 419.90L369.46 420.16L369.58 420.43L369.70 420.69L369.82 420.95L369.94 421.21L370.06 421.47L370.17 421.72L370.29 421.98L370.41 422.24L370.53 422.49L370.65 422.74L370.77 422.99L370.89 423.24L371.01 423.49L371.12 423.74L371.24 423.98L371.36 424.23L371.48 424.47L371.60 424.72L371.72 424.96L371.84 425.20L371.95 425.44L372.07 425.68L372.19 425.91L372.31 426.15L372.43 426.38L372.55 426.62L372.67 426.85L372.79 427.08L372.90 427.31L373.02 427.54L373.14 427.77L373.26 428.00L373.38 428.22L373.50 428.45L373.62 428.67L373.74 428.90L373.85 429.12L373.97 429.34L374.09 429.56L374.21 429.78L374.33 429.99L374.45 430.21L374.57 430.43L374.69 430.64L374.80 430.86L374.92 431.07L375.04 431.28L375.16 431.49L375.28 431.70L375.40 431.91L375.52 432.12L375.63 432.32L375.75 432.53L375.87 432.73L375.99 432.94L376.11 433.14L376.23 433.34L376.35 433.54L376.47 433.74L376.58 433.94L376.70 434.14L376.82 434.34L376.94 434.53L377.06 434.73L377.18 434.92L377.30 435.12L377.42 435.31L377.53 435.50L377.65 435.69L377.77 435.88L377.89 436.07L378.01 436.26L378.13 436.44L378.25 436.63L378.37 436.82L378.48 437.00L378.60 437.18L378.72 437.37L378.84 437.55L378.96 437.73L379.08 437.91L379.20 438.09L379.31 438.27L379.43 438.45L379.55 438.62L379.67 438.80L379.79 438.97L379.91 439.15L380.03 439.32L380.15 439.49L380.26 439.67L380.38 439.84L380.50 440.01L380.62 440.18L380.74 440.34L380.86 440.51L380.98 440.68L381.10 440.85L381.21 441.01L381.33 441.18L381.45 441.34L381.57 441.50L381.69 441.66L381.81 441.83L381.93 441.99L382.04 442.15L382.16 442.31L382.28 442.47L382.40 442.62L382.52 442.78L382.64 442.94L382.76 443.09L382.88 443.25L382.99 443.40L383.11 443.55L383.23 443.71L383.35 443.86L383.47 444.01L383.59 444.16L383.71 444.31L383.83 444.46L383.94 444.61L384.06 444.76L384.18 444.90L384.30 445.05L384.42 445.20L384.54 445.34L384.66 445.48L384.78 445.63L384.89 445.77L385.01 445.91L385.13 446.06L385.25 446.20L385.37 446.34L385.49 446.48L385.61 446.62L385.72 446.75L385.84 446.89L385.96 447.03L386.08 447.16L386.20 447.30L386.32 447.44L386.44 447.57L386.56 447.70L386.67 447.84L386.79 447.97L386.91 448.10L387.03 448.23L387.15 448.36L387.27 448.49L387.39 448.62L387.51 448.75L387.62 448.88L387.74 449.01L387.86 449.14L387.98 449.26L388.10 449.39L388.22 449.52L388.34 449.64L388.46 449.76L388.57 449.89L388.69 450.01L388.81 450.13L388.93 450.26L389.05 450.38L389.17 450.50L389.29 450.62L389.40 450.74L389.52 450.86L389.64 450.98L389.76 451.09L389.88 451.21L390.00 451.33L390.12 451.45L390.24 451.56L390.35 451.68L390.47 451.79L390.59 451.91L390.71 452.02L390.83 452.13L390.95 452.25L391.07 452.36L391.19 452.47L391.30 452.58L391.42 452.69L391.54 452.80L391.66 452.91L391.78 453.02L391.90 453.13L392.02 453.24L392.14 453.35L392.25 453.45L392.37 453.56L392.49 453.67L392.61 453.77L392.73 453.88L392.85 453.98L392.97 454.09L393.08 454.19L393.20 454.29L393.32 454.40L393.44 454.50L393.56 454.60L393.68 454.70L393.80 454.80L393.92 454.90L394.03 455.00L394.15 455.10L394.27 455.20L394.39 455.30L394.51 455.40L394.63 455.50L394.75 455.59L394.87 455.69L394.98 455.79L395.10 455.88L395.22 455.98L395.34 456.07L395.46 456.17L395.58 456.26L395.70 456.36L395.81 456.45L395.93 456.54L396.05 456.64L396.17 456.73L396.29 456.82L396.41 456.91L396.53 457.00L396.65 457.09L396.76 457.18L396.88 457.27L397.00 457.36L397.12 457.45L397.24 457.54L397.36 457.63L397.48 457.72L397.60 457.80L397.71 457.89L397.83 457.98L397.95 458.06L398.07 458.15L398.19 458.24L398.31 458.32L398.43 458.40L398.55 458.49L398.66 458.57L398.78 458.66L398.90 458.74L399.02 458.82L399.14 458.90L399.26 458.99L399.38 459.07L399.49 459.15L399.61 459.23L399.73 459.31L399.85 459.39L399.97 459.47L400.09 459.55L400.21 459.63L400.33 459.71L400.44 459.79L400.56 459.87L400.68 459.94L400.80 460.02L400.92 460.10L401.04 460.17L401.16 460.25L401.28 460.33L401.39 460.40L401.51 460.48L401.63 460.55L401.75 460.63L401.87 460.70L401.99 460.78L402.11 460.85L402.23 460.92L402.34 461.00L402.46 461.07L402.58 461.14L402.70 461.21L402.82 461.29L402.94 461.36L403.06 461.43L403.17 461.50L403.29 461.57L403.41 461.64L403.53 461.71L403.65 461.78L403.77 461.85L403.89 461.92L404.01 461.99L404.12 462.05L404.24 462.12L404.36 462.19L404.48 462.26L404.60 462.32L404.72 462.39L404.84 462.46L404.96 462.52L405.07 462.59L405.19 462.66L405.31 462.72L405.43 462.79L405.55 462.85L405.67 462.92L405.79 462.98L405.90 463.05L406.02 463.11L406.14 463.17L406.26 463.24L406.38 463.30L406.50 463.36L406.62 463.42L406.74 463.49L406.85 463.55L406.97 463.61L407.09 463.67L407.21 463.73L407.33 463.79L407.45 463.85L407.57 463.91L407.69 463.97L407.80 464.03L407.92 464.09L408.04 464.15L408.16 464.21L408.28 464.27L408.40 464.33L408.52 464.39L408.64 464.44L408.75 464.50L408.87 464.56L408.99 464.62L409.11 464.67L409.23 464.73L409.35 464.79L409.47 464.84L409.58 464.90L409.70 464.95L409.82 465.01L409.94 465.07L410.06 465.12L410.18 465.18L410.30 465.23L410.42 465.28L410.53 465.34L410.65 465.39L410.77 465.45L410.89 465.50L411.01 465.55L411.13 465.61L411.25 465.66L411.37 465.71L411.48 465.76L411.60 465.82L411.72 465.87L411.84 465.92L411.96 465.97L412.08 466.02L412.20 466.07L412.32 466.12L412.43 466.17L412.55 466.22L412.67 466.27L412.79 466.32L412.91 466.37L413.03 466.42L413.15 466.47L413.26 466.52L413.38 466.57L413.50 466.62L413.62 466.67L413.74 466.72L413.86 466.76L413.98 466.81L414.10 466.86L414.21 466.91L414.33 466.95L414.45 467.00L414.57 467.05L414.69 467.10L414.81 467.14L414.93 467.19L415.05 467.23L415.16 467.28L415.28 467.33L415.40 467.37L415.52 467.42L415.64 467.46L415.76 467.51L415.88 467.55L415.99 467.60L416.11 467.64L416.23 467.68L416.35 467.73L416.47 467.77L416.59 467.82L416.71 467.86L416.83 467.90L416.94 467.95L417.06 467.99L417.18 468.03L417.30 468.07L417.42 468.12L417.54 468.16L417.66 468.20L417.78 468.24L417.89 468.28L418.01 468.33L418.13 468.37L418.25 468.41L418.37 468.45L418.49 468.49L418.61 468.53L418.73 468.57L418.84 468.61L418.96 468.65L419.08 468.69L419.20 468.73L419.32 468.77L419.44 468.81L419.56 468.85L419.67 468.89L419.79 468.93L419.91 468.97L420.03 469.01L420.15 469.05L420.27 469.08L420.39 469.12L420.51 469.16L420.62 469.20L420.74 469.24L420.86 469.27L420.98 469.31L421.10 469.35L421.22 469.39L421.34 469.42L421.46 469.46L421.57 469.50L421.69 469.53L421.81 469.57L421.93 469.61L422.05 469.64L422.17 469.68L422.29 469.71L422.41 469.75L422.52 469.79L422.64 469.82L422.76 469.86L422.88 469.89L423.00 469.93L423.12 469.96L423.24 470.00L423.35 470.03L423.47 470.06L423.59 470.10L423.71 470.13L423.83 470.17L423.95 470.20L424.07 470.23L424.19 470.27L424.30 470.30L424.42 470.34L424.54 470.37L424.66 470.40L424.78 470.43L424.90 470.47L425.02 470.50L425.14 470.53L425.25 470.57L425.37 470.60L425.49 470.63L425.61 470.66L425.73 470.69L425.85 470.73L425.97 470.76L426.08 470.79L426.20 470.82L426.32 470.85L426.44 470.88L426.56 470.91L426.68 470.94L426.80 470.98L426.92 471.01L427.03 471.04L427.15 471.07L427.27 471.10L427.39 471.13L427.51 471.16L427.63 471.19L427.75 471.22L427.87 471.25L427.98 471.28L428.10 471.31L428.22 471.34L428.34 471.36L428.46 471.39L428.58 471.42L428.70 471.45L428.82 471.48L428.93 471.51L429.05 471.54L429.17 471.57L429.29 471.59L429.41 471.62L429.53 471.65L429.65 471.68L429.76 471.71L429.88 471.74L430.00 471.76L430.12 471.79L430.24 471.82L430.36 471.85L430.48 471.87L430.60 471.90L430.71 471.93L430.83 471.95L430.95 471.98L431.07 472.01L431.19 472.03L431.31 472.06L431.43 472.09L431.55 472.11L431.66 472.14L431.78 472.17L431.90 472.19L432.02 472.22L432.14 472.24L432.26 472.27L432.38 472.30L432.50 472.32L432.61 472.35L432.73 472.37L432.85 472.40L432.97 472.42L433.09 472.45L433.21 472.47L433.33 472.50L433.44 472.52L433.56 472.55L433.68 472.57L433.80 472.60L433.92 472.62L434.04 472.64L434.16 472.67L434.28 472.69L434.39 472.72L434.51 472.74L434.63 472.76L434.75 472.79L434.87 472.81L434.99 472.84L435.11 472.86L435.23 472.88L435.34 472.91L435.46 472.93L435.58 472.95L435.70 472.97L435.82 473.00L435.94 473.02L436.06 473.04L436.18 473.07L436.29 473.09L436.41 473.11L436.53 473.13L436.65 473.16L436.77 473.18L436.89 473.20L437.01 473.22L437.12 473.24L437.24 473.27L437.36 473.29L437.48 473.31L437.60 473.33L437.72 473.35L437.84 473.37L437.96 473.40L438.07 473.42L438.19 473.44L438.31 473.46L438.43 473.48L438.55 473.50L438.67 473.52L438.79 473.54L438.91 473.57L439.02 473.59L439.14 473.61L439.26 473.63L439.38 473.65L439.50 473.67L439.62 473.69L439.74 473.71L439.85 473.73L439.97 473.75L440.09 473.77L440.21 473.79L440.33 473.81L440.45 473.83L440.57 473.85L440.69 473.87L440.80 473.89L440.92 473.91L441.04 473.93L441.16 473.95L441.28 473.97L441.40 473.98L441.52 474.00L441.64 474.02L441.75 474.04L441.87 474.06L441.99 474.08L442.11 474.10L442.23 474.12L442.35 474.14L442.47 474.15L442.59 474.17L442.70 474.19L442.82 474.21L442.94 474.23L443.06 474.25L443.18 474.27L443.30 474.28L443.42 474.30L443.53 474.32L443.65 474.34L443.77 474.36L443.89 474.37L444.01 474.39L444.13 474.41L444.25 474.43L444.37 474.44L444.48 474.46L444.60 474.48L444.72 474.50L444.84 474.51L444.96 474.53L445.08 474.55L445.20 474.57L445.32 474.58L445.43 474.60L445.55 474.62L445.67 474.63L445.79 474.65L445.91 474.67L446.03 474.68L446.15 474.70L446.27 474.72L446.38 474.73L446.50 474.75L446.62 474.77L446.74 474.78L446.86 474.80L446.98 474.82L447.10 474.83L447.21 474.85L447.33 474.86L447.45 474.88L447.57 474.90L447.69 474.91L447.81 474.93L447.93 474.94L448.05 474.96L448.16 474.97L448.28 474.99L448.40 475.01L448.52 475.02L448.64 475.04L448.76 475.05L448.88 475.07L449.00 475.08L449.11 475.10L449.23 475.11L449.35 475.13L449.47 475.14L449.59 475.16L449.71 475.17L449.83 475.19L449.94 475.20L450.06 475.22L450.18 475.23L450.30 475.25L450.42 475.26L450.54 475.28L450.66 475.29L450.78 475.31L450.89 475.32L451.01 475.33L451.13 475.35L451.25 475.36L451.37 475.38L451.49 475.39L451.61 475.41L451.73 475.42L451.84 475.43L451.96 475.45L452.08 475.46L452.20 475.48L452.32 475.49L452.44 475.50L452.56 475.52L452.68 475.53L452.79 475.54L452.91 475.56L453.03 475.57L453.15 475.58L453.27 475.60L453.39 475.61L453.51 475.62L453.62 475.64L453.74 475.65L453.86 475.66L453.98 475.68L454.10 475.69L454.22 475.70L454.34 475.72L454.46 475.73L454.57 475.74L454.69 475.76L454.81 475.77L454.93 475.78L455.05 475.79L455.17 475.81L455.29 475.82L455.41 475.83L455.52 475.85L455.64 475.86L455.76 475.87L455.88 475.88L456.00 475.90L456.12 475.91L456.24 475.92L456.36 475.93L456.47 475.94L456.59 475.96L456.71 475.97L456.83 475.98L456.95 475.99L457.07 476.01L457.19 476.02L457.30 476.03L457.42 476.04L457.54 476.05L457.66 476.06L457.78 476.08L457.90 476.09L458.02 476.10L458.14 476.11L458.25 476.12L458.37 476.13L458.49 476.15L458.61 476.16L458.73 476.17L458.85 476.18L458.97 476.19L459.09 476.20L459.20 476.22L459.32 476.23L459.44 476.24L459.56 476.25L459.68 476.26L459.80 476.27L459.92 476.28L460.03 476.29L460.15 476.30L460.27 476.32L460.39 476.33L460.51 476.34L460.63 476.35L460.75 476.36L460.87 476.37L460.98 476.38L461.10 476.39L461.22 476.40L461.34 476.41L461.46 476.42L461.58 476.43L461.70 476.44L461.82 476.46L461.93 476.47L462.05 476.48L462.17 476.49L462.29 476.50L462.41 476.51L462.53 476.52L462.65 476.53L462.77 476.54L462.88 476.55L463.00 476.56L463.12 476.57L463.24 476.58L463.36 476.59L463.48 476.60L463.60 476.61L463.71 476.62L463.83 476.63L463.95 476.64L464.07 476.65L464.19 476.66L464.31 476.67L464.43 476.68L464.55 476.69L464.66 476.70L464.78 476.71L464.90 476.72L465.02 476.73L465.14 476.74L465.26 476.75L465.38 476.76L465.50 476.76L465.61 476.77L465.73 476.78L465.85 476.79L465.97 476.80L466.09 476.81L466.21 476.82L466.33 476.83L466.45 476.84L466.56 476.85L466.68 476.86L466.80 476.87L466.92 476.88L467.04 476.89L467.16 476.89L467.28 476.90L467.39 476.91L467.51 476.92L467.63 476.93L467.75 476.94L467.87 476.95L467.99 476.96L468.11 476.97L468.23 476.98L468.34 476.98L468.46 476.99L468.58 477.00L468.70 477.01L468.82 477.02L468.94 477.03L469.06 477.04L469.18 477.04L469.29 477.05L469.41 477.06L469.53 477.07L469.65 477.08L469.77 477.09L469.89 477.10L470.01 477.10L470.13 477.11L470.24 477.12L470.36 477.13L470.48 477.14L470.60 477.15L470.72 477.15L470.84 477.16L470.96 477.17L471.07 477.18L471.19 477.19L471.31 477.19L471.43 477.20L471.55 477.21L471.67 477.22L471.79 477.23L471.91 477.23L472.02 477.24L472.14 477.25L472.26 477.26L472.38 477.27L472.50 477.27L472.62 477.28L472.74 477.29L472.86 477.30L472.97 477.31L473.09 477.31L473.21 477.32L473.33 477.33L473.45 477.34L473.57 477.34L473.69 477.35L473.80 477.36L473.92 477.37L474.04 477.37L474.16 477.38L474.28 477.39L474.40 477.40L474.52 477.40L474.64 477.41L474.75 477.42L474.87 477.43L474.99 477.43L475.11 477.44L475.23 477.45L475.35 477.46L475.47 477.46L475.59 477.47L475.70 477.48L475.82 477.48L475.94 477.49L476.06 477.50L476.18 477.51L476.30 477.51L476.42 477.52L476.54 477.53L476.65 477.53L476.77 477.54L476.89 477.55L477.01 477.56L477.13 477.56L477.25 477.57L477.37 477.58L477.48 477.58L477.60 477.59L477.72 477.60L477.84 477.60L477.96 477.61L478.08 477.62L478.20 477.62L478.32 477.63L478.43 477.64L478.55 477.64L478.67 477.65L478.79 477.66L478.91 477.66L479.03 477.67L479.15 477.68L479.27 477.68L479.38 477.69L479.50 477.70L479.62 477.70L479.74 477.71L479.86 477.72L479.98 477.72L480.10 477.73L480.22 477.74L480.33 477.74L480.45 477.75L480.57 477.75L480.69 477.76L480.81 477.77L480.93 477.77L481.05 477.78L481.16 477.79L481.28 477.79L481.40 477.80L481.52 477.80L481.64 477.81L481.76 477.82L481.88 477.82L482.00 477.83L482.11 477.84L482.23 477.84L482.35 477.85L482.47 477.85L482.59 477.86L482.71 477.87L482.83 477.87L482.95 477.88L483.06 477.88L483.18 477.89L483.30 477.90L483.42 477.90L483.54 477.91L483.66 477.91L483.78 477.92L483.89 477.92L484.01 477.93L484.13 477.94L484.25 477.94L484.37 477.95L484.49 477.95L484.61 477.96L484.73 477.96L484.84 477.97L484.96 477.98L485.08 477.98L485.20 477.99L485.32 477.99L485.44 478.00L485.56 478.00L485.68 478.01L485.79 478.02L485.91 478.02L486.03 478.03L486.15 478.03L486.27 478.04L486.39 478.04L486.51 478.05L486.63 478.05L486.74 478.06L486.86 478.06L486.98 478.07L487.10 478.08" fill="none" stroke="#000" stroke-width="3" stroke-dasharray="5 2.3"/><path d="M626.50 411.20L626.62 411.20L626.75 411.20L626.87 411.19L627.00 411.19L627.12 411.19L627.24 411.19L627.37 411.18L627.49 411.18L627.62 411.18L627.74 411.18L627.87 411.17L627.99 411.17L628.11 411.17L628.24 411.17L628.36 411.16L628.49 411.16L628.61 411.16L628.73 411.16L628.86 411.15L628.98 411.15L629.11 411.15L629.23 411.14L629.36 411.14L629.48 411.14L629.60 411.14L629.73 411.13L629.85 411.13L629.98 411.13L630.10 411.13L630.22 411.12L630.35 411.12L630.47 411.12L630.60 411.11L630.72 411.11L630.84 411.11L630.97 411.11L631.09 411.10L631.22 411.10L631.34 411.10L631.47 411.09L631.59 411.09L631.71 411.09L631.84 411.09L631.96 411.08L632.09 411.08L632.21 411.08L632.33 411.07L632.46 411.07L632.58 411.07L632.71 411.07L632.83 411.06L632.96 411.06L633.08 411.06L633.20 411.05L633.33 411.05L633.45 411.05L633.58 411.04L633.70 411.04L633.82 411.04L633.95 411.04L634.07 411.03L634.20 411.03L634.32 411.03L634.45 411.02L634.57 411.02L634.69 411.02L634.82 411.01L634.94 411.01L635.07 411.01L635.19 411.00L635.31 411.00L635.44 411.00L635.56 410.99L635.69 410.99L635.81 410.99L635.93 410.99L636.06 410.98L636.18 410.98L636.31 410.98L636.43 410.97L636.56 410.97L636.68 410.97L636.80 410.96L636.93 410.96L637.05 410.96L637.18 410.95L637.30 410.95L637.42 410.95L637.55 410.94L637.67 410.94L637.80 410.94L637.92 410.93L638.05 410.93L638.17 410.93L638.29 410.92L638.42 410.92L638.54 410.92L638.67 410.91L638.79 410.91L638.91 410.91L639.04 410.90L639.16 410.90L639.29 410.89L639.41 410.89L639.53 410.89L639.66 410.88L639.78 410.88L639.91 410.88L640.03 410.87L640.16 410.87L640.28 410.87L640.40 410.86L640.53 410.86L640.65 410.86L640.78 410.85L640.90 410.85L641.02 410.84L641.15 410.84L641.27 410.84L641.40 410.83L641.52 410.83L641.65 410.83L641.77 410.82L641.89 410.82L642.02 410.82L642.14 410.81L642.27 410.81L642.39 410.80L642.51 410.80L642.64 410.80L642.76 410.79L642.89 410.79L643.01 410.79L643.13 410.78L643.26 410.78L643.38 410.77L643.51 410.77L643.63 410.77L643.76 410.76L643.88 410.76L644.00 410.75L644.13 410.75L644.25 410.75L644.38 410.74L644.50 410.74L644.62 410.73L644.75 410.73L644.87 410.73L645.00 410.72L645.12 410.72L645.25 410.71L645.37 410.71L645.49 410.71L645.62 410.70L645.74 410.70L645.87 410.69L645.99 410.69L646.11 410.69L646.24 410.68L646.36 410.68L646.49 410.67L646.61 410.67L646.74 410.66L646.86 410.66L646.98 410.66L647.11 410.65L647.23 410.65L647.36 410.64L647.48 410.64L647.60 410.63L647.73 410.63L647.85 410.63L647.98 410.62L648.10 410.62L648.22 410.61L648.35 410.61L648.47 410.60L648.60 410.60L648.72 410.60L648.85 410.59L648.97 410.59L649.09 410.58L649.22 410.58L649.34 410.57L649.47 410.57L649.59 410.56L649.71 410.56L649.84 410.55L649.96 410.55L650.09 410.55L650.21 410.54L650.34 410.54L650.46 410.53L650.58 410.53L650.71 410.52L650.83 410.52L650.96 410.51L651.08 410.51L651.20 410.50L651.33 410.50L651.45 410.49L651.58 410.49L651.70 410.48L651.82 410.48L651.95 410.47L652.07 410.47L652.20 410.46L652.32 410.46L652.45 410.45L652.57 410.45L652.69 410.45L652.82 410.44L652.94 410.44L653.07 410.43L653.19 410.43L653.31 410.42L653.44 410.42L653.56 410.41L653.69 410.40L653.81 410.40L653.94 410.39L654.06 410.39L654.18 410.38L654.31 410.38L654.43 410.37L654.56 410.37L654.68 410.36L654.80 410.36L654.93 410.35L655.05 410.35L655.18 410.34L655.30 410.34L655.42 410.33L655.55 410.33L655.67 410.32L655.80 410.32L655.92 410.31L656.05 410.31L656.17 410.30L656.29 410.29L656.42 410.29L656.54 410.28L656.67 410.28L656.79 410.27L656.91 410.27L657.04 410.26L657.16 410.26L657.29 410.25L657.41 410.24L657.54 410.24L657.66 410.23L657.78 410.23L657.91 410.22L658.03 410.22L658.16 410.21L658.28 410.20L658.40 410.20L658.53 410.19L658.65 410.19L658.78 410.18L658.90 410.18L659.03 410.17L659.15 410.16L659.27 410.16L659.40 410.15L659.52 410.15L659.65 410.14L659.77 410.13L659.89 410.13L660.02 410.12L660.14 410.12L660.27 410.11L660.39 410.10L660.51 410.10L660.64 410.09L660.76 410.09L660.89 410.08L661.01 410.07L661.14 410.07L661.26 410.06L661.38 410.05L661.51 410.05L661.63 410.04L661.76 410.04L661.88 410.03L662.00 410.02L662.13 410.02L662.25 410.01L662.38 410.00L662.50 410.00L662.63 409.99L662.75 409.98L662.87 409.98L663.00 409.97L663.12 409.96L663.25 409.96L663.37 409.95L663.49 409.94L663.62 409.94L663.74 409.93L663.87 409.92L663.99 409.92L664.11 409.91L664.24 409.90L664.36 409.90L664.49 409.89L664.61 409.88L664.74 409.88L664.86 409.87L664.98 409.86L665.11 409.86L665.23 409.85L665.36 409.84L665.48 409.84L665.60 409.83L665.73 409.82L665.85 409.81L665.98 409.81L666.10 409.80L666.23 409.79L666.35 409.79L666.47 409.78L666.60 409.77L666.72 409.76L666.85 409.76L666.97 409.75L667.09 409.74L667.22 409.73L667.34 409.73L667.47 409.72L667.59 409.71L667.71 409.70L667.84 409.70L667.96 409.69L668.09 409.68L668.21 409.67L668.34 409.67L668.46 409.66L668.58 409.65L668.71 409.64L668.83 409.64L668.96 409.63L669.08 409.62L669.20 409.61L669.33 409.60L669.45 409.60L669.58 409.59L669.70 409.58L669.83 409.57L669.95 409.56L670.07 409.56L670.20 409.55L670.32 409.54L670.45 409.53L670.57 409.52L670.69 409.52L670.82 409.51L670.94 409.50L671.07 409.49L671.19 409.48L671.32 409.48L671.44 409.47L671.56 409.46L671.69 409.45L671.81 409.44L671.94 409.43L672.06 409.42L672.18 409.42L672.31 409.41L672.43 409.40L672.56 409.39L672.68 409.38L672.80 409.37L672.93 409.36L673.05 409.36L673.18 409.35L673.30 409.34L673.43 409.33L673.55 409.32L673.67 409.31L673.80 409.30L673.92 409.29L674.05 409.28L674.17 409.28L674.29 409.27L674.42 409.26L674.54 409.25L674.67 409.24L674.79 409.23L674.92 409.22L675.04 409.21L675.16 409.20L675.29 409.19L675.41 409.18L675.54 409.17L675.66 409.16L675.78 409.15L675.91 409.14L676.03 409.14L676.16 409.13L676.28 409.12L676.40 409.11L676.53 409.10L676.65 409.09L676.78 409.08L676.90 409.07L677.03 409.06L677.15 409.05L677.27 409.04L677.40 409.03L677.52 409.02L677.65 409.01L677.77 409.00L677.89 408.99L678.02 408.98L678.14 408.97L678.27 408.96L678.39 408.95L678.52 408.94L678.64 408.93L678.76 408.92L678.89 408.91L679.01 408.89L679.14 408.88L679.26 408.87L679.38 408.86L679.51 408.85L679.63 408.84L679.76 408.83L679.88 408.82L680.00 408.81L680.13 408.80L680.25 408.79L680.38 408.78L680.50 408.77L680.63 408.76L680.75 408.74L680.87 408.73L681.00 408.72L681.12 408.71L681.25 408.70L681.37 408.69L681.49 408.68L681.62 408.67L681.74 408.65L681.87 408.64L681.99 408.63L682.12 408.62L682.24 408.61L682.36 408.60L682.49 408.59L682.61 408.57L682.74 408.56L682.86 408.55L682.98 408.54L683.11 408.53L683.23 408.51L683.36 408.50L683.48 408.49L683.61 408.48L683.73 408.47L683.85 408.45L683.98 408.44L684.10 408.43L684.23 408.42L684.35 408.41L684.47 408.39L684.60 408.38L684.72 408.37L684.85 408.36L684.97 408.34L685.09 408.33L685.22 408.32L685.34 408.31L685.47 408.29L685.59 408.28L685.72 408.27L685.84 408.25L685.96 408.24L686.09 408.23L686.21 408.21L686.34 408.20L686.46 408.19L686.58 408.18L686.71 408.16L686.83 408.15L686.96 408.14L687.08 408.12L687.21 408.11L687.33 408.10L687.45 408.08L687.58 408.07L687.70 408.05L687.83 408.04L687.95 408.03L688.07 408.01L688.20 408.00L688.32 407.98L688.45 407.97L688.57 407.96L688.69 407.94L688.82 407.93L688.94 407.91L689.07 407.90L689.19 407.89L689.32 407.87L689.44 407.86L689.56 407.84L689.69 407.83L689.81 407.81L689.94 407.80L690.06 407.78L690.18 407.77L690.31 407.75L690.43 407.74L690.56 407.72L690.68 407.71L690.81 407.69L690.93 407.68L691.05 407.66L691.18 407.65L691.30 407.63L691.43 407.62L691.55 407.60L691.67 407.59L691.80 407.57L691.92 407.56L692.05 407.54L692.17 407.52L692.29 407.51L692.42 407.49L692.54 407.48L692.67 407.46L692.79 407.44L692.92 407.43L693.04 407.41L693.16 407.40L693.29 407.38L693.41 407.36L693.54 407.35L693.66 407.33L693.78 407.31L693.91 407.30L694.03 407.28L694.16 407.26L694.28 407.25L694.41 407.23L694.53 407.21L694.65 407.19L694.78 407.18L694.90 407.16L695.03 407.14L695.15 407.13L695.27 407.11L695.40 407.09L695.52 407.07L695.65 407.06L695.77 407.04L695.90 407.02L696.02 407.00L696.14 406.98L696.27 406.97L696.39 406.95L696.52 406.93L696.64 406.91L696.76 406.89L696.89 406.87L697.01 406.86L697.14 406.84L697.26 406.82L697.38 406.80L697.51 406.78L697.63 406.76L697.76 406.74L697.88 406.72L698.01 406.71L698.13 406.69L698.25 406.67L698.38 406.65L698.50 406.63L698.63 406.61L698.75 406.59L698.87 406.57L699.00 406.55L699.12 406.53L699.25 406.51L699.37 406.49L699.50 406.47L699.62 406.45L699.74 406.43L699.87 406.41L699.99 406.39L700.12 406.37L700.24 406.35L700.36 406.33L700.49 406.31L700.61 406.29L700.74 406.27L700.86 406.24L700.98 406.22L701.11 406.20L701.23 406.18L701.36 406.16L701.48 406.14L701.61 406.12L701.73 406.09L701.85 406.07L701.98 406.05L702.10 406.03L702.23 406.01L702.35 405.99L702.47 405.96L702.60 405.94L702.72 405.92L702.85 405.90L702.97 405.87L703.10 405.85L703.22 405.83L703.34 405.81L703.47 405.78L703.59 405.76L703.72 405.74L703.84 405.71L703.96 405.69L704.09 405.67L704.21 405.64L704.34 405.62L704.46 405.60L704.58 405.57L704.71 405.55L704.83 405.52L704.96 405.50L705.08 405.48L705.21 405.45L705.33 405.43L705.45 405.40L705.58 405.38L705.70 405.35L705.83 405.33L705.95 405.30L706.07 405.28L706.20 405.25L706.32 405.23L706.45 405.20L706.57 405.18L706.70 405.15L706.82 405.13L706.94 405.10L707.07 405.07L707.19 405.05L707.32 405.02L707.44 405.00L707.56 404.97L707.69 404.94L707.81 404.92L707.94 404.89L708.06 404.86L708.19 404.84L708.31 404.81L708.43 404.78L708.56 404.75L708.68 404.73L708.81 404.70L708.93 404.67L709.05 404.64L709.18 404.62L709.30 404.59L709.43 404.56L709.55 404.53L709.67 404.50L709.80 404.47L709.92 404.45L710.05 404.42L710.17 404.39L710.30 404.36L710.42 404.33L710.54 404.30L710.67 404.27L710.79 404.24L710.92 404.21L711.04 404.18L711.16 404.15L711.29 404.12L711.41 404.09L711.54 404.06L711.66 404.03L711.79 404.00L711.91 403.97L712.03 403.94L712.16 403.91L712.28 403.88L712.41 403.85L712.53 403.82L712.65 403.78L712.78 403.75L712.90 403.72L713.03 403.69L713.15 403.66L713.27 403.62L713.40 403.59L713.52 403.56L713.65 403.53L713.77 403.49L713.90 403.46L714.02 403.43L714.14 403.40L714.27 403.36L714.39 403.33L714.52 403.29L714.64 403.26L714.76 403.23L714.89 403.19L715.01 403.16L715.14 403.12L715.26 403.09L715.39 403.06L715.51 403.02L715.63 402.99L715.76 402.95L715.88 402.92L716.01 402.88L716.13 402.84L716.25 402.81L716.38 402.77L716.50 402.74L716.63 402.70L716.75 402.66L716.87 402.63L717.00 402.59L717.12 402.55L717.25 402.52L717.37 402.48L717.50 402.44L717.62 402.40L717.74 402.37L717.87 402.33L717.99 402.29L718.12 402.25L718.24 402.21L718.36 402.18L718.49 402.14L718.61 402.10L718.74 402.06L718.86 402.02L718.99 401.98L719.11 401.94L719.23 401.90L719.36 401.86L719.48 401.82L719.61 401.78L719.73 401.74L719.85 401.70L719.98 401.66L720.10 401.62L720.23 401.57L720.35 401.53L720.48 401.49L720.60 401.45L720.72 401.41L720.85 401.37L720.97 401.32L721.10 401.28L721.22 401.24L721.34 401.19L721.47 401.15L721.59 401.11L721.72 401.06L721.84 401.02L721.96 400.98L722.09 400.93L722.21 400.89L722.34 400.84L722.46 400.80L722.59 400.75L722.71 400.71L722.83 400.66L722.96 400.62L723.08 400.57L723.21 400.53L723.33 400.48L723.45 400.43L723.58 400.39L723.70 400.34L723.83 400.29L723.95 400.25L724.08 400.20L724.20 400.15L724.32 400.10L724.45 400.05L724.57 400.01L724.70 399.96L724.82 399.91L724.94 399.86L725.07 399.81L725.19 399.76L725.32 399.71L725.44 399.66L725.56 399.61L725.69 399.56L725.81 399.51L725.94 399.46L726.06 399.41L726.19 399.36L726.31 399.30L726.43 399.25L726.56 399.20L726.68 399.15L726.81 399.10L726.93 399.04L727.05 398.99L727.18 398.94L727.30 398.88L727.43 398.83L727.55 398.78L727.68 398.72L727.80 398.67L727.92 398.61L728.05 398.56L728.17 398.50L728.30 398.45L728.42 398.39L728.54 398.33L728.67 398.28L728.79 398.22L728.92 398.16L729.04 398.11L729.16 398.05L729.29 397.99L729.41 397.93L729.54 397.88L729.66 397.82L729.79 397.76L729.91 397.70L730.03 397.64L730.16 397.58L730.28 397.52L730.41 397.46L730.53 397.40L730.65 397.34L730.78 397.28L730.90 397.22L731.03 397.16L731.15 397.10L731.28 397.03L731.40 396.97L731.52 396.91L731.65 396.85L731.77 396.78L731.90 396.72L732.02 396.65L732.14 396.59L732.27 396.53L732.39 396.46L732.52 396.40L732.64 396.33L732.77 396.27L732.89 396.20L733.01 396.13L733.14 396.07L733.26 396.00L733.39 395.93L733.51 395.86L733.63 395.80L733.76 395.73L733.88 395.66L734.01 395.59L734.13 395.52L734.25 395.45L734.38 395.38L734.50 395.31L734.63 395.24L734.75 395.17L734.88 395.10L735.00 395.03L735.12 394.96L735.25 394.89L735.37 394.81L735.50 394.74L735.62 394.67L735.74 394.59L735.87 394.52L735.99 394.45L736.12 394.37L736.24 394.30L736.37 394.22L736.49 394.15L736.61 394.07L736.74 393.99L736.86 393.92L736.99 393.84L737.11 393.76L737.23 393.68L737.36 393.61L737.48 393.53L737.61 393.45L737.73 393.37L737.85 393.29L737.98 393.21L738.10 393.13L738.23 393.05L738.35 392.97L738.48 392.89L738.60 392.80L738.72 392.72L738.85 392.64L738.97 392.56L739.10 392.47L739.22 392.39L739.34 392.31L739.47 392.22L739.59 392.14L739.72 392.05L739.84 391.96L739.97 391.88L740.09 391.79L740.21 391.70L740.34 391.62L740.46 391.53L740.59 391.44L740.71 391.35L740.83 391.26L740.96 391.17L741.08 391.08L741.21 390.99L741.33 390.90L741.45 390.81L741.58 390.72L741.70 390.63L741.83 390.53L741.95 390.44L742.08 390.35L742.20 390.25L742.32 390.16L742.45 390.06L742.57 389.97L742.70 389.87L742.82 389.78L742.94 389.68L743.07 389.58L743.19 389.49L743.32 389.39L743.44 389.29L743.57 389.19L743.69 389.09L743.81 388.99L743.94 388.89L744.06 388.79L744.19 388.69L744.31 388.59L744.43 388.48L744.56 388.38L744.68 388.28L744.81 388.17L744.93 388.07L745.06 387.97L745.18 387.86L745.30 387.75L745.43 387.65L745.55 387.54L745.68 387.43L745.80 387.33L745.92 387.22L746.05 387.11L746.17 387.00L746.30 386.89L746.42 386.78L746.54 386.67L746.67 386.56L746.79 386.45L746.92 386.33L747.04 386.22L747.17 386.11L747.29 385.99L747.41 385.88L747.54 385.76L747.66 385.65L747.79 385.53L747.91 385.42L748.03 385.30L748.16 385.18L748.28 385.06L748.41 384.94L748.53 384.82L748.66 384.70L748.78 384.58L748.90 384.46L749.03 384.34L749.15 384.22L749.28 384.09L749.40 383.97L749.52 383.85L749.65 383.72L749.77 383.60L749.90 383.47L750.02 383.34L750.14 383.22L750.27 383.09L750.39 382.96L750.52 382.83L750.64 382.70L750.77 382.57L750.89 382.44L751.01 382.31L751.14 382.18L751.26 382.05L751.39 381.91L751.51 381.78L751.63 381.64L751.76 381.51L751.88 381.37L752.01 381.24L752.13 381.10L752.26 380.96L752.38 380.82L752.50 380.68L752.63 380.55L752.75 380.41L752.88 380.26L753.00 380.12L753.12 379.98L753.25 379.84L753.37 379.69L753.50 379.55L753.62 379.40L753.74 379.26L753.87 379.11L753.99 378.97L754.12 378.82L754.24 378.67L754.37 378.52L754.49 378.37L754.61 378.22L754.74 378.07L754.86 377.92L754.99 377.77L755.11 377.61L755.23 377.46L755.36 377.30L755.48 377.15L755.61 376.99L755.73 376.84L755.86 376.68L755.98 376.52L756.10 376.36L756.23 376.20L756.35 376.04L756.48 375.88L756.60 375.72L756.72 375.56L756.85 375.39L756.97 375.23L757.10 375.06L757.22 374.90L757.35 374.73L757.47 374.57L757.59 374.40L757.72 374.23L757.84 374.06L757.97 373.89L758.09 373.72L758.21 373.55L758.34 373.37L758.46 373.20L758.59 373.03L758.71 372.85L758.83 372.68L758.96 372.50L759.08 372.32L759.21 372.14L759.33 371.97L759.46 371.79L759.58 371.61L759.70 371.42L759.83 371.24L759.95 371.06L760.08 370.88L760.20 370.69L760.32 370.51L760.45 370.32L760.57 370.13L760.70 369.94L760.82 369.76L760.95 369.57L761.07 369.38L761.19 369.18L761.32 368.99L761.44 368.80L761.57 368.61L761.69 368.41L761.81 368.22L761.94 368.02L762.06 367.82L762.19 367.62L762.31 367.43L762.43 367.23L762.56 367.02L762.68 366.82L762.81 366.62L762.93 366.42L763.06 366.21L763.18 366.01L763.30 365.80L763.43 365.60L763.55 365.39L763.68 365.18L763.80 364.97L763.92 364.76L764.05 364.55L764.17 364.34L764.30 364.12L764.42 363.91L764.55 363.69L764.67 363.48L764.79 363.26L764.92 363.04L765.04 362.82L765.17 362.60L765.29 362.38L765.41 362.16L765.54 361.94L765.66 361.72L765.79 361.49L765.91 361.27L766.03 361.04L766.16 360.81L766.28 360.59L766.41 360.36L766.53 360.13L766.66 359.90L766.78 359.66L766.90 359.43L767.03 359.20L767.15 358.96L767.28 358.73L767.40 358.49L767.52 358.25L767.65 358.01L767.77 357.78L767.90 357.54L768.02 357.29L768.15 357.05L768.27 356.81L768.39 356.56L768.52 356.32L768.64 356.07L768.77 355.82L768.89 355.58L769.01 355.33L769.14 355.08L769.26 354.83L769.39 354.57L769.51 354.32L769.64 354.07L769.76 353.81L769.88 353.55L770.01 353.30L770.13 353.04L770.26 352.78L770.38 352.52L770.50 352.26L770.63 352.00L770.75 351.73L770.88 351.47L771.00 351.20L771.12 350.94L771.25 350.67L771.37 350.40L771.50 350.13L771.62 349.86L771.75 349.59L771.87 349.32L771.99 349.05L772.12 348.77L772.24 348.50L772.37 348.22L772.49 347.95L772.61 347.67L772.74 347.39L772.86 347.11L772.99 346.83L773.11 346.54L773.24 346.26L773.36 345.98L773.48 345.69L773.61 345.41L773.73 345.12L773.86 344.83L773.98 344.54L774.10 344.25L774.23 343.96L774.35 343.67L774.48 343.38L774.60 343.08L774.72 342.79L774.85 342.49L774.97 342.19L775.10 341.90L775.22 341.60L775.35 341.30L775.47 341.00L775.59 340.69L775.72 340.39L775.84 340.09L775.97 339.78L776.09 339.48L776.21 339.17L776.34 338.86L776.46 338.55L776.59 338.24L776.71 337.93L776.84 337.62L776.96 337.31L777.08 336.99L777.21 336.68L777.33 336.36L777.46 336.05L777.58 335.73L777.70 335.41L777.83 335.09L777.95 334.77L778.08 334.45L778.20 334.13L778.32 333.81L778.45 333.48L778.57 333.16L778.70 332.83L778.82 332.51L778.95 332.18L779.07 331.85L779.19 331.52L779.32 331.19L779.44 330.86L779.57 330.53L779.69 330.20L779.81 329.86L779.94 329.53L780.06 329.19L780.19 328.86L780.31 328.52L780.44 328.18L780.56 327.84L780.68 327.50L780.81 327.16L780.93 326.82L781.06 326.48L781.18 326.14L781.30 325.79L781.43 325.45L781.55 325.11L781.68 324.76L781.80 324.41L781.93 324.07L782.05 323.72L782.17 323.37L782.30 323.02L782.42 322.67L782.55 322.32L782.67 321.97L782.79 321.61L782.92 321.26L783.04 320.91L783.17 320.55L783.29 320.20L783.41 319.84L783.54 319.49L783.66 319.13L783.79 318.77L783.91 318.41L784.04 318.05L784.16 317.69L784.28 317.33L784.41 316.97L784.53 316.61L784.66 316.25L784.78 315.89L784.90 315.53L785.03 315.16L785.15 314.80L785.28 314.43L785.40 314.07L785.53 313.70L785.65 313.34L785.77 312.97L785.90 312.60L786.02 312.24L786.15 311.87L786.27 311.50L786.39 311.13L786.52 310.76L786.64 310.40L786.77 310.03L786.89 309.66L787.01 309.29L787.14 308.91L787.26 308.54L787.39 308.17L787.51 307.80L787.64 307.43L787.76 307.06L787.88 306.69L788.01 306.31L788.13 305.94L788.26 305.57L788.38 305.20L788.50 304.82L788.63 304.45L788.75 304.08L788.88 303.70L789.00 303.33L789.13 302.96L789.25 302.58L789.37 302.21L789.50 301.83L789.62 301.46L789.75 301.09L789.87 300.71L789.99 300.34L790.12 299.97L790.24 299.59L790.37 299.22L790.49 298.85L790.61 298.47L790.74 298.10L790.86 297.73L790.99 297.36L791.11 296.98L791.24 296.61L791.36 296.24L791.48 295.87L791.61 295.50L791.73 295.13L791.86 294.75L791.98 294.38L792.10 294.01L792.23 293.64L792.35 293.28L792.48 292.91L792.60 292.54L792.73 292.17L792.85 291.80L792.97 291.44L793.10 291.07L793.22 290.70L793.35 290.34L793.47 289.97L793.59 289.61L793.72 289.25L793.84 288.88L793.97 288.52L794.09 288.16L794.22 287.80L794.34 287.44L794.46 287.08L794.59 286.72L794.71 286.37L794.84 286.01L794.96 285.65L795.08 285.30L795.21 284.95L795.33 284.59L795.46 284.24L795.58 283.89L795.70 283.54L795.83 283.19L795.95 282.84L796.08 282.50L796.20 282.15L796.33 281.81L796.45 281.46L796.57 281.12L796.70 280.78L796.82 280.44L796.95 280.10L797.07 279.77L797.19 279.43L797.32 279.09L797.44 278.76L797.57 278.43L797.69 278.10L797.82 277.77L797.94 277.44L798.06 277.12L798.19 276.79L798.31 276.47L798.44 276.15L798.56 275.83L798.68 275.51L798.81 275.19L798.93 274.88L799.06 274.56L799.18 274.25L799.30 273.94L799.43 273.63L799.55 273.33L799.68 273.02L799.80 272.72L799.93 272.42L800.05 272.12L800.17 271.82L800.30 271.53L800.42 271.24L800.55 270.94L800.67 270.65L800.79 270.37L800.92 270.08L801.04 269.80L801.17 269.52L801.29 269.24L801.42 268.96L801.54 268.69L801.66 268.42L801.79 268.15L801.91 267.88L802.04 267.61L802.16 267.35L802.28 267.09L802.41 266.83L802.53 266.57L802.66 266.32L802.78 266.07L802.90 265.82L803.03 265.57L803.15 265.33L803.28 265.09L803.40 264.85L803.53 264.61L803.65 264.38L803.77 264.15L803.90 263.92L804.02 263.69L804.15 263.47L804.27 263.25L804.39 263.03L804.52 262.81L804.64 262.60L804.77 262.39L804.89 262.18L805.02 261.98L805.14 261.78L805.26 261.58L805.39 261.38L805.51 261.19L805.64 261.00L805.76 260.81L805.88 260.63L806.01 260.45L806.13 260.27L806.26 260.10L806.38 259.92L806.51 259.76L806.63 259.59L806.75 259.43L806.88 259.27L807.00 259.11L807.13 258.96L807.25 258.81L807.37 258.66L807.50 258.51L807.62 258.37L807.75 258.24L807.87 258.10L807.99 257.97L808.12 257.84L808.24 257.72L808.37 257.60L808.49 257.48L808.62 257.36L808.74 257.25L808.86 257.14L808.99 257.04L809.11 256.94L809.24 256.84L809.36 256.74L809.48 256.65L809.61 256.56L809.73 256.48L809.86 256.40L809.98 256.32L810.11 256.24L810.23 256.17L810.35 256.10L810.48 256.04L810.60 255.98L810.73 255.92L810.85 255.87L810.97 255.82L811.10 255.77L811.22 255.73L811.35 255.69L811.47 255.65L811.59 255.62L811.72 255.59L811.84 255.56L811.97 255.54L812.09 255.52L812.22 255.50L812.34 255.49L812.46 255.48L812.59 255.48L812.71 255.47L812.84 255.48L812.96 255.48L813.08 255.49L813.21 255.50L813.33 255.52L813.46 255.54L813.58 255.56L813.71 255.59L813.83 255.61L813.95 255.65L814.08 255.68L814.20 255.72L814.33 255.77L814.45 255.82L814.57 255.87L814.70 255.92L814.82 255.98L814.95 256.04L815.07 256.10L815.19 256.17L815.32 256.24L815.44 256.32L815.57 256.39L815.69 256.48L815.82 256.56L815.94 256.65L816.06 256.74L816.19 256.84L816.31 256.93L816.44 257.04L816.56 257.14L816.68 257.25L816.81 257.36L816.93 257.48L817.06 257.59L817.18 257.72L817.31 257.84L817.43 257.97L817.55 258.10L817.68 258.23L817.80 258.37L817.93 258.51L818.05 258.66L818.17 258.80L818.30 258.95L818.42 259.11L818.55 259.26L818.67 259.42L818.79 259.59L818.92 259.75L819.04 259.92L819.17 260.09L819.29 260.27L819.42 260.45L819.54 260.63L819.66 260.81L819.79 261.00L819.91 261.19L820.04 261.38L820.16 261.58L820.28 261.77L820.41 261.98L820.53 262.18L820.66 262.39L820.78 262.60L820.91 262.81L821.03 263.02L821.15 263.24L821.28 263.46L821.40 263.69L821.53 263.91L821.65 264.14L821.77 264.37L821.90 264.61L822.02 264.84L822.15 265.08L822.27 265.32L822.40 265.57L822.52 265.81L822.64 266.06L822.77 266.31L822.89 266.57L823.02 266.82L823.14 267.08L823.26 267.34L823.39 267.61L823.51 267.87L823.64 268.14L823.76 268.41L823.88 268.68L824.01 268.96L824.13 269.23L824.26 269.51L824.38 269.79L824.51 270.08L824.63 270.36L824.75 270.65L824.88 270.94L825.00 271.23L825.13 271.52L825.25 271.82L825.37 272.12L825.50 272.41L825.62 272.72L825.75 273.02L825.87 273.32L826.00 273.63L826.12 273.94L826.24 274.25L826.37 274.56L826.49 274.87L826.62 275.19L826.74 275.50L826.86 275.82L826.99 276.14L827.11 276.46L827.24 276.79L827.36 277.11L827.48 277.44L827.61 277.76L827.73 278.09L827.86 278.42L827.98 278.76L828.11 279.09L828.23 279.42L828.35 279.76L828.48 280.10L828.60 280.44L828.73 280.78L828.85 281.12L828.97 281.46L829.10 281.80L829.22 282.15L829.35 282.49L829.47 282.84L829.60 283.19L829.72 283.53L829.84 283.88L829.97 284.24L830.09 284.59L830.22 284.94L830.34 285.29L830.46 285.65L830.59 286.00L830.71 286.36L830.84 286.72L830.96 287.08L831.08 287.44L831.21 287.80L831.33 288.16L831.46 288.52L831.58 288.88L831.71 289.24L831.83 289.60L831.95 289.97L832.08 290.33L832.20 290.70L832.33 291.06L832.45 291.43L832.57 291.80L832.70 292.16L832.82 292.53L832.95 292.90L833.07 293.27L833.20 293.64L833.32 294.01L833.44 294.38L833.57 294.75L833.69 295.12L833.82 295.49L833.94 295.86L834.06 296.23L834.19 296.60L834.31 296.98L834.44 297.35L834.56 297.72L834.69 298.09L834.81 298.47L834.93 298.84L835.06 299.21L835.18 299.59L835.31 299.96L835.43 300.33L835.55 300.71L835.68 301.08L835.80 301.45L835.93 301.83L836.05 302.20L836.17 302.58L836.30 302.95L836.42 303.32L836.55 303.70L836.67 304.07L836.80 304.44L836.92 304.82L837.04 305.19L837.17 305.56L837.29 305.93L837.42 306.31L837.54 306.68L837.66 307.05L837.79 307.42L837.91 307.80L838.04 308.17L838.16 308.54L838.29 308.91L838.41 309.28L838.53 309.65L838.66 310.02L838.78 310.39L838.91 310.76L839.03 311.13L839.15 311.50L839.28 311.86L839.40 312.23L839.53 312.60L839.65 312.96L839.77 313.33L839.90 313.70L840.02 314.06L840.15 314.43L840.27 314.79L840.40 315.16L840.52 315.52L840.64 315.88L840.77 316.24L840.89 316.61L841.02 316.97L841.14 317.33L841.26 317.69L841.39 318.05L841.51 318.41L841.64 318.76L841.76 319.12L841.89 319.48L842.01 319.84L842.13 320.19L842.26 320.55L842.38 320.90L842.51 321.26L842.63 321.61L842.75 321.96L842.88 322.31L843.00 322.66L843.13 323.01L843.25 323.36L843.37 323.71L843.50 324.06L843.62 324.41L843.75 324.75L843.87 325.10L844.00 325.44L844.12 325.79L844.24 326.13L844.37 326.48L844.49 326.82L844.62 327.16L844.74 327.50L844.86 327.84L844.99 328.18L845.11 328.51L845.24 328.85L845.36 329.19L845.49 329.52L845.61 329.86L845.73 330.19L845.86 330.52L845.98 330.85L846.11 331.19L846.23 331.52L846.35 331.85L846.48 332.17L846.60 332.50L846.73 332.83L846.85 333.15L846.98 333.48L847.10 333.80L847.22 334.12L847.35 334.45L847.47 334.77L847.60 335.09L847.72 335.41L847.84 335.73L847.97 336.04L848.09 336.36L848.22 336.67L848.34 336.99L848.46 337.30L848.59 337.62L848.71 337.93L848.84 338.24L848.96 338.55L849.09 338.86L849.21 339.16L849.33 339.47L849.46 339.78L849.58 340.08L849.71 340.39L849.83 340.69L849.95 340.99L850.08 341.29L850.20 341.59L850.33 341.89L850.45 342.19L850.58 342.49L850.70 342.78L850.82 343.08L850.95 343.37L851.07 343.66L851.20 343.96L851.32 344.25L851.44 344.54L851.57 344.83L851.69 345.11L851.82 345.40L851.94 345.69L852.06 345.97L852.19 346.26L852.31 346.54L852.44 346.82L852.56 347.10L852.69 347.38L852.81 347.66L852.93 347.94L853.06 348.22L853.18 348.49L853.31 348.77L853.43 349.04L853.55 349.32L853.68 349.59L853.80 349.86L853.93 350.13L854.05 350.40L854.18 350.67L854.30 350.93L854.42 351.20L854.55 351.47L854.67 351.73L854.80 351.99L854.92 352.25L855.04 352.52L855.17 352.78L855.29 353.04L855.42 353.29L855.54 353.55L855.66 353.81L855.79 354.06L855.91 354.32L856.04 354.57L856.16 354.82L856.29 355.07L856.41 355.32L856.53 355.57L856.66 355.82L856.78 356.07L856.91 356.31L857.03 356.56L857.15 356.80L857.28 357.05L857.40 357.29L857.53 357.53L857.65 357.77L857.78 358.01L857.90 358.25L858.02 358.49L858.15 358.72L858.27 358.96L858.40 359.19L858.52 359.43L858.64 359.66L858.77 359.89L858.89 360.12L859.02 360.35L859.14 360.58L859.27 360.81L859.39 361.04L859.51 361.26L859.64 361.49L859.76 361.71L859.89 361.94L860.01 362.16L860.13 362.38L860.26 362.60L860.38 362.82L860.51 363.04L860.63 363.26L860.75 363.47L860.88 363.69L861.00 363.90L861.13 364.12L861.25 364.33L861.38 364.54L861.50 364.76L861.62 364.97L861.75 365.18L861.87 365.38L862.00 365.59L862.12 365.80L862.24 366.00L862.37 366.21L862.49 366.41L862.62 366.62L862.74 366.82L862.87 367.02L862.99 367.22L863.11 367.42L863.24 367.62L863.36 367.82L863.49 368.02L863.61 368.21L863.73 368.41L863.86 368.60L863.98 368.80L864.11 368.99L864.23 369.18L864.35 369.37L864.48 369.56L864.60 369.75L864.73 369.94L864.85 370.13L864.98 370.32L865.10 370.50L865.22 370.69L865.35 370.87L865.47 371.06L865.60 371.24L865.72 371.42L865.84 371.60L865.97 371.78L866.09 371.96L866.22 372.14L866.34 372.32L866.47 372.50L866.59 372.67L866.71 372.85L866.84 373.02L866.96 373.20L867.09 373.37L867.21 373.54L867.33 373.72L867.46 373.89L867.58 374.06L867.71 374.23L867.83 374.39L867.95 374.56L868.08 374.73L868.20 374.90L868.33 375.06L868.45 375.23L868.58 375.39L868.70 375.55L868.82 375.72L868.95 375.88L869.07 376.04L869.20 376.20L869.32 376.36L869.44 376.52L869.57 376.68L869.69 376.83L869.82 376.99L869.94 377.15L870.07 377.30L870.19 377.46L870.31 377.61L870.44 377.76L870.56 377.92L870.69 378.07L870.81 378.22L870.93 378.37L871.06 378.52L871.18 378.67L871.31 378.82L871.43 378.96L871.56 379.11L871.68 379.26L871.80 379.40L871.93 379.55L872.05 379.69L872.18 379.84L872.30 379.98L872.42 380.12L872.55 380.26L872.67 380.40L872.80 380.54L872.92 380.68L873.04 380.82L873.17 380.96L873.29 381.10L873.42 381.23L873.54 381.37L873.67 381.51L873.79 381.64L873.91 381.78L874.04 381.91L874.16 382.04L874.29 382.18L874.41 382.31L874.53 382.44L874.66 382.57L874.78 382.70L874.91 382.83L875.03 382.96L875.16 383.09L875.28 383.21L875.40 383.34L875.53 383.47L875.65 383.59L875.78 383.72L875.90 383.84L876.02 383.97L876.15 384.09L876.27 384.21L876.40 384.34L876.52 384.46L876.64 384.58L876.77 384.70L876.89 384.82L877.02 384.94L877.14 385.06L877.27 385.18L877.39 385.30L877.51 385.41L877.64 385.53L877.76 385.65L877.89 385.76L878.01 385.88L878.13 385.99L878.26 386.11L878.38 386.22L878.51 386.33L878.63 386.44L878.76 386.56L878.88 386.67L879.00 386.78L879.13 386.89L879.25 387.00L879.38 387.11L879.50 387.22L879.62 387.33L879.75 387.43L879.87 387.54L880.00 387.65L880.12 387.75L880.24 387.86L880.37 387.96L880.49 388.07L880.62 388.17L880.74 388.28L880.87 388.38L880.99 388.48L881.11 388.59L881.24 388.69L881.36 388.79L881.49 388.89L881.61 388.99L881.73 389.09L881.86 389.19L881.98 389.29L882.11 389.39L882.23 389.48L882.36 389.58L882.48 389.68L882.60 389.78L882.73 389.87L882.85 389.97L882.98 390.06L883.10 390.16L883.22 390.25L883.35 390.35L883.47 390.44L883.60 390.53L883.72 390.63L883.85 390.72L883.97 390.81L884.09 390.90L884.22 390.99L884.34 391.08L884.47 391.17L884.59 391.26L884.71 391.35L884.84 391.44L884.96 391.53L885.09 391.62L885.21 391.70L885.33 391.79L885.46 391.88L885.58 391.96L885.71 392.05L885.83 392.13L885.96 392.22L886.08 392.30L886.20 392.39L886.33 392.47L886.45 392.56L886.58 392.64L886.70 392.72L886.82 392.80L886.95 392.89L887.07 392.97L887.20 393.05L887.32 393.13L887.45 393.21L887.57 393.29L887.69 393.37L887.82 393.45L887.94 393.53L888.07 393.61L888.19 393.68L888.31 393.76L888.44 393.84L888.56 393.92L888.69 393.99L888.81 394.07L888.93 394.14L889.06 394.22L889.18 394.30L889.31 394.37L889.43 394.44L889.56 394.52L889.68 394.59L889.80 394.67L889.93 394.74L890.05 394.81L890.18 394.88L890.30 394.96L890.42 395.03L890.55 395.10L890.67 395.17L890.80 395.24L890.92 395.31L891.05 395.38L891.17 395.45L891.29 395.52L891.42 395.59L891.54 395.66L891.67 395.73L891.79 395.80L891.91 395.86L892.04 395.93L892.16 396.00L892.29 396.07L892.41 396.13L892.53 396.20L892.66 396.26L892.78 396.33L892.91 396.40L893.03 396.46L893.16 396.53L893.28 396.59L893.40 396.65L893.53 396.72L893.65 396.78L893.78 396.84L893.90 396.91L894.02 396.97L894.15 397.03L894.27 397.09L894.40 397.16L894.52 397.22L894.65 397.28L894.77 397.34L894.89 397.40L895.02 397.46L895.14 397.52L895.27 397.58L895.39 397.64L895.51 397.70L895.64 397.76L895.76 397.82L895.89 397.88L896.01 397.93L896.14 397.99L896.26 398.05L896.38 398.11L896.51 398.16L896.63 398.22L896.76 398.28L896.88 398.33L897.00 398.39L897.13 398.45L897.25 398.50L897.38 398.56L897.50 398.61L897.62 398.67L897.75 398.72L897.87 398.77L898.00 398.83L898.12 398.88L898.25 398.94L898.37 398.99L898.49 399.04L898.62 399.10L898.74 399.15L898.87 399.20L898.99 399.25L899.11 399.30L899.24 399.36L899.36 399.41L899.49 399.46L899.61 399.51L899.74 399.56L899.86 399.61L899.98 399.66L900.11 399.71L900.23 399.76L900.36 399.81L900.48 399.86L900.60 399.91L900.73 399.96L900.85 400.01L900.98 400.05L901.10 400.10L901.22 400.15L901.35 400.20L901.47 400.24L901.60 400.29L901.72 400.34L901.85 400.39L901.97 400.43L902.09 400.48L902.22 400.53L902.34 400.57L902.47 400.62L902.59 400.66L902.71 400.71L902.84 400.75L902.96 400.80L903.09 400.84L903.21 400.89L903.34 400.93L903.46 400.98L903.58 401.02L903.71 401.06L903.83 401.11L903.96 401.15L904.08 401.19L904.20 401.24L904.33 401.28L904.45 401.32L904.58 401.37L904.70 401.41L904.82 401.45L904.95 401.49L905.07 401.53L905.20 401.57L905.32 401.62L905.45 401.66L905.57 401.70L905.69 401.74L905.82 401.78L905.94 401.82L906.07 401.86L906.19 401.90L906.31 401.94L906.44 401.98L906.56 402.02L906.69 402.06L906.81 402.10L906.94 402.14L907.06 402.17L907.18 402.21L907.31 402.25L907.43 402.29L907.56 402.33L907.68 402.37L907.80 402.40L907.93 402.44L908.05 402.48L908.18 402.52L908.30 402.55L908.43 402.59L908.55 402.63L908.67 402.66L908.80 402.70L908.92 402.74L909.05 402.77L909.17 402.81L909.29 402.84L909.42 402.88L909.54 402.91L909.67 402.95L909.79 402.98L909.91 403.02L910.04 403.05L910.16 403.09L910.29 403.12L910.41 403.16L910.54 403.19L910.66 403.23L910.78 403.26L910.91 403.29L911.03 403.33L911.16 403.36L911.28 403.39L911.40 403.43L911.53 403.46L911.65 403.49L911.78 403.53L911.90 403.56L912.03 403.59L912.15 403.62L912.27 403.66L912.40 403.69L912.52 403.72L912.65 403.75L912.77 403.78L912.89 403.82L913.02 403.85L913.14 403.88L913.27 403.91L913.39 403.94L913.51 403.97L913.64 404.00L913.76 404.03L913.89 404.06L914.01 404.09L914.14 404.12L914.26 404.15L914.38 404.18L914.51 404.21L914.63 404.24L914.76 404.27L914.88 404.30L915.00 404.33L915.13 404.36L915.25 404.39L915.38 404.42L915.50 404.45L915.63 404.47L915.75 404.50L915.87 404.53L916.00 404.56L916.12 404.59L916.25 404.62L916.37 404.64L916.49 404.67L916.62 404.70L916.74 404.73L916.87 404.75L916.99 404.78L917.11 404.81L917.24 404.84L917.36 404.86L917.49 404.89L917.61 404.92L917.74 404.94L917.86 404.97L917.98 405.00L918.11 405.02L918.23 405.05L918.36 405.07L918.48 405.10L918.60 405.13L918.73 405.15L918.85 405.18L918.98 405.20L919.10 405.23L919.23 405.25L919.35 405.28L919.47 405.30L919.60 405.33L919.72 405.35L919.85 405.38L919.97 405.40L920.09 405.43L920.22 405.45L920.34 405.48L920.47 405.50L920.59 405.52L920.72 405.55L920.84 405.57L920.96 405.60L921.09 405.62L921.21 405.64L921.34 405.67L921.46 405.69L921.58 405.71L921.71 405.74L921.83 405.76L921.96 405.78L922.08 405.81L922.20 405.83L922.33 405.85L922.45 405.87L922.58 405.90L922.70 405.92L922.83 405.94L922.95 405.96L923.07 405.99L923.20 406.01L923.32 406.03L923.45 406.05L923.57 406.07L923.69 406.09L923.82 406.12L923.94 406.14L924.07 406.16L924.19 406.18L924.32 406.20L924.44 406.22L924.56 406.24L924.69 406.26L924.81 406.29L924.94 406.31L925.06 406.33L925.18 406.35L925.31 406.37L925.43 406.39L925.56 406.41L925.68 406.43L925.80 406.45L925.93 406.47L926.05 406.49L926.18 406.51L926.30 406.53L926.43 406.55L926.55 406.57L926.67 406.59L926.80 406.61L926.92 406.63L927.05 406.65L927.17 406.67L927.29 406.69L927.42 406.71L927.54 406.72L927.67 406.74L927.79 406.76L927.92 406.78L928.04 406.80L928.16 406.82L928.29 406.84L928.41 406.86L928.54 406.87L928.66 406.89L928.78 406.91L928.91 406.93L929.03 406.95L929.16 406.97L929.28 406.98L929.40 407.00L929.53 407.02L929.65 407.04L929.78 407.06L929.90 407.07L930.03 407.09L930.15 407.11L930.27 407.13L930.40 407.14L930.52 407.16L930.65 407.18L930.77 407.19L930.89 407.21L931.02 407.23L931.14 407.25L931.27 407.26L931.39 407.28L931.52 407.30L931.64 407.31L931.76 407.33L931.89 407.35L932.01 407.36L932.14 407.38L932.26 407.40L932.38 407.41L932.51 407.43L932.63 407.44L932.76 407.46L932.88 407.48L933.01 407.49L933.13 407.51L933.25 407.52L933.38 407.54L933.50 407.56L933.63 407.57L933.75 407.59L933.87 407.60L934.00 407.62L934.12 407.63L934.25 407.65L934.37 407.66L934.49 407.68L934.62 407.69L934.74 407.71L934.87 407.72L934.99 407.74L935.12 407.75L935.24 407.77L935.36 407.78L935.49 407.80L935.61 407.81L935.74 407.83L935.86 407.84L935.98 407.86L936.11 407.87L936.23 407.89L936.36 407.90L936.48 407.91L936.61 407.93L936.73 407.94L936.85 407.96L936.98 407.97L937.10 407.98L937.23 408.00L937.35 408.01L937.47 408.03L937.60 408.04L937.72 408.05L937.85 408.07L937.97 408.08L938.09 408.09L938.22 408.11L938.34 408.12L938.47 408.14L938.59 408.15L938.72 408.16L938.84 408.18L938.96 408.19L939.09 408.20L939.21 408.21L939.34 408.23L939.46 408.24L939.58 408.25L939.71 408.27L939.83 408.28L939.96 408.29L940.08 408.31L940.21 408.32L940.33 408.33L940.45 408.34L940.58 408.36L940.70 408.37L940.83 408.38L940.95 408.39L941.07 408.41L941.20 408.42L941.32 408.43L941.45 408.44L941.57 408.45L941.69 408.47L941.82 408.48L941.94 408.49L942.07 408.50L942.19 408.51L942.32 408.53L942.44 408.54L942.56 408.55L942.69 408.56L942.81 408.57L942.94 408.59L943.06 408.60L943.18 408.61L943.31 408.62L943.43 408.63L943.56 408.64L943.68 408.65L943.81 408.67L943.93 408.68L944.05 408.69L944.18 408.70L944.30 408.71L944.43 408.72L944.55 408.73L944.67 408.74L944.80 408.76L944.92 408.77L945.05 408.78L945.17 408.79L945.30 408.80L945.42 408.81L945.54 408.82L945.67 408.83L945.79 408.84L945.92 408.85L946.04 408.86L946.16 408.87L946.29 408.88L946.41 408.89L946.54 408.91L946.66 408.92L946.78 408.93L946.91 408.94L947.03 408.95L947.16 408.96L947.28 408.97L947.41 408.98L947.53 408.99L947.65 409.00L947.78 409.01L947.90 409.02L948.03 409.03L948.15 409.04L948.27 409.05L948.40 409.06L948.52 409.07L948.65 409.08L948.77 409.09L948.90 409.10L949.02 409.11L949.14 409.12L949.27 409.13L949.39 409.14L949.52 409.14L949.64 409.15L949.76 409.16L949.89 409.17L950.01 409.18L950.14 409.19L950.26 409.20L950.38 409.21L950.51 409.22L950.63 409.23L950.76 409.24L950.88 409.25L951.01 409.26L951.13 409.27L951.25 409.28L951.38 409.28L951.50 409.29L951.63 409.30L951.75 409.31L951.87 409.32L952.00 409.33L952.12 409.34L952.25 409.35L952.37 409.36L952.50 409.36L952.62 409.37L952.74 409.38L952.87 409.39L952.99 409.40L953.12 409.41L953.24 409.42L953.36 409.42L953.49 409.43L953.61 409.44L953.74 409.45L953.86 409.46L953.98 409.47L954.11 409.47L954.23 409.48L954.36 409.49L954.48 409.50L954.61 409.51L954.73 409.52L954.85 409.52L954.98 409.53L955.10 409.54L955.23 409.55L955.35 409.56L955.47 409.56L955.60 409.57L955.72 409.58L955.85 409.59L955.97 409.60L956.10 409.60L956.22 409.61L956.34 409.62L956.47 409.63L956.59 409.64L956.72 409.64L956.84 409.65L956.96 409.66L957.09 409.67L957.21 409.67L957.34 409.68L957.46 409.69L957.59 409.70L957.71 409.70L957.83 409.71L957.96 409.72L958.08 409.73L958.21 409.73L958.33 409.74L958.45 409.75L958.58 409.76L958.70 409.76L958.83 409.77L958.95 409.78L959.07 409.79L959.20 409.79L959.32 409.80L959.45 409.81L959.57 409.81L959.70 409.82L959.82 409.83L959.94 409.84L960.07 409.84L960.19 409.85L960.32 409.86L960.44 409.86L960.56 409.87L960.69 409.88L960.81 409.88L960.94 409.89L961.06 409.90L961.19 409.90L961.31 409.91L961.43 409.92L961.56 409.92L961.68 409.93L961.81 409.94L961.93 409.94L962.05 409.95L962.18 409.96L962.30 409.96L962.43 409.97L962.55 409.98L962.67 409.98L962.80 409.99L962.92 410.00L963.05 410.00L963.17 410.01L963.30 410.02L963.42 410.02L963.54 410.03L963.67 410.04L963.79 410.04L963.92 410.05L964.04 410.05L964.16 410.06L964.29 410.07L964.41 410.07L964.54 410.08L964.66 410.09L964.79 410.09L964.91 410.10L965.03 410.10L965.16 410.11L965.28 410.12L965.41 410.12L965.53 410.13L965.65 410.13L965.78 410.14L965.90 410.15L966.03 410.15L966.15 410.16L966.27 410.16L966.40 410.17L966.52 410.18L966.65 410.18L966.77 410.19L966.90 410.19L967.02 410.20L967.14 410.20L967.27 410.21L967.39 410.22L967.52 410.22L967.64 410.23L967.76 410.23L967.89 410.24L968.01 410.24L968.14 410.25L968.26 410.26L968.39 410.26L968.51 410.27L968.63 410.27L968.76 410.28L968.88 410.28L969.01 410.29L969.13 410.29L969.25 410.30L969.38 410.31L969.50 410.31L969.63 410.32L969.75 410.32L969.88 410.33L970.00 410.33L970.12 410.34L970.25 410.34L970.37 410.35L970.50 410.35L970.62 410.36L970.74 410.36L970.87 410.37L970.99 410.37L971.12 410.38L971.24 410.38L971.36 410.39L971.49 410.39L971.61 410.40L971.74 410.40L971.86 410.41L971.99 410.41L972.11 410.42L972.23 410.43L972.36 410.43L972.48 410.44L972.61 410.44L972.73 410.44L972.85 410.45L972.98 410.45L973.10 410.46L973.23 410.46L973.35 410.47L973.48 410.47L973.60 410.48L973.72 410.48L973.85 410.49L973.97 410.49L974.10 410.50L974.22 410.50L974.34 410.51L974.47 410.51L974.59 410.52L974.72 410.52L974.84 410.53L974.96 410.53L975.09 410.54L975.21 410.54L975.34 410.55L975.46 410.55L975.59 410.55L975.71 410.56L975.83 410.56L975.96 410.57L976.08 410.57L976.21 410.58L976.33 410.58L976.45 410.59L976.58 410.59L976.70 410.60L976.83 410.60L976.95 410.60L977.08 410.61L977.20 410.61L977.32 410.62L977.45 410.62L977.57 410.63L977.70 410.63L977.82 410.63L977.94 410.64L978.07 410.64L978.19 410.65L978.32 410.65L978.44 410.66L978.56 410.66L978.69 410.66L978.81 410.67L978.94 410.67L979.06 410.68L979.19 410.68L979.31 410.69L979.43 410.69L979.56 410.69L979.68 410.70L979.81 410.70L979.93 410.71L980.05 410.71L980.18 410.71L980.30 410.72L980.43 410.72L980.55 410.73L980.68 410.73L980.80 410.73L980.92 410.74L981.05 410.74L981.17 410.75L981.30 410.75L981.42 410.75L981.54 410.76L981.67 410.76L981.79 410.77L981.92 410.77L982.04 410.77L982.17 410.78L982.29 410.78L982.41 410.79L982.54 410.79L982.66 410.79L982.79 410.80L982.91 410.80L983.03 410.80L983.16 410.81L983.28 410.81L983.41 410.82L983.53 410.82L983.65 410.82L983.78 410.83L983.90 410.83L984.03 410.83L984.15 410.84L984.28 410.84L984.40 410.84L984.52 410.85L984.65 410.85L984.77 410.86L984.90 410.86L985.02 410.86L985.14 410.87L985.27 410.87L985.39 410.87L985.52 410.88L985.64 410.88L985.77 410.88L985.89 410.89L986.01 410.89L986.14 410.89L986.26 410.90L986.39 410.90L986.51 410.91L986.63 410.91L986.76 410.91L986.88 410.92L987.01 410.92L987.13 410.92L987.25 410.93L987.38 410.93L987.50 410.93L987.63 410.94L987.75 410.94L987.88 410.94L988.00 410.95L988.12 410.95L988.25 410.95L988.37 410.96L988.50 410.96L988.62 410.96L988.74 410.97L988.87 410.97L988.99 410.97L989.12 410.98L989.24 410.98L989.37 410.98L989.49 410.98L989.61 410.99L989.74 410.99L989.86 410.99L989.99 411.00L990.11 411.00L990.23 411.00L990.36 411.01L990.48 411.01L990.61 411.01L990.73 411.02L990.85 411.02L990.98 411.02L991.10 411.03L991.23 411.03L991.35 411.03L991.48 411.03L991.60 411.04L991.72 411.04L991.85 411.04L991.97 411.05L992.10 411.05L992.22 411.05L992.34 411.06L992.47 411.06L992.59 411.06L992.72 411.07L992.84 411.07L992.97 411.07L993.09 411.07L993.21 411.08L993.34 411.08L993.46 411.08L993.59 411.09L993.71 411.09L993.83 411.09L993.96 411.09L994.08 411.10L994.21 411.10L994.33 411.10L994.46 411.11L994.58 411.11L994.70 411.11L994.83 411.11L994.95 411.12L995.08 411.12L995.20 411.12L995.32 411.13L995.45 411.13L995.57 411.13L995.70 411.13L995.82 411.14L995.94 411.14L996.07 411.14L996.19 411.14L996.32 411.15L996.44 411.15L996.57 411.15L996.69 411.16L996.81 411.16L996.94 411.16L997.06 411.16L997.19 411.17L997.31 411.17L997.43 411.17L997.56 411.17L997.68 411.18L997.81 411.18L997.93 411.18L998.06 411.18L998.18 411.19L998.30 411.19L998.43 411.19L998.55 411.19L998.68 411.20L998.80 411.20" fill="none" stroke="#000" stroke-width="3" stroke-dasharray="5 2.3"/><path d="M323.29 970.18L323.34 970.18L323.40 970.17L323.45 970.17L323.50 970.17L323.56 970.16L323.61 970.16L323.67 970.15L323.72 970.15L323.78 970.15L323.83 970.14L323.89 970.14L323.94 970.13L324.00 970.13L324.05 970.13L324.10 970.12L324.16 970.12L324.21 970.11L324.27 970.11L324.32 970.11L324.38 970.10L324.43 970.10L324.49 970.09L324.54 970.09L324.60 970.08L324.65 970.08L324.71 970.08L324.76 970.07L324.81 970.07L324.87 970.06L324.92 970.06L324.98 970.06L325.03 970.05L325.09 970.05L325.14 970.04L325.20 970.04L325.25 970.03L325.31 970.03L325.36 970.03L325.41 970.02L325.47 970.02L325.52 970.01L325.58 970.01L325.63 970.00L325.69 970.00L325.74 970.00L325.80 969.99L325.85 969.99L325.91 969.98L325.96 969.98L326.02 969.97L326.07 969.97L326.12 969.96L326.18 969.96L326.23 969.96L326.29 969.95L326.34 969.95L326.40 969.94L326.45 969.94L326.51 969.93L326.56 969.93L326.62 969.92L326.67 969.92L326.73 969.91L326.78 969.91L326.83 969.91L326.89 969.90L326.94 969.90L327.00 969.89L327.05 969.89L327.11 969.88L327.16 969.88L327.22 969.87L327.27 969.87L327.33 969.86L327.38 969.86L327.43 969.85L327.49 969.85L327.54 969.85L327.60 969.84L327.65 969.84L327.71 969.83L327.76 969.83L327.82 969.82L327.87 969.82L327.93 969.81L327.98 969.81L328.04 969.80L328.09 969.80L328.14 969.79L328.20 969.79L328.25 969.78L328.31 969.78L328.36 969.77L328.42 969.77L328.47 969.76L328.53 969.76L328.58 969.75L328.64 969.75L328.69 969.74L328.74 969.74L328.80 969.73L328.85 969.73L328.91 969.72L328.96 969.72L329.02 969.71L329.07 969.71L329.13 969.70L329.18 969.70L329.24 969.69L329.29 969.69L329.35 969.68L329.40 969.68L329.45 969.67L329.51 969.67L329.56 969.66L329.62 969.66L329.67 969.65L329.73 969.65L329.78 969.64L329.84 969.64L329.89 969.63L329.95 969.63L330.00 969.62L330.06 969.62L330.11 969.61L330.16 969.61L330.22 969.60L330.27 969.59L330.33 969.59L330.38 969.58L330.44 969.58L330.49 969.57L330.55 969.57L330.60 969.56L330.66 969.56L330.71 969.55L330.76 969.55L330.82 969.54L330.87 969.54L330.93 969.53L330.98 969.52L331.04 969.52L331.09 969.51L331.15 969.51L331.20 969.50L331.26 969.50L331.31 969.49L331.37 969.49L331.42 969.48L331.47 969.47L331.53 969.47L331.58 969.46L331.64 969.46L331.69 969.45L331.75 969.45L331.80 969.44L331.86 969.43L331.91 969.43L331.97 969.42L332.02 969.42L332.07 969.41L332.13 969.41L332.18 969.40L332.24 969.39L332.29 969.39L332.35 969.38L332.40 969.38L332.46 969.37L332.51 969.37L332.57 969.36L332.62 969.35L332.68 969.35L332.73 969.34L332.78 969.34L332.84 969.33L332.89 969.32L332.95 969.32L333.00 969.31L333.06 969.31L333.11 969.30L333.17 969.29L333.22 969.29L333.28 969.28L333.33 969.28L333.39 969.27L333.44 969.26L333.49 969.26L333.55 969.25L333.60 969.25L333.66 969.24L333.71 969.23L333.77 969.23L333.82 969.22L333.88 969.21L333.93 969.21L333.99 969.20L334.04 969.20L334.09 969.19L334.15 969.18L334.20 969.18L334.26 969.17L334.31 969.16L334.37 969.16L334.42 969.15L334.48 969.14L334.53 969.14L334.59 969.13L334.64 969.13L334.70 969.12L334.75 969.11L334.80 969.11L334.86 969.10L334.91 969.09L334.97 969.09L335.02 969.08L335.08 969.07L335.13 969.07L335.19 969.06L335.24 969.05L335.30 969.05L335.35 969.04L335.40 969.03L335.46 969.03L335.51 969.02L335.57 969.01L335.62 969.01L335.68 969.00L335.73 968.99L335.79 968.99L335.84 968.98L335.90 968.97L335.95 968.97L336.01 968.96L336.06 968.95L336.11 968.94L336.17 968.94L336.22 968.93L336.28 968.92L336.33 968.92L336.39 968.91L336.44 968.90L336.50 968.90L336.55 968.89L336.61 968.88L336.66 968.87L336.72 968.87L336.77 968.86L336.82 968.85L336.88 968.85L336.93 968.84L336.99 968.83L337.04 968.82L337.10 968.82L337.15 968.81L337.21 968.80L337.26 968.80L337.32 968.79L337.37 968.78L337.42 968.77L337.48 968.77L337.53 968.76L337.59 968.75L337.64 968.74L337.70 968.74L337.75 968.73L337.81 968.72L337.86 968.71L337.92 968.71L337.97 968.70L338.03 968.69L338.08 968.68L338.13 968.68L338.19 968.67L338.24 968.66L338.30 968.65L338.35 968.65L338.41 968.64L338.46 968.63L338.52 968.62L338.57 968.62L338.63 968.61L338.68 968.60L338.73 968.59L338.79 968.58L338.84 968.58L338.90 968.57L338.95 968.56L339.01 968.55L339.06 968.54L339.12 968.54L339.17 968.53L339.23 968.52L339.28 968.51L339.34 968.50L339.39 968.50L339.44 968.49L339.50 968.48L339.55 968.47L339.61 968.46L339.66 968.46L339.72 968.45L339.77 968.44L339.83 968.43L339.88 968.42L339.94 968.41L339.99 968.41L340.04 968.40L340.10 968.39L340.15 968.38L340.21 968.37L340.26 968.36L340.32 968.36L340.37 968.35L340.43 968.34L340.48 968.33L340.54 968.32L340.59 968.31L340.65 968.31L340.70 968.30L340.75 968.29L340.81 968.28L340.86 968.27L340.92 968.26L340.97 968.25L341.03 968.25L341.08 968.24L341.14 968.23L341.19 968.22L341.25 968.21L341.30 968.20L341.36 968.19L341.41 968.18L341.46 968.17L341.52 968.17L341.57 968.16L341.63 968.15L341.68 968.14L341.74 968.13L341.79 968.12L341.85 968.11L341.90 968.10L341.96 968.09L342.01 968.08L342.06 968.08L342.12 968.07L342.17 968.06L342.23 968.05L342.28 968.04L342.34 968.03L342.39 968.02L342.45 968.01L342.50 968.00L342.56 967.99L342.61 967.98L342.67 967.97L342.72 967.96L342.77 967.95L342.83 967.94L342.88 967.94L342.94 967.93L342.99 967.92L343.05 967.91L343.10 967.90L343.16 967.89L343.21 967.88L343.27 967.87L343.32 967.86L343.37 967.85L343.43 967.84L343.48 967.83L343.54 967.82L343.59 967.81L343.65 967.80L343.70 967.79L343.76 967.78L343.81 967.77L343.87 967.76L343.92 967.75L343.98 967.74L344.03 967.73L344.08 967.72L344.14 967.71L344.19 967.70L344.25 967.69L344.30 967.68L344.36 967.67L344.41 967.66L344.47 967.65L344.52 967.64L344.58 967.63L344.63 967.62L344.69 967.61L344.74 967.60L344.79 967.59L344.85 967.58L344.90 967.57L344.96 967.55L345.01 967.54L345.07 967.53L345.12 967.52L345.18 967.51L345.23 967.50L345.29 967.49L345.34 967.48L345.39 967.47L345.45 967.46L345.50 967.45L345.56 967.44L345.61 967.43L345.67 967.42L345.72 967.40L345.78 967.39L345.83 967.38L345.89 967.37L345.94 967.36L346.00 967.35L346.05 967.34L346.10 967.33L346.16 967.32L346.21 967.30L346.27 967.29L346.32 967.28L346.38 967.27L346.43 967.26L346.49 967.25L346.54 967.24L346.60 967.23L346.65 967.21L346.70 967.20L346.76 967.19L346.81 967.18L346.87 967.17L346.92 967.16L346.98 967.14L347.03 967.13L347.09 967.12L347.14 967.11L347.20 967.10L347.25 967.09L347.31 967.07L347.36 967.06L347.41 967.05L347.47 967.04L347.52 967.03L347.58 967.01L347.63 967.00L347.69 966.99L347.74 966.98L347.80 966.97L347.85 966.95L347.91 966.94L347.96 966.93L348.02 966.92L348.07 966.90L348.12 966.89L348.18 966.88L348.23 966.87L348.29 966.85L348.34 966.84L348.40 966.83L348.45 966.82L348.51 966.80L348.56 966.79L348.62 966.78L348.67 966.77L348.72 966.75L348.78 966.74L348.83 966.73L348.89 966.72L348.94 966.70L349.00 966.69L349.05 966.68L349.11 966.66L349.16 966.65L349.22 966.64L349.27 966.63L349.33 966.61L349.38 966.60L349.43 966.59L349.49 966.57L349.54 966.56L349.60 966.55L349.65 966.53L349.71 966.52L349.76 966.51L349.82 966.49L349.87 966.48L349.93 966.47L349.98 966.45L350.03 966.44L350.09 966.42L350.14 966.41L350.20 966.40L350.25 966.38L350.31 966.37L350.36 966.36L350.42 966.34L350.47 966.33L350.53 966.31L350.58 966.30L350.64 966.29L350.69 966.27L350.74 966.26L350.80 966.24L350.85 966.23L350.91 966.22L350.96 966.20L351.02 966.19L351.07 966.17L351.13 966.16L351.18 966.14L351.24 966.13L351.29 966.11L351.35 966.10L351.40 966.09L351.45 966.07L351.51 966.06L351.56 966.04L351.62 966.03L351.67 966.01L351.73 966.00L351.78 965.98L351.84 965.97L351.89 965.95L351.95 965.94L352.00 965.92L352.05 965.91L352.11 965.89L352.16 965.88L352.22 965.86L352.27 965.85L352.33 965.83L352.38 965.82L352.44 965.80L352.49 965.78L352.55 965.77L352.60 965.75L352.66 965.74L352.71 965.72L352.76 965.71L352.82 965.69L352.87 965.68L352.93 965.66L352.98 965.64L353.04 965.63L353.09 965.61L353.15 965.60L353.20 965.58L353.26 965.56L353.31 965.55L353.36 965.53L353.42 965.51L353.47 965.50L353.53 965.48L353.58 965.47L353.64 965.45L353.69 965.43L353.75 965.42L353.80 965.40L353.86 965.38L353.91 965.37L353.97 965.35L354.02 965.33L354.07 965.32L354.13 965.30L354.18 965.28L354.24 965.27L354.29 965.25L354.35 965.23L354.40 965.21L354.46 965.20L354.51 965.18L354.57 965.16L354.62 965.15L354.67 965.13L354.73 965.11L354.78 965.09L354.84 965.08L354.89 965.06L354.95 965.04L355.00 965.02L355.06 965.01L355.11 964.99L355.17 964.97L355.22 964.95L355.28 964.93L355.33 964.92L355.38 964.90L355.44 964.88L355.49 964.86L355.55 964.84L355.60 964.83L355.66 964.81L355.71 964.79L355.77 964.77L355.82 964.75L355.88 964.73L355.93 964.72L355.99 964.70L356.04 964.68L356.09 964.66L356.15 964.64L356.20 964.62L356.26 964.60L356.31 964.58L356.37 964.56L356.42 964.55L356.48 964.53L356.53 964.51L356.59 964.49L356.64 964.47L356.69 964.45L356.75 964.43L356.80 964.41L356.86 964.39L356.91 964.37L356.97 964.35L357.02 964.33L357.08 964.31L357.13 964.29L357.19 964.27L357.24 964.25L357.30 964.23L357.35 964.21L357.40 964.19L357.46 964.17L357.51 964.15L357.57 964.13L357.62 964.11L357.68 964.09L357.73 964.07L357.79 964.05L357.84 964.03L357.90 964.01L357.95 963.99L358.00 963.97L358.06 963.95L358.11 963.93L358.17 963.90L358.22 963.88L358.28 963.86L358.33 963.84L358.39 963.82L358.44 963.80L358.50 963.78L358.55 963.76L358.61 963.73L358.66 963.71L358.71 963.69L358.77 963.67L358.82 963.65L358.88 963.63L358.93 963.60L358.99 963.58L359.04 963.56L359.10 963.54L359.15 963.52L359.21 963.49L359.26 963.47L359.32 963.45L359.37 963.43L359.42 963.40L359.48 963.38L359.53 963.36L359.59 963.34L359.64 963.31L359.70 963.29L359.75 963.27L359.81 963.25L359.86 963.22L359.92 963.20L359.97 963.18L360.02 963.15L360.08 963.13L360.13 963.11L360.19 963.08L360.24 963.06L360.30 963.04L360.35 963.01L360.41 962.99L360.46 962.96L360.52 962.94L360.57 962.92L360.63 962.89L360.68 962.87L360.73 962.84L360.79 962.82L360.84 962.80L360.90 962.77L360.95 962.75L361.01 962.72L361.06 962.70L361.12 962.67L361.17 962.65L361.23 962.62L361.28 962.60L361.33 962.57L361.39 962.55L361.44 962.52L361.50 962.50L361.55 962.47L361.61 962.45L361.66 962.42L361.72 962.40L361.77 962.37L361.83 962.34L361.88 962.32L361.94 962.29L361.99 962.27L362.04 962.24L362.10 962.22L362.15 962.19L362.21 962.16L362.26 962.14L362.32 962.11L362.37 962.08L362.43 962.06L362.48 962.03L362.54 962.00L362.59 961.98L362.65 961.95L362.70 961.92L362.75 961.90L362.81 961.87L362.86 961.84L362.92 961.81L362.97 961.79L363.03 961.76L363.08 961.73L363.14 961.70L363.19 961.68L363.25 961.65L363.30 961.62L363.35 961.59L363.41 961.56L363.46 961.53L363.52 961.51L363.57 961.48L363.63 961.45L363.68 961.42L363.74 961.39L363.79 961.36L363.85 961.33L363.90 961.31L363.96 961.28L364.01 961.25L364.06 961.22L364.12 961.19L364.17 961.16L364.23 961.13L364.28 961.10L364.34 961.07L364.39 961.04L364.45 961.01L364.50 960.98L364.56 960.95L364.61 960.92L364.66 960.89L364.72 960.86L364.77 960.83L364.83 960.80L364.88 960.77L364.94 960.74L364.99 960.71L365.05 960.68L365.10 960.65L365.16 960.61L365.21 960.58L365.27 960.55L365.32 960.52L365.37 960.49L365.43 960.46L365.48 960.43L365.54 960.39L365.59 960.36L365.65 960.33L365.70 960.30L365.76 960.26L365.81 960.23L365.87 960.20L365.92 960.17L365.98 960.13L366.03 960.10L366.08 960.07L366.14 960.04L366.19 960.00L366.25 959.97L366.30 959.94L366.36 959.90L366.41 959.87L366.47 959.84L366.52 959.80L366.58 959.77L366.63 959.73L366.68 959.70L366.74 959.67L366.79 959.63L366.85 959.60L366.90 959.56L366.96 959.53L367.01 959.49L367.07 959.46L367.12 959.42L367.18 959.39L367.23 959.35L367.29 959.32L367.34 959.28L367.39 959.25L367.45 959.21L367.50 959.18L367.56 959.14L367.61 959.10L367.67 959.07L367.72 959.03L367.78 959.00L367.83 958.96L367.89 958.92L367.94 958.89L367.99 958.85L368.05 958.81L368.10 958.78L368.16 958.74L368.21 958.70L368.27 958.66L368.32 958.63L368.38 958.59L368.43 958.55L368.49 958.51L368.54 958.47L368.60 958.44L368.65 958.40L368.70 958.36L368.76 958.32L368.81 958.28L368.87 958.24L368.92 958.20L368.98 958.17L369.03 958.13L369.09 958.09L369.14 958.05L369.20 958.01L369.25 957.97L369.30 957.93L369.36 957.89L369.41 957.85L369.47 957.81L369.52 957.77L369.58 957.73L369.63 957.69L369.69 957.65L369.74 957.61L369.80 957.56L369.85 957.52L369.91 957.48L369.96 957.44L370.01 957.40L370.07 957.36L370.12 957.32L370.18 957.27L370.23 957.23L370.29 957.19L370.34 957.15L370.40 957.10L370.45 957.06L370.51 957.02L370.56 956.98L370.62 956.93L370.67 956.89L370.72 956.85L370.78 956.80L370.83 956.76L370.89 956.72L370.94 956.67L371.00 956.63L371.05 956.58L371.11 956.54L371.16 956.49L371.22 956.45L371.27 956.40L371.32 956.36L371.38 956.31L371.43 956.27L371.49 956.22L371.54 956.18L371.60 956.13L371.65 956.09L371.71 956.04L371.76 955.99L371.82 955.95L371.87 955.90L371.93 955.85L371.98 955.81L372.03 955.76L372.09 955.71L372.14 955.67L372.20 955.62L372.25 955.57L372.31 955.52L372.36 955.48L372.42 955.43L372.47 955.38L372.53 955.33L372.58 955.28L372.63 955.23L372.69 955.18L372.74 955.14L372.80 955.09L372.85 955.04L372.91 954.99L372.96 954.94L373.02 954.89L373.07 954.84L373.13 954.79L373.18 954.74L373.24 954.69L373.29 954.64L373.34 954.58L373.40 954.53L373.45 954.48L373.51 954.43L373.56 954.38L373.62 954.33L373.67 954.27L373.73 954.22L373.78 954.17L373.84 954.12L373.89 954.07L373.95 954.01L374.00 953.96L374.05 953.91L374.11 953.85L374.16 953.80L374.22 953.75L374.27 953.69L374.33 953.64L374.38 953.58L374.44 953.53L374.49 953.47L374.55 953.42L374.60 953.36L374.65 953.31L374.71 953.25L374.76 953.20L374.82 953.14L374.87 953.08L374.93 953.03L374.98 952.97L375.04 952.92L375.09 952.86L375.15 952.80L375.20 952.74L375.26 952.69L375.31 952.63L375.36 952.57L375.42 952.51L375.47 952.46L375.53 952.40L375.58 952.34L375.64 952.28L375.69 952.22L375.75 952.16L375.80 952.10L375.86 952.04L375.91 951.98L375.96 951.92L376.02 951.86L376.07 951.80L376.13 951.74L376.18 951.68L376.24 951.62L376.29 951.56L376.35 951.50L376.40 951.43L376.46 951.37L376.51 951.31L376.57 951.25L376.62 951.19L376.67 951.12L376.73 951.06L376.78 951.00L376.84 950.93L376.89 950.87L376.95 950.81L377.00 950.74L377.06 950.68L377.11 950.61L377.17 950.55L377.22 950.48L377.28 950.42L377.33 950.35L377.38 950.29L377.44 950.22L377.49 950.15L377.55 950.09L377.60 950.02L377.66 949.95L377.71 949.89L377.77 949.82L377.82 949.75L377.88 949.68L377.93 949.62L377.98 949.55L378.04 949.48L378.09 949.41L378.15 949.34L378.20 949.27L378.26 949.20L378.31 949.13L378.37 949.06L378.42 948.99L378.48 948.92L378.53 948.85L378.59 948.78L378.64 948.71L378.69 948.64L378.75 948.57L378.80 948.50L378.86 948.42L378.91 948.35L378.97 948.28L379.02 948.21L379.08 948.13L379.13 948.06L379.19 947.98L379.24 947.91L379.29 947.84L379.35 947.76L379.40 947.69L379.46 947.61L379.51 947.54L379.57 947.46L379.62 947.39L379.68 947.31L379.73 947.23L379.79 947.16L379.84 947.08L379.90 947.00L379.95 946.92L380.00 946.85L380.06 946.77L380.11 946.69L380.17 946.61L380.22 946.53L380.28 946.45L380.33 946.37L380.39 946.29L380.44 946.21L380.50 946.13L380.55 946.05L380.61 945.97L380.66 945.89L380.71 945.81L380.77 945.73L380.82 945.65L380.88 945.56L380.93 945.48L380.99 945.40L381.04 945.32L381.10 945.23L381.15 945.15L381.21 945.06L381.26 944.98L381.31 944.90L381.37 944.81L381.42 944.73L381.48 944.64L381.53 944.55L381.59 944.47L381.64 944.38L381.70 944.29L381.75 944.21L381.81 944.12L381.86 944.03L381.92 943.94L381.97 943.86L382.02 943.77L382.08 943.68L382.13 943.59L382.19 943.50L382.24 943.41L382.30 943.32L382.35 943.23L382.41 943.14L382.46 943.05L382.52 942.95L382.57 942.86L382.62 942.77L382.68 942.68L382.73 942.58L382.79 942.49L382.84 942.40L382.90 942.30L382.95 942.21L383.01 942.11L383.06 942.02L383.12 941.92L383.17 941.83L383.23 941.73L383.28 941.64L383.33 941.54L383.39 941.44L383.44 941.35L383.50 941.25L383.55 941.15L383.61 941.05L383.66 940.95L383.72 940.85L383.77 940.75L383.83 940.65L383.88 940.55L383.93 940.45L383.99 940.35L384.04 940.25L384.10 940.15L384.15 940.05L384.21 939.94L384.26 939.84L384.32 939.74L384.37 939.64L384.43 939.53L384.48 939.43L384.54 939.32L384.59 939.22L384.64 939.11L384.70 939.01L384.75 938.90L384.81 938.79L384.86 938.69L384.92 938.58L384.97 938.47L385.03 938.36L385.08 938.25L385.14 938.15L385.19 938.04L385.25 937.93L385.30 937.82L385.35 937.71L385.41 937.59L385.46 937.48L385.52 937.37L385.57 937.26L385.63 937.15L385.68 937.03L385.74 936.92L385.79 936.81L385.85 936.69L385.90 936.58L385.95 936.46L386.01 936.35L386.06 936.23L386.12 936.12L386.17 936.00L386.23 935.88L386.28 935.76L386.34 935.65L386.39 935.53L386.45 935.41L386.50 935.29L386.56 935.17L386.61 935.05L386.66 934.93L386.72 934.81L386.77 934.69L386.83 934.56L386.88 934.44L386.94 934.32L386.99 934.20L387.05 934.07L387.10 933.95L387.16 933.82L387.21 933.70L387.26 933.57L387.32 933.45L387.37 933.32L387.43 933.19L387.48 933.06L387.54 932.94L387.59 932.81L387.65 932.68L387.70 932.55L387.76 932.42L387.81 932.29L387.87 932.16L387.92 932.03L387.97 931.90L388.03 931.76L388.08 931.63L388.14 931.50L388.19 931.36L388.25 931.23L388.30 931.10L388.36 930.96L388.41 930.83L388.47 930.69L388.52 930.55L388.58 930.42L388.63 930.28L388.68 930.14L388.74 930.00L388.79 929.86L388.85 929.72L388.90 929.58L388.96 929.44L389.01 929.30L389.07 929.16L389.12 929.02L389.18 928.87L389.23 928.73L389.28 928.59L389.34 928.44L389.39 928.30L389.45 928.15L389.50 928.01L389.56 927.86L389.61 927.71L389.67 927.56L389.72 927.42L389.78 927.27L389.83 927.12L389.89 926.97L389.94 926.82L389.99 926.67L390.05 926.52L390.10 926.36L390.16 926.21L390.21 926.06L390.27 925.90L390.32 925.75L390.38 925.60L390.43 925.44L390.49 925.28L390.54 925.13L390.59 924.97L390.65 924.81L390.70 924.65L390.76 924.50L390.81 924.34L390.87 924.18L390.92 924.02L390.98 923.85L391.03 923.69L391.09 923.53L391.14 923.37L391.20 923.20L391.25 923.04L391.30 922.87L391.36 922.71L391.41 922.54L391.47 922.38L391.52 922.21L391.58 922.04L391.63 921.87L391.69 921.70L391.74 921.53L391.80 921.36L391.85 921.19L391.91 921.02L391.96 920.85L392.01 920.67L392.07 920.50L392.12 920.33L392.18 920.15L392.23 919.98L392.29 919.80L392.34 919.62L392.40 919.45L392.45 919.27L392.51 919.09L392.56 918.91L392.61 918.73L392.67 918.55L392.72 918.37L392.78 918.19L392.83 918.00L392.89 917.82L392.94 917.64L393.00 917.45L393.05 917.27L393.11 917.08L393.16 916.89L393.22 916.71L393.27 916.52L393.32 916.33L393.38 916.14L393.43 915.95L393.49 915.76L393.54 915.57L393.60 915.37L393.65 915.18L393.71 914.99L393.76 914.79L393.82 914.60L393.87 914.40L393.92 914.20L393.98 914.01L394.03 913.81L394.09 913.61L394.14 913.41L394.20 913.21L394.25 913.01L394.31 912.81L394.36 912.60L394.42 912.40L394.47 912.20L394.53 911.99L394.58 911.79L394.63 911.58L394.69 911.37L394.74 911.17L394.80 910.96L394.85 910.75L394.91 910.54L394.96 910.33L395.02 910.11L395.07 909.90L395.13 909.69L395.18 909.48L395.24 909.26L395.29 909.04L395.34 908.83L395.40 908.61L395.45 908.39L395.51 908.17L395.56 907.96L395.62 907.74L395.67 907.51L395.73 907.29L395.78 907.07L395.84 906.85L395.89 906.62L395.94 906.40L396.00 906.17L396.05 905.94L396.11 905.72L396.16 905.49L396.22 905.26L396.27 905.03L396.33 904.80L396.38 904.56L396.44 904.33L396.49 904.10L396.55 903.86L396.60 903.63L396.65 903.39L396.71 903.16L396.76 902.92L396.82 902.68L396.87 902.44L396.93 902.20L396.98 901.96L397.04 901.72L397.09 901.47L397.15 901.23L397.20 900.98L397.25 900.74L397.31 900.49L397.36 900.24L397.42 900.00L397.47 899.75L397.53 899.50L397.58 899.25L397.64 898.99L397.69 898.74L397.75 898.49L397.80 898.23L397.86 897.98L397.91 897.72L397.96 897.46L398.02 897.20L398.07 896.95L398.13 896.68L398.18 896.42L398.24 896.16L398.29 895.90L398.35 895.63L398.40 895.37L398.46 895.10L398.51 894.84L398.56 894.57L398.62 894.30L398.67 894.03L398.73 893.76L398.78 893.49L398.84 893.22L398.89 892.94L398.95 892.67L399.00 892.39L399.06 892.12L399.11 891.84L399.17 891.56L399.22 891.28L399.27 891.00L399.33 890.72L399.38 890.44L399.44 890.15L399.49 889.87L399.55 889.58L399.60 889.29L399.66 889.01L399.71 888.72L399.77 888.43L399.82 888.14L399.88 887.85L399.93 887.55L399.98 887.26L400.04 886.97L400.09 886.67L400.15 886.37L400.20 886.08L400.26 885.78L400.31 885.48L400.37 885.18L400.42 884.87L400.48 884.57L400.53 884.27L400.58 883.96L400.64 883.66L400.69 883.35L400.75 883.04L400.80 882.73L400.86 882.42L400.91 882.11L400.97 881.80L401.02 881.48L401.08 881.17L401.13 880.85L401.19 880.53L401.24 880.22L401.29 879.90L401.35 879.58L401.40 879.25L401.46 878.93L401.51 878.61L401.57 878.28L401.62 877.96L401.68 877.63L401.73 877.30L401.79 876.97L401.84 876.64L401.89 876.31L401.95 875.98L402.00 875.64L402.06 875.31L402.11 874.97L402.17 874.64L402.22 874.30L402.28 873.96L402.33 873.62L402.39 873.28L402.44 872.93L402.50 872.59L402.55 872.24L402.60 871.90L402.66 871.55L402.71 871.20L402.77 870.85L402.82 870.50L402.88 870.15L402.93 869.79L402.99 869.44L403.04 869.08L403.10 868.72L403.15 868.37L403.21 868.01L403.26 867.65L403.31 867.28L403.37 866.92L403.42 866.56L403.48 866.19L403.53 865.83L403.59 865.46L403.64 865.09L403.70 864.72L403.75 864.35L403.81 863.97L403.86 863.60L403.91 863.22L403.97 862.85L404.02 862.47L404.08 862.09L404.13 861.71L404.19 861.33L404.24 860.95L404.30 860.56L404.35 860.18L404.41 859.79L404.46 859.41L404.52 859.02L404.57 858.63L404.62 858.24L404.68 857.84L404.73 857.45L404.79 857.05L404.84 856.66L404.90 856.26L404.95 855.86L405.01 855.46L405.06 855.06L405.12 854.66L405.17 854.25L405.22 853.85L405.28 853.44L405.33 853.03L405.39 852.63L405.44 852.21L405.50 851.80L405.55 851.39L405.61 850.98L405.66 850.56L405.72 850.14L405.77 849.73L405.83 849.31L405.88 848.89L405.93 848.47L405.99 848.04L406.04 847.62L406.10 847.19L406.15 846.76L406.21 846.34L406.26 845.91L406.32 845.48L406.37 845.04L406.43 844.61L406.48 844.18L406.54 843.74L406.59 843.30L406.64 842.86L406.70 842.42L406.75 841.98L406.81 841.54L406.86 841.10L406.92 840.65L406.97 840.20L407.03 839.76L407.08 839.31L407.14 838.86L407.19 838.41L407.24 837.95L407.30 837.50L407.35 837.04L407.41 836.58L407.46 836.13L407.52 835.67L407.57 835.21L407.63 834.74L407.68 834.28L407.74 833.82L407.79 833.35L407.85 832.88L407.90 832.41L407.95 831.94L408.01 831.47L408.06 831.00L408.12 830.52L408.17 830.05L408.23 829.57L408.28 829.09L408.34 828.61L408.39 828.13L408.45 827.65L408.50 827.17L408.55 826.68L408.61 826.20L408.66 825.71L408.72 825.22L408.77 824.73L408.83 824.24L408.88 823.75L408.94 823.25L408.99 822.76L409.05 822.26L409.10 821.77L409.16 821.27L409.21 820.77L409.26 820.27L409.32 819.76L409.37 819.26L409.43 818.75L409.48 818.25L409.54 817.74L409.59 817.23L409.65 816.72L409.70 816.21L409.76 815.69L409.81 815.18L409.86 814.66L409.92 814.15L409.97 813.63L410.03 813.11L410.08 812.59L410.14 812.07L410.19 811.54L410.25 811.02L410.30 810.49L410.36 809.96L410.41 809.44L410.47 808.91L410.52 808.38L410.57 807.84L410.63 807.31L410.68 806.78L410.74 806.24L410.79 805.70L410.85 805.17L410.90 804.63L410.96 804.09L411.01 803.54L411.07 803.00L411.12 802.46L411.18 801.91L411.23 801.36L411.28 800.82L411.34 800.27L411.39 799.72L411.45 799.17L411.50 798.61L411.56 798.06L411.61 797.50L411.67 796.95L411.72 796.39L411.78 795.83L411.83 795.27L411.88 794.71L411.94 794.15L411.99 793.59L412.05 793.02L412.10 792.46L412.16 791.89L412.21 791.32L412.27 790.76L412.32 790.19L412.38 789.61L412.43 789.04L412.49 788.47L412.54 787.90L412.59 787.32L412.65 786.75L412.70 786.17L412.76 785.59L412.81 785.01L412.87 784.43L412.92 783.85L412.98 783.27L413.03 782.68L413.09 782.10L413.14 781.51L413.19 780.93L413.25 780.34L413.30 779.75L413.36 779.16L413.41 778.57L413.47 777.98L413.52 777.39L413.58 776.80L413.63 776.20L413.69 775.61L413.74 775.01L413.80 774.41L413.85 773.82L413.90 773.22L413.96 772.62L414.01 772.02L414.07 771.42L414.12 770.82L414.18 770.21L414.23 769.61L414.29 769.01L414.34 768.40L414.40 767.79L414.45 767.19L414.51 766.58L414.56 765.97L414.61 765.36L414.67 764.75L414.72 764.14L414.78 763.53L414.83 762.92L414.89 762.31L414.94 761.69L415.00 761.08L415.05 760.46L415.11 759.85L415.16 759.23L415.21 758.62L415.27 758.00L415.32 757.38L415.38 756.76L415.43 756.14L415.49 755.52L415.54 754.90L415.60 754.28L415.65 753.66L415.71 753.04L415.76 752.42L415.82 751.80L415.87 751.17L415.92 750.55L415.98 749.93L416.03 749.30L416.09 748.68L416.14 748.05L416.20 747.42L416.25 746.80L416.31 746.17L416.36 745.54L416.42 744.92L416.47 744.29L416.52 743.66L416.58 743.03L416.63 742.41L416.69 741.78L416.74 741.15L416.80 740.52L416.85 739.89L416.91 739.26L416.96 738.63L417.02 738.00L417.07 737.37L417.13 736.74L417.18 736.11L417.23 735.48L417.29 734.85L417.34 734.22L417.40 733.59L417.45 732.96L417.51 732.33L417.56 731.70L417.62 731.07L417.67 730.43L417.73 729.80L417.78 729.17L417.84 728.54L417.89 727.91L417.94 727.28L418.00 726.65L418.05 726.02L418.11 725.39L418.16 724.76L418.22 724.13L418.27 723.51L418.33 722.88L418.38 722.25L418.44 721.62L418.49 720.99L418.54 720.36L418.60 719.74L418.65 719.11L418.71 718.48L418.76 717.86L418.82 717.23L418.87 716.61L418.93 715.98L418.98 715.36L419.04 714.74L419.09 714.11L419.15 713.49L419.20 712.87L419.25 712.25L419.31 711.63L419.36 711.01L419.42 710.39L419.47 709.77L419.53 709.15L419.58 708.53L419.64 707.92L419.69 707.30L419.75 706.69L419.80 706.07L419.85 705.46L419.91 704.85L419.96 704.24L420.02 703.63L420.07 703.02L420.13 702.41L420.18 701.80L420.24 701.19L420.29 700.59L420.35 699.98L420.40 699.38L420.46 698.78L420.51 698.18L420.56 697.58L420.62 696.98L420.67 696.38L420.73 695.78L420.78 695.19L420.84 694.60L420.89 694.00L420.95 693.41L421.00 692.82L421.06 692.23L421.11 691.65L421.17 691.06L421.22 690.48L421.27 689.89L421.33 689.31L421.38 688.73L421.44 688.15L421.49 687.58L421.55 687.00L421.60 686.43L421.66 685.86L421.71 685.28L421.77 684.72L421.82 684.15L421.87 683.58L421.93 683.02L421.98 682.46L422.04 681.90L422.09 681.34L422.15 680.79L422.20 680.23L422.26 679.68L422.31 679.13L422.37 678.58L422.42 678.03L422.48 677.49L422.53 676.95L422.58 676.41L422.64 675.87L422.69 675.33L422.75 674.80L422.80 674.27L422.86 673.74L422.91 673.21L422.97 672.69L423.02 672.16L423.08 671.64L423.13 671.12L423.18 670.61L423.24 670.10L423.29 669.58L423.35 669.08L423.40 668.57L423.46 668.07L423.51 667.56L423.57 667.07L423.62 666.57L423.68 666.08L423.73 665.59L423.79 665.10L423.84 664.61L423.89 664.13L423.95 663.65L424.00 663.17L424.06 662.70L424.11 662.23L424.17 661.76L424.22 661.29L424.28 660.83L424.33 660.37L424.39 659.91L424.44 659.45L424.49 659.00L424.55 658.55L424.60 658.11L424.66 657.67L424.71 657.23L424.77 656.79L424.82 656.36L424.88 655.93L424.93 655.50L424.99 655.07L425.04 654.65L425.10 654.24L425.15 653.82L425.20 653.41L425.26 653.00L425.31 652.60L425.37 652.20L425.42 651.80L425.48 651.41L425.53 651.02L425.59 650.63L425.64 650.24L425.70 649.86L425.75 649.49L425.81 649.11L425.86 648.74L425.91 648.38L425.97 648.01L426.02 647.65L426.08 647.30L426.13 646.95L426.19 646.60L426.24 646.25L426.30 645.91L426.35 645.58L426.41 645.24L426.46 644.91L426.51 644.59L426.57 644.27L426.62 643.95L426.68 643.63L426.73 643.32L426.79 643.02L426.84 642.71L426.90 642.41L426.95 642.12L427.01 641.83L427.06 641.54L427.12 641.26L427.17 640.98L427.22 640.71L427.28 640.43L427.33 640.17L427.39 639.90L427.44 639.65L427.50 639.39L427.55 639.14L427.61 638.90L427.66 638.65L427.72 638.42L427.77 638.18L427.82 637.95L427.88 637.73L427.93 637.51L427.99 637.29L428.04 637.08L428.10 636.87L428.15 636.67L428.21 636.47L428.26 636.27L428.32 636.08L428.37 635.89L428.43 635.71L428.48 635.53L428.53 635.36L428.59 635.19L428.64 635.03L428.70 634.86L428.75 634.71L428.81 634.56L428.86 634.41L428.92 634.27L428.97 634.13L429.03 634.00L429.08 633.87L429.14 633.74L429.19 633.62L429.24 633.51L429.30 633.39L429.35 633.29L429.41 633.19L429.46 633.09L429.52 632.99L429.57 632.91L429.63 632.82L429.68 632.74L429.74 632.67L429.79 632.60L429.84 632.53L429.90 632.47L429.95 632.41L430.01 632.36L430.06 632.31L430.12 632.27L430.17 632.23L430.23 632.20L430.28 632.17L430.34 632.14L430.39 632.12L430.45 632.11L430.50 632.10L430.55 632.09L430.61 632.09L430.66 632.09L430.72 632.10L430.77 632.11L430.83 632.13L430.88 632.15L430.94 632.18L430.99 632.21L431.05 632.24L431.10 632.28L431.15 632.33L431.21 632.37L431.26 632.43L431.32 632.49L431.37 632.55L431.43 632.62L431.48 632.69L431.54 632.76L431.59 632.84L431.65 632.93L431.70 633.02L431.76 633.11L431.81 633.21L431.86 633.32L431.92 633.42L431.97 633.54L432.03 633.65L432.08 633.78L432.14 633.90L432.19 634.03L432.25 634.17L432.30 634.31L432.36 634.45L432.41 634.60L432.47 634.75L432.52 634.91L432.57 635.07L432.63 635.24L432.68 635.41L432.74 635.58L432.79 635.76L432.85 635.94L432.90 636.13L432.96 636.32L433.01 636.52L433.07 636.72L433.12 636.93L433.17 637.13L433.23 637.35L433.28 637.57L433.34 637.79L433.39 638.01L433.45 638.25L433.50 638.48L433.56 638.72L433.61 638.96L433.67 639.21L433.72 639.46L433.78 639.72L433.83 639.98L433.88 640.24L433.94 640.51L433.99 640.78L434.05 641.06L434.10 641.34L434.16 641.62L434.21 641.91L434.27 642.20L434.32 642.50L434.38 642.80L434.43 643.10L434.48 643.41L434.54 643.72L434.59 644.03L434.65 644.35L434.70 644.68L434.76 645.00L434.81 645.33L434.87 645.67L434.92 646.01L434.98 646.35L435.03 646.69L435.09 647.04L435.14 647.40L435.19 647.75L435.25 648.11L435.30 648.48L435.36 648.84L435.41 649.21L435.47 649.59L435.52 649.97L435.58 650.35L435.63 650.73L435.69 651.12L435.74 651.51L435.80 651.91L435.85 652.31L435.90 652.71L435.96 653.11L436.01 653.52L436.07 653.94L436.12 654.35L436.18 654.77L436.23 655.19L436.29 655.62L436.34 656.04L436.40 656.47L436.45 656.91L436.50 657.35L436.56 657.79L436.61 658.23L436.67 658.68L436.72 659.13L436.78 659.58L436.83 660.03L436.89 660.49L436.94 660.95L437.00 661.42L437.05 661.88L437.11 662.35L437.16 662.83L437.21 663.30L437.27 663.78L437.32 664.26L437.38 664.74L437.43 665.23L437.49 665.72L437.54 666.21L437.60 666.71L437.65 667.20L437.71 667.70L437.76 668.20L437.81 668.71L437.87 669.21L437.92 669.72L437.98 670.24L438.03 670.75L438.09 671.27L438.14 671.78L438.20 672.31L438.25 672.83L438.31 673.35L438.36 673.88L438.42 674.41L438.47 674.94L438.52 675.48L438.58 676.02L438.63 676.55L438.69 677.10L438.74 677.64L438.80 678.18L438.85 678.73L438.91 679.28L438.96 679.83L439.02 680.38L439.07 680.94L439.12 681.49L439.18 682.05L439.23 682.61L439.29 683.17L439.34 683.74L439.40 684.30L439.45 684.87L439.51 685.44L439.56 686.01L439.62 686.58L439.67 687.16L439.73 687.73L439.78 688.31L439.83 688.89L439.89 689.47L439.94 690.05L440.00 690.63L440.05 691.22L440.11 691.81L440.16 692.39L440.22 692.98L440.27 693.57L440.33 694.16L440.38 694.76L440.44 695.35L440.49 695.95L440.54 696.54L440.60 697.14L440.65 697.74L440.71 698.34L440.76 698.94L440.82 699.55L440.87 700.15L440.93 700.75L440.98 701.36L441.04 701.97L441.09 702.57L441.14 703.18L441.20 703.79L441.25 704.40L441.31 705.02L441.36 705.63L441.42 706.24L441.47 706.86L441.53 707.47L441.58 708.09L441.64 708.70L441.69 709.32L441.75 709.94L441.80 710.56L441.85 711.18L441.91 711.80L441.96 712.42L442.02 713.04L442.07 713.66L442.13 714.28L442.18 714.91L442.24 715.53L442.29 716.15L442.35 716.78L442.40 717.40L442.45 718.03L442.51 718.66L442.56 719.28L442.62 719.91L442.67 720.54L442.73 721.16L442.78 721.79L442.84 722.42L442.89 723.05L442.95 723.68L443.00 724.31L443.06 724.94L443.11 725.57L443.16 726.19L443.22 726.82L443.27 727.45L443.33 728.08L443.38 728.72L443.44 729.35L443.49 729.98L443.55 730.61L443.60 731.24L443.66 731.87L443.71 732.50L443.77 733.13L443.82 733.76L443.87 734.39L443.93 735.02L443.98 735.65L444.04 736.28L444.09 736.91L444.15 737.54L444.20 738.17L444.26 738.80L444.31 739.43L444.37 740.06L444.42 740.69L444.47 741.32L444.53 741.95L444.58 742.58L444.64 743.21L444.69 743.83L444.75 744.46L444.80 745.09L444.86 745.72L444.91 746.34L444.97 746.97L445.02 747.60L445.08 748.22L445.13 748.85L445.18 749.47L445.24 750.10L445.29 750.72L445.35 751.34L445.40 751.97L445.46 752.59L445.51 753.21L445.57 753.83L445.62 754.45L445.68 755.07L445.73 755.69L445.78 756.31L445.84 756.93L445.89 757.55L445.95 758.17L446.00 758.79L446.06 759.40L446.11 760.02L446.17 760.63L446.22 761.25L446.28 761.86L446.33 762.47L446.39 763.09L446.44 763.70L446.49 764.31L446.55 764.92L446.60 765.53L446.66 766.14L446.71 766.75L446.77 767.35L446.82 767.96L446.88 768.57L446.93 769.17L446.99 769.77L447.04 770.38L447.10 770.98L447.15 771.58L447.20 772.18L447.26 772.78L447.31 773.38L447.37 773.98L447.42 774.58L447.48 775.17L447.53 775.77L447.59 776.36L447.64 776.96L447.70 777.55L447.75 778.14L447.80 778.73L447.86 779.32L447.91 779.91L447.97 780.50L448.02 781.09L448.08 781.67L448.13 782.26L448.19 782.84L448.24 783.43L448.30 784.01L448.35 784.59L448.41 785.17L448.46 785.75L448.51 786.33L448.57 786.90L448.62 787.48L448.68 788.05L448.73 788.63L448.79 789.20L448.84 789.77L448.90 790.34L448.95 790.91L449.01 791.48L449.06 792.05L449.11 792.61L449.17 793.18L449.22 793.74L449.28 794.30L449.33 794.87L449.39 795.43L449.44 795.98L449.50 796.54L449.55 797.10L449.61 797.66L449.66 798.21L449.72 798.76L449.77 799.32L449.82 799.87L449.88 800.42L449.93 800.97L449.99 801.51L450.04 802.06L450.10 802.60L450.15 803.15L450.21 803.69L450.26 804.23L450.32 804.77L450.37 805.31L450.43 805.85L450.48 806.39L450.53 806.92L450.59 807.46L450.64 807.99L450.70 808.52L450.75 809.05L450.81 809.58L450.86 810.11L450.92 810.64L450.97 811.16L451.03 811.69L451.08 812.21L451.13 812.73L451.19 813.25L451.24 813.77L451.30 814.29L451.35 814.80L451.41 815.32L451.46 815.83L451.52 816.35L451.57 816.86L451.63 817.37L451.68 817.88L451.74 818.38L451.79 818.89L451.84 819.40L451.90 819.90L451.95 820.40L452.01 820.90L452.06 821.40L452.12 821.90L452.17 822.40L452.23 822.90L452.28 823.39L452.34 823.88L452.39 824.38L452.44 824.87L452.50 825.36L452.55 825.84L452.61 826.33L452.66 826.82L452.72 827.30L452.77 827.78L452.83 828.27L452.88 828.75L452.94 829.22L452.99 829.70L453.05 830.18L453.10 830.65L453.15 831.13L453.21 831.60L453.26 832.07L453.32 832.54L453.37 833.01L453.43 833.48L453.48 833.94L453.54 834.41L453.59 834.87L453.65 835.33L453.70 835.79L453.75 836.25L453.81 836.71L453.86 837.17L453.92 837.62L453.97 838.08L454.03 838.53L454.08 838.98L454.14 839.43L454.19 839.88L454.25 840.33L454.30 840.77L454.36 841.22L454.41 841.66L454.46 842.10L454.52 842.54L454.57 842.98L454.63 843.42L454.68 843.86L454.74 844.29L454.79 844.73L454.85 845.16L454.90 845.59L454.96 846.02L455.01 846.45L455.07 846.88L455.12 847.31L455.17 847.73L455.23 848.16L455.28 848.58L455.34 849.00L455.39 849.42L455.45 849.84L455.50 850.26L455.56 850.67L455.61 851.09L455.67 851.50L455.72 851.92L455.77 852.33L455.83 852.74L455.88 853.15L455.94 853.55L455.99 853.96L456.05 854.36L456.10 854.77L456.16 855.17L456.21 855.57L456.27 855.97L456.32 856.37L456.38 856.77L456.43 857.16L456.48 857.56L456.54 857.95L456.59 858.34L456.65 858.73L456.70 859.12L456.76 859.51L456.81 859.90L456.87 860.28L456.92 860.67L456.98 861.05L457.03 861.43L457.08 861.82L457.14 862.20L457.19 862.57L457.25 862.95L457.30 863.33L457.36 863.70L457.41 864.08L457.47 864.45L457.52 864.82L457.58 865.19L457.63 865.56L457.69 865.93L457.74 866.29L457.79 866.66L457.85 867.02L457.90 867.38L457.96 867.75L458.01 868.11L458.07 868.46L458.12 868.82L458.18 869.18L458.23 869.53L458.29 869.89L458.34 870.24L458.40 870.59L458.45 870.95L458.50 871.30L458.56 871.64L458.61 871.99L458.67 872.34L458.72 872.68L458.78 873.03L458.83 873.37L458.89 873.71L458.94 874.05L459.00 874.39L459.05 874.73L459.10 875.06L459.16 875.40L459.21 875.74L459.27 876.07L459.32 876.40L459.38 876.73L459.43 877.06L459.49 877.39L459.54 877.72L459.60 878.05L459.65 878.37L459.71 878.70L459.76 879.02L459.81 879.34L459.87 879.66L459.92 879.98L459.98 880.30L460.03 880.62L460.09 880.94L460.14 881.25L460.20 881.57L460.25 881.88L460.31 882.19L460.36 882.50L460.41 882.81L460.47 883.12L460.52 883.43L460.58 883.74L460.63 884.04L460.69 884.35L460.74 884.65L460.80 884.96L460.85 885.26L460.91 885.56L460.96 885.86L461.02 886.16L461.07 886.45L461.12 886.75L461.18 887.05L461.23 887.34L461.29 887.63L461.34 887.93L461.40 888.22L461.45 888.51L461.51 888.80L461.56 889.09L461.62 889.37L461.67 889.66L461.73 889.94L461.78 890.23L461.83 890.51L461.89 890.79L461.94 891.08L462.00 891.36L462.05 891.64L462.11 891.91L462.16 892.19L462.22 892.47L462.27 892.74L462.33 893.02L462.38 893.29L462.43 893.56L462.49 893.83L462.54 894.10L462.60 894.37L462.65 894.64L462.71 894.91L462.76 895.18L462.82 895.44L462.87 895.71L462.93 895.97L462.98 896.23L463.04 896.50L463.09 896.76L463.14 897.02L463.20 897.28L463.25 897.53L463.31 897.79L463.36 898.05L463.42 898.30L463.47 898.56L463.53 898.81L463.58 899.06L463.64 899.31L463.69 899.57L463.74 899.82L463.80 900.06L463.85 900.31L463.91 900.56L463.96 900.81L464.02 901.05L464.07 901.30L464.13 901.54L464.18 901.78L464.24 902.02L464.29 902.27L464.35 902.51L464.40 902.74L464.45 902.98L464.51 903.22L464.56 903.46L464.62 903.69L464.67 903.93L464.73 904.16L464.78 904.40L464.84 904.63L464.89 904.86L464.95 905.09L465.00 905.32L465.06 905.55L465.11 905.78L465.16 906.01L465.22 906.23L465.27 906.46L465.33 906.68L465.38 906.91L465.44 907.13L465.49 907.35L465.55 907.57L465.60 907.80L465.66 908.02L465.71 908.23L465.76 908.45L465.82 908.67L465.87 908.89L465.93 909.10L465.98 909.32L466.04 909.53L466.09 909.75L466.15 909.96L466.20 910.17L466.26 910.38L466.31 910.59L466.37 910.80L466.42 911.01L466.47 911.22L466.53 911.43L466.58 911.64L466.64 911.84L466.69 912.05L466.75 912.25L466.80 912.46L466.86 912.66L466.91 912.86L466.97 913.06L467.02 913.26L467.07 913.46L467.13 913.66L467.18 913.86L467.24 914.06L467.29 914.26L467.35 914.45L467.40 914.65L467.46 914.84L467.51 915.04L467.57 915.23L467.62 915.43L467.68 915.62L467.73 915.81L467.78 916.00L467.84 916.19L467.89 916.38L467.95 916.57L468.00 916.76L468.06 916.94L468.11 917.13L468.17 917.32L468.22 917.50L468.28 917.69L468.33 917.87L468.38 918.05L468.44 918.24L468.49 918.42L468.55 918.60L468.60 918.78L468.66 918.96L468.71 919.14L468.77 919.32L468.82 919.49L468.88 919.67L468.93 919.85L468.99 920.02L469.04 920.20L469.09 920.37L469.15 920.55L469.20 920.72L469.26 920.89L469.31 921.07L469.37 921.24L469.42 921.41L469.48 921.58L469.53 921.75L469.59 921.92L469.64 922.09L469.70 922.25L469.75 922.42L469.80 922.59L469.86 922.75L469.91 922.92L469.97 923.08L470.02 923.25L470.08 923.41L470.13 923.57L470.19 923.74L470.24 923.90L470.30 924.06L470.35 924.22L470.40 924.38L470.46 924.54L470.51 924.70L470.57 924.86L470.62 925.01L470.68 925.17L470.73 925.33L470.79 925.48L470.84 925.64L470.90 925.79L470.95 925.95L471.01 926.10L471.06 926.25L471.11 926.41L471.17 926.56L471.22 926.71L471.28 926.86L471.33 927.01L471.39 927.16L471.44 927.31L471.50 927.46L471.55 927.60L471.61 927.75L471.66 927.90L471.71 928.05L471.77 928.19L471.82 928.34L471.88 928.48L471.93 928.63L471.99 928.77L472.04 928.91L472.10 929.05L472.15 929.20L472.21 929.34L472.26 929.48L472.32 929.62L472.37 929.76L472.42 929.90L472.48 930.04L472.53 930.18L472.59 930.32L472.64 930.45L472.70 930.59L472.75 930.73L472.81 930.86L472.86 931.00L472.92 931.13L472.97 931.27L473.03 931.40L473.08 931.54L473.13 931.67L473.19 931.80L473.24 931.93L473.30 932.06L473.35 932.20L473.41 932.33L473.46 932.46L473.52 932.59L473.57 932.71L473.63 932.84L473.68 932.97L473.73 933.10L473.79 933.23L473.84 933.35L473.90 933.48L473.95 933.61L474.01 933.73L474.06 933.86L474.12 933.98L474.17 934.11L474.23 934.23L474.28 934.35L474.34 934.47L474.39 934.60L474.44 934.72L474.50 934.84L474.55 934.96L474.61 935.08L474.66 935.20L474.72 935.32L474.77 935.44L474.83 935.56L474.88 935.68L474.94 935.80L474.99 935.91L475.04 936.03L475.10 936.15L475.15 936.26L475.21 936.38L475.26 936.49L475.32 936.61L475.37 936.72L475.43 936.84L475.48 936.95L475.54 937.06L475.59 937.18L475.65 937.29L475.70 937.40L475.75 937.51L475.81 937.62L475.86 937.74L475.92 937.85L475.97 937.96L476.03 938.07L476.08 938.18L476.14 938.28L476.19 938.39L476.25 938.50L476.30 938.61L476.36 938.72L476.41 938.82L476.46 938.93L476.52 939.03L476.57 939.14L476.63 939.25L476.68 939.35L476.74 939.46L476.79 939.56L476.85 939.66L476.90 939.77L476.96 939.87L477.01 939.97L477.06 940.07L477.12 940.18L477.17 940.28L477.23 940.38L477.28 940.48L477.34 940.58L477.39 940.68L477.45 940.78L477.50 940.88L477.56 940.98L477.61 941.08L477.67 941.18L477.72 941.27L477.77 941.37L477.83 941.47L477.88 941.57L477.94 941.66L477.99 941.76L478.05 941.86L478.10 941.95L478.16 942.05L478.21 942.14L478.27 942.24L478.32 942.33L478.37 942.42L478.43 942.52L478.48 942.61L478.54 942.70L478.59 942.80L478.65 942.89L478.70 942.98L478.76 943.07L478.81 943.16L478.87 943.25L478.92 943.34L478.98 943.43L479.03 943.52L479.08 943.61L479.14 943.70L479.19 943.79L479.25 943.88L479.30 943.97L479.36 944.06L479.41 944.14L479.47 944.23L479.52 944.32L479.58 944.40L479.63 944.49L479.69 944.58L479.74 944.66L479.79 944.75L479.85 944.83L479.90 944.92L479.96 945.00L480.01 945.09L480.07 945.17L480.12 945.26L480.18 945.34L480.23 945.42L480.29 945.50L480.34 945.59L480.39 945.67L480.45 945.75L480.50 945.83L480.56 945.91L480.61 946.00L480.67 946.08L480.72 946.16L480.78 946.24L480.83 946.32L480.89 946.40L480.94 946.48L481.00 946.55L481.05 946.63L481.10 946.71L481.16 946.79L481.21 946.87L481.27 946.95L481.32 947.02L481.38 947.10L481.43 947.18L481.49 947.25L481.54 947.33L481.60 947.41L481.65 947.48L481.70 947.56L481.76 947.63L481.81 947.71L481.87 947.78L481.92 947.86L481.98 947.93L482.03 948.00L482.09 948.08L482.14 948.15L482.20 948.23L482.25 948.30L482.31 948.37L482.36 948.44L482.41 948.52L482.47 948.59L482.52 948.66L482.58 948.73L482.63 948.80L482.69 948.87L482.74 948.94L482.80 949.01L482.85 949.08L482.91 949.15L482.96 949.22L483.01 949.29L483.07 949.36L483.12 949.43L483.18 949.50L483.23 949.57L483.29 949.64L483.34 949.70L483.40 949.77L483.45 949.84L483.51 949.91L483.56 949.97L483.62 950.04L483.67 950.11L483.72 950.17L483.78 950.24L483.83 950.30L483.89 950.37L483.94 950.44L484.00 950.50L484.05 950.57L484.11 950.63L484.16 950.69L484.22 950.76L484.27 950.82L484.33 950.89L484.38 950.95L484.43 951.01L484.49 951.08L484.54 951.14L484.60 951.20L484.65 951.27L484.71 951.33L484.76 951.39L484.82 951.45L484.87 951.51L484.93 951.57L484.98 951.64L485.03 951.70L485.09 951.76L485.14 951.82L485.20 951.88L485.25 951.94L485.31 952.00L485.36 952.06L485.42 952.12L485.47 952.18L485.53 952.24L485.58 952.30L485.64 952.35L485.69 952.41L485.74 952.47L485.80 952.53L485.85 952.59L485.91 952.65L485.96 952.70L486.02 952.76L486.07 952.82L486.13 952.87L486.18 952.93L486.24 952.99L486.29 953.04L486.34 953.10L486.40 953.16L486.45 953.21L486.51 953.27L486.56 953.32L486.62 953.38L486.67 953.43L486.73 953.49L486.78 953.54L486.84 953.60L486.89 953.65L486.95 953.71L487.00 953.76" fill="none" stroke="#000" stroke-width="3" stroke-dasharray="5 2.3"/><path d="M827.60 757.89L827.65 757.89L827.71 757.89L827.77 757.89L827.82 757.89L827.88 757.89L827.94 757.88L828.00 757.88L828.05 757.88L828.11 757.88L828.17 757.88L828.22 757.88L828.28 757.88L828.34 757.88L828.40 757.87L828.45 757.87L828.51 757.87L828.57 757.87L828.62 757.87L828.68 757.87L828.74 757.87L828.80 757.87L828.85 757.87L828.91 757.86L828.97 757.86L829.02 757.86L829.08 757.86L829.14 757.86L829.20 757.86L829.25 757.86L829.31 757.86L829.37 757.85L829.42 757.85L829.48 757.85L829.54 757.85L829.60 757.85L829.65 757.85L829.71 757.85L829.77 757.85L829.82 757.84L829.88 757.84L829.94 757.84L830.00 757.84L830.05 757.84L830.11 757.84L830.17 757.84L830.22 757.84L830.28 757.83L830.34 757.83L830.39 757.83L830.45 757.83L830.51 757.83L830.57 757.83L830.62 757.83L830.68 757.83L830.74 757.82L830.79 757.82L830.85 757.82L830.91 757.82L830.97 757.82L831.02 757.82L831.08 757.82L831.14 757.82L831.19 757.81L831.25 757.81L831.31 757.81L831.37 757.81L831.42 757.81L831.48 757.81L831.54 757.81L831.59 757.80L831.65 757.80L831.71 757.80L831.77 757.80L831.82 757.80L831.88 757.80L831.94 757.80L831.99 757.80L832.05 757.79L832.11 757.79L832.17 757.79L832.22 757.79L832.28 757.79L832.34 757.79L832.39 757.79L832.45 757.78L832.51 757.78L832.57 757.78L832.62 757.78L832.68 757.78L832.74 757.78L832.79 757.78L832.85 757.77L832.91 757.77L832.97 757.77L833.02 757.77L833.08 757.77L833.14 757.77L833.19 757.77L833.25 757.76L833.31 757.76L833.37 757.76L833.42 757.76L833.48 757.76L833.54 757.76L833.59 757.76L833.65 757.75L833.71 757.75L833.77 757.75L833.82 757.75L833.88 757.75L833.94 757.75L833.99 757.75L834.05 757.74L834.11 757.74L834.16 757.74L834.22 757.74L834.28 757.74L834.34 757.74L834.39 757.74L834.45 757.73L834.51 757.73L834.56 757.73L834.62 757.73L834.68 757.73L834.74 757.73L834.79 757.72L834.85 757.72L834.91 757.72L834.96 757.72L835.02 757.72L835.08 757.72L835.14 757.72L835.19 757.71L835.25 757.71L835.31 757.71L835.36 757.71L835.42 757.71L835.48 757.71L835.54 757.70L835.59 757.70L835.65 757.70L835.71 757.70L835.76 757.70L835.82 757.70L835.88 757.70L835.94 757.69L835.99 757.69L836.05 757.69L836.11 757.69L836.16 757.69L836.22 757.69L836.28 757.68L836.34 757.68L836.39 757.68L836.45 757.68L836.51 757.68L836.56 757.68L836.62 757.67L836.68 757.67L836.74 757.67L836.79 757.67L836.85 757.67L836.91 757.67L836.96 757.66L837.02 757.66L837.08 757.66L837.14 757.66L837.19 757.66L837.25 757.66L837.31 757.65L837.36 757.65L837.42 757.65L837.48 757.65L837.53 757.65L837.59 757.65L837.65 757.64L837.71 757.64L837.76 757.64L837.82 757.64L837.88 757.64L837.93 757.64L837.99 757.63L838.05 757.63L838.11 757.63L838.16 757.63L838.22 757.63L838.28 757.62L838.33 757.62L838.39 757.62L838.45 757.62L838.51 757.62L838.56 757.62L838.62 757.61L838.68 757.61L838.73 757.61L838.79 757.61L838.85 757.61L838.91 757.61L838.96 757.60L839.02 757.60L839.08 757.60L839.13 757.60L839.19 757.60L839.25 757.59L839.31 757.59L839.36 757.59L839.42 757.59L839.48 757.59L839.53 757.58L839.59 757.58L839.65 757.58L839.71 757.58L839.76 757.58L839.82 757.58L839.88 757.57L839.93 757.57L839.99 757.57L840.05 757.57L840.11 757.57L840.16 757.56L840.22 757.56L840.28 757.56L840.33 757.56L840.39 757.56L840.45 757.55L840.51 757.55L840.56 757.55L840.62 757.55L840.68 757.55L840.73 757.54L840.79 757.54L840.85 757.54L840.91 757.54L840.96 757.54L841.02 757.53L841.08 757.53L841.13 757.53L841.19 757.53L841.25 757.53L841.30 757.52L841.36 757.52L841.42 757.52L841.48 757.52L841.53 757.52L841.59 757.51L841.65 757.51L841.70 757.51L841.76 757.51L841.82 757.51L841.88 757.50L841.93 757.50L841.99 757.50L842.05 757.50L842.10 757.50L842.16 757.49L842.22 757.49L842.28 757.49L842.33 757.49L842.39 757.49L842.45 757.48L842.50 757.48L842.56 757.48L842.62 757.48L842.68 757.47L842.73 757.47L842.79 757.47L842.85 757.47L842.90 757.47L842.96 757.46L843.02 757.46L843.08 757.46L843.13 757.46L843.19 757.46L843.25 757.45L843.30 757.45L843.36 757.45L843.42 757.45L843.48 757.44L843.53 757.44L843.59 757.44L843.65 757.44L843.70 757.44L843.76 757.43L843.82 757.43L843.88 757.43L843.93 757.43L843.99 757.42L844.05 757.42L844.10 757.42L844.16 757.42L844.22 757.41L844.28 757.41L844.33 757.41L844.39 757.41L844.45 757.41L844.50 757.40L844.56 757.40L844.62 757.40L844.67 757.40L844.73 757.39L844.79 757.39L844.85 757.39L844.90 757.39L844.96 757.38L845.02 757.38L845.07 757.38L845.13 757.38L845.19 757.38L845.25 757.37L845.30 757.37L845.36 757.37L845.42 757.37L845.47 757.36L845.53 757.36L845.59 757.36L845.65 757.36L845.70 757.35L845.76 757.35L845.82 757.35L845.87 757.35L845.93 757.34L845.99 757.34L846.05 757.34L846.10 757.34L846.16 757.33L846.22 757.33L846.27 757.33L846.33 757.33L846.39 757.32L846.45 757.32L846.50 757.32L846.56 757.32L846.62 757.31L846.67 757.31L846.73 757.31L846.79 757.31L846.85 757.30L846.90 757.30L846.96 757.30L847.02 757.30L847.07 757.29L847.13 757.29L847.19 757.29L847.25 757.28L847.30 757.28L847.36 757.28L847.42 757.28L847.47 757.27L847.53 757.27L847.59 757.27L847.65 757.27L847.70 757.26L847.76 757.26L847.82 757.26L847.87 757.26L847.93 757.25L847.99 757.25L848.05 757.25L848.10 757.24L848.16 757.24L848.22 757.24L848.27 757.24L848.33 757.23L848.39 757.23L848.44 757.23L848.50 757.22L848.56 757.22L848.62 757.22L848.67 757.22L848.73 757.21L848.79 757.21L848.84 757.21L848.90 757.21L848.96 757.20L849.02 757.20L849.07 757.20L849.13 757.19L849.19 757.19L849.24 757.19L849.30 757.19L849.36 757.18L849.42 757.18L849.47 757.18L849.53 757.17L849.59 757.17L849.64 757.17L849.70 757.16L849.76 757.16L849.82 757.16L849.87 757.16L849.93 757.15L849.99 757.15L850.04 757.15L850.10 757.14L850.16 757.14L850.22 757.14L850.27 757.13L850.33 757.13L850.39 757.13L850.44 757.13L850.50 757.12L850.56 757.12L850.62 757.12L850.67 757.11L850.73 757.11L850.79 757.11L850.84 757.10L850.90 757.10L850.96 757.10L851.02 757.09L851.07 757.09L851.13 757.09L851.19 757.08L851.24 757.08L851.30 757.08L851.36 757.08L851.42 757.07L851.47 757.07L851.53 757.07L851.59 757.06L851.64 757.06L851.70 757.06L851.76 757.05L851.82 757.05L851.87 757.05L851.93 757.04L851.99 757.04L852.04 757.04L852.10 757.03L852.16 757.03L852.21 757.03L852.27 757.02L852.33 757.02L852.39 757.02L852.44 757.01L852.50 757.01L852.56 757.01L852.61 757.00L852.67 757.00L852.73 757.00L852.79 756.99L852.84 756.99L852.90 756.99L852.96 756.98L853.01 756.98L853.07 756.98L853.13 756.97L853.19 756.97L853.24 756.97L853.30 756.96L853.36 756.96L853.41 756.95L853.47 756.95L853.53 756.95L853.59 756.94L853.64 756.94L853.70 756.94L853.76 756.93L853.81 756.93L853.87 756.93L853.93 756.92L853.99 756.92L854.04 756.92L854.10 756.91L854.16 756.91L854.21 756.90L854.27 756.90L854.33 756.90L854.39 756.89L854.44 756.89L854.50 756.89L854.56 756.88L854.61 756.88L854.67 756.87L854.73 756.87L854.79 756.87L854.84 756.86L854.90 756.86L854.96 756.86L855.01 756.85L855.07 756.85L855.13 756.84L855.19 756.84L855.24 756.84L855.30 756.83L855.36 756.83L855.41 756.83L855.47 756.82L855.53 756.82L855.58 756.81L855.64 756.81L855.70 756.81L855.76 756.80L855.81 756.80L855.87 756.79L855.93 756.79L855.98 756.79L856.04 756.78L856.10 756.78L856.16 756.77L856.21 756.77L856.27 756.77L856.33 756.76L856.38 756.76L856.44 756.75L856.50 756.75L856.56 756.75L856.61 756.74L856.67 756.74L856.73 756.73L856.78 756.73L856.84 756.72L856.90 756.72L856.96 756.72L857.01 756.71L857.07 756.71L857.13 756.70L857.18 756.70L857.24 756.69L857.30 756.69L857.36 756.69L857.41 756.68L857.47 756.68L857.53 756.67L857.58 756.67L857.64 756.66L857.70 756.66L857.76 756.66L857.81 756.65L857.87 756.65L857.93 756.64L857.98 756.64L858.04 756.63L858.10 756.63L858.16 756.63L858.21 756.62L858.27 756.62L858.33 756.61L858.38 756.61L858.44 756.60L858.50 756.60L858.56 756.59L858.61 756.59L858.67 756.58L858.73 756.58L858.78 756.58L858.84 756.57L858.90 756.57L858.96 756.56L859.01 756.56L859.07 756.55L859.13 756.55L859.18 756.54L859.24 756.54L859.30 756.53L859.35 756.53L859.41 756.52L859.47 756.52L859.53 756.51L859.58 756.51L859.64 756.51L859.70 756.50L859.75 756.50L859.81 756.49L859.87 756.49L859.93 756.48L859.98 756.48L860.04 756.47L860.10 756.47L860.15 756.46L860.21 756.46L860.27 756.45L860.33 756.45L860.38 756.44L860.44 756.44L860.50 756.43L860.55 756.43L860.61 756.42L860.67 756.42L860.73 756.41L860.78 756.41L860.84 756.40L860.90 756.40L860.95 756.39L861.01 756.39L861.07 756.38L861.13 756.38L861.18 756.37L861.24 756.36L861.30 756.36L861.35 756.35L861.41 756.35L861.47 756.34L861.53 756.34L861.58 756.33L861.64 756.33L861.70 756.32L861.75 756.32L861.81 756.31L861.87 756.31L861.93 756.30L861.98 756.30L862.04 756.29L862.10 756.29L862.15 756.28L862.21 756.27L862.27 756.27L862.33 756.26L862.38 756.26L862.44 756.25L862.50 756.25L862.55 756.24L862.61 756.24L862.67 756.23L862.73 756.22L862.78 756.22L862.84 756.21L862.90 756.21L862.95 756.20L863.01 756.20L863.07 756.19L863.12 756.18L863.18 756.18L863.24 756.17L863.30 756.17L863.35 756.16L863.41 756.16L863.47 756.15L863.52 756.14L863.58 756.14L863.64 756.13L863.70 756.13L863.75 756.12L863.81 756.11L863.87 756.11L863.92 756.10L863.98 756.10L864.04 756.09L864.10 756.08L864.15 756.08L864.21 756.07L864.27 756.07L864.32 756.06L864.38 756.05L864.44 756.05L864.50 756.04L864.55 756.04L864.61 756.03L864.67 756.02L864.72 756.02L864.78 756.01L864.84 756.00L864.90 756.00L864.95 755.99L865.01 755.99L865.07 755.98L865.12 755.97L865.18 755.97L865.24 755.96L865.30 755.95L865.35 755.95L865.41 755.94L865.47 755.93L865.52 755.93L865.58 755.92L865.64 755.91L865.70 755.91L865.75 755.90L865.81 755.89L865.87 755.89L865.92 755.88L865.98 755.87L866.04 755.87L866.10 755.86L866.15 755.85L866.21 755.85L866.27 755.84L866.32 755.83L866.38 755.83L866.44 755.82L866.49 755.81L866.55 755.81L866.61 755.80L866.67 755.79L866.72 755.79L866.78 755.78L866.84 755.77L866.89 755.77L866.95 755.76L867.01 755.75L867.07 755.74L867.12 755.74L867.18 755.73L867.24 755.72L867.29 755.72L867.35 755.71L867.41 755.70L867.47 755.69L867.52 755.69L867.58 755.68L867.64 755.67L867.69 755.66L867.75 755.66L867.81 755.65L867.87 755.64L867.92 755.64L867.98 755.63L868.04 755.62L868.09 755.61L868.15 755.61L868.21 755.60L868.27 755.59L868.32 755.58L868.38 755.58L868.44 755.57L868.49 755.56L868.55 755.55L868.61 755.54L868.67 755.54L868.72 755.53L868.78 755.52L868.84 755.51L868.89 755.51L868.95 755.50L869.01 755.49L869.07 755.48L869.12 755.47L869.18 755.47L869.24 755.46L869.29 755.45L869.35 755.44L869.41 755.43L869.47 755.43L869.52 755.42L869.58 755.41L869.64 755.40L869.69 755.39L869.75 755.39L869.81 755.38L869.87 755.37L869.92 755.36L869.98 755.35L870.04 755.34L870.09 755.34L870.15 755.33L870.21 755.32L870.26 755.31L870.32 755.30L870.38 755.29L870.44 755.29L870.49 755.28L870.55 755.27L870.61 755.26L870.66 755.25L870.72 755.24L870.78 755.23L870.84 755.23L870.89 755.22L870.95 755.21L871.01 755.20L871.06 755.19L871.12 755.18L871.18 755.17L871.24 755.16L871.29 755.16L871.35 755.15L871.41 755.14L871.46 755.13L871.52 755.12L871.58 755.11L871.64 755.10L871.69 755.09L871.75 755.08L871.81 755.07L871.86 755.06L871.92 755.06L871.98 755.05L872.04 755.04L872.09 755.03L872.15 755.02L872.21 755.01L872.26 755.00L872.32 754.99L872.38 754.98L872.44 754.97L872.49 754.96L872.55 754.95L872.61 754.94L872.66 754.93L872.72 754.92L872.78 754.91L872.84 754.90L872.89 754.89L872.95 754.88L873.01 754.87L873.06 754.86L873.12 754.85L873.18 754.84L873.24 754.83L873.29 754.82L873.35 754.81L873.41 754.80L873.46 754.79L873.52 754.78L873.58 754.77L873.64 754.76L873.69 754.75L873.75 754.74L873.81 754.73L873.86 754.72L873.92 754.71L873.98 754.70L874.03 754.69L874.09 754.68L874.15 754.67L874.21 754.66L874.26 754.65L874.32 754.64L874.38 754.63L874.43 754.62L874.49 754.61L874.55 754.60L874.61 754.59L874.66 754.58L874.72 754.57L874.78 754.55L874.83 754.54L874.89 754.53L874.95 754.52L875.01 754.51L875.06 754.50L875.12 754.49L875.18 754.48L875.23 754.47L875.29 754.46L875.35 754.44L875.41 754.43L875.46 754.42L875.52 754.41L875.58 754.40L875.63 754.39L875.69 754.38L875.75 754.36L875.81 754.35L875.86 754.34L875.92 754.33L875.98 754.32L876.03 754.31L876.09 754.29L876.15 754.28L876.21 754.27L876.26 754.26L876.32 754.25L876.38 754.24L876.43 754.22L876.49 754.21L876.55 754.20L876.61 754.19L876.66 754.18L876.72 754.16L876.78 754.15L876.83 754.14L876.89 754.13L876.95 754.11L877.01 754.10L877.06 754.09L877.12 754.08L877.18 754.07L877.23 754.05L877.29 754.04L877.35 754.03L877.40 754.02L877.46 754.00L877.52 753.99L877.58 753.98L877.63 753.96L877.69 753.95L877.75 753.94L877.80 753.93L877.86 753.91L877.92 753.90L877.98 753.89L878.03 753.87L878.09 753.86L878.15 753.85L878.20 753.83L878.26 753.82L878.32 753.81L878.38 753.79L878.43 753.78L878.49 753.77L878.55 753.75L878.60 753.74L878.66 753.73L878.72 753.71L878.78 753.70L878.83 753.69L878.89 753.67L878.95 753.66L879.00 753.64L879.06 753.63L879.12 753.62L879.18 753.60L879.23 753.59L879.29 753.57L879.35 753.56L879.40 753.55L879.46 753.53L879.52 753.52L879.58 753.50L879.63 753.49L879.69 753.47L879.75 753.46L879.80 753.45L879.86 753.43L879.92 753.42L879.98 753.40L880.03 753.39L880.09 753.37L880.15 753.36L880.20 753.34L880.26 753.33L880.32 753.31L880.38 753.30L880.43 753.28L880.49 753.27L880.55 753.25L880.60 753.24L880.66 753.22L880.72 753.21L880.78 753.19L880.83 753.18L880.89 753.16L880.95 753.14L881.00 753.13L881.06 753.11L881.12 753.10L881.17 753.08L881.23 753.07L881.29 753.05L881.35 753.03L881.40 753.02L881.46 753.00L881.52 752.99L881.57 752.97L881.63 752.95L881.69 752.94L881.75 752.92L881.80 752.91L881.86 752.89L881.92 752.87L881.97 752.86L882.03 752.84L882.09 752.82L882.15 752.81L882.20 752.79L882.26 752.77L882.32 752.76L882.37 752.74L882.43 752.72L882.49 752.70L882.55 752.69L882.60 752.67L882.66 752.65L882.72 752.64L882.77 752.62L882.83 752.60L882.89 752.58L882.95 752.57L883.00 752.55L883.06 752.53L883.12 752.51L883.17 752.50L883.23 752.48L883.29 752.46L883.35 752.44L883.40 752.42L883.46 752.41L883.52 752.39L883.57 752.37L883.63 752.35L883.69 752.33L883.75 752.31L883.80 752.30L883.86 752.28L883.92 752.26L883.97 752.24L884.03 752.22L884.09 752.20L884.15 752.18L884.20 752.17L884.26 752.15L884.32 752.13L884.37 752.11L884.43 752.09L884.49 752.07L884.55 752.05L884.60 752.03L884.66 752.01L884.72 751.99L884.77 751.97L884.83 751.95L884.89 751.93L884.94 751.91L885.00 751.89L885.06 751.87L885.12 751.85L885.17 751.83L885.23 751.81L885.29 751.79L885.34 751.77L885.40 751.75L885.46 751.73L885.52 751.71L885.57 751.69L885.63 751.67L885.69 751.65L885.74 751.63L885.80 751.61L885.86 751.59L885.92 751.57L885.97 751.54L886.03 751.52L886.09 751.50L886.14 751.48L886.20 751.46L886.26 751.44L886.32 751.42L886.37 751.40L886.43 751.37L886.49 751.35L886.54 751.33L886.60 751.31L886.66 751.29L886.72 751.26L886.77 751.24L886.83 751.22L886.89 751.20L886.94 751.18L887.00 751.15L887.06 751.13L887.12 751.11L887.17 751.08L887.23 751.06L887.29 751.04L887.34 751.02L887.40 750.99L887.46 750.97L887.52 750.95L887.57 750.92L887.63 750.90L887.69 750.88L887.74 750.85L887.80 750.83L887.86 750.81L887.92 750.78L887.97 750.76L888.03 750.73L888.09 750.71L888.14 750.69L888.20 750.66L888.26 750.64L888.31 750.61L888.37 750.59L888.43 750.56L888.49 750.54L888.54 750.52L888.60 750.49L888.66 750.47L888.71 750.44L888.77 750.42L888.83 750.39L888.89 750.37L888.94 750.34L889.00 750.31L889.06 750.29L889.11 750.26L889.17 750.24L889.23 750.21L889.29 750.19L889.34 750.16L889.40 750.13L889.46 750.11L889.51 750.08L889.57 750.05L889.63 750.03L889.69 750.00L889.74 749.98L889.80 749.95L889.86 749.92L889.91 749.89L889.97 749.87L890.03 749.84L890.09 749.81L890.14 749.79L890.20 749.76L890.26 749.73L890.31 749.70L890.37 749.68L890.43 749.65L890.49 749.62L890.54 749.59L890.60 749.56L890.66 749.54L890.71 749.51L890.77 749.48L890.83 749.45L890.89 749.42L890.94 749.39L891.00 749.36L891.06 749.34L891.11 749.31L891.17 749.28L891.23 749.25L891.29 749.22L891.34 749.19L891.40 749.16L891.46 749.13L891.51 749.10L891.57 749.07L891.63 749.04L891.69 749.01L891.74 748.98L891.80 748.95L891.86 748.92L891.91 748.89L891.97 748.86L892.03 748.83L892.08 748.80L892.14 748.76L892.20 748.73L892.26 748.70L892.31 748.67L892.37 748.64L892.43 748.61L892.48 748.58L892.54 748.54L892.60 748.51L892.66 748.48L892.71 748.45L892.77 748.42L892.83 748.38L892.88 748.35L892.94 748.32L893.00 748.29L893.06 748.25L893.11 748.22L893.17 748.19L893.23 748.15L893.28 748.12L893.34 748.09L893.40 748.05L893.46 748.02L893.51 747.99L893.57 747.95L893.63 747.92L893.68 747.88L893.74 747.85L893.80 747.81L893.86 747.78L893.91 747.75L893.97 747.71L894.03 747.68L894.08 747.64L894.14 747.60L894.20 747.57L894.26 747.53L894.31 747.50L894.37 747.46L894.43 747.43L894.48 747.39L894.54 747.35L894.60 747.32L894.66 747.28L894.71 747.25L894.77 747.21L894.83 747.17L894.88 747.13L894.94 747.10L895.00 747.06L895.06 747.02L895.11 746.99L895.17 746.95L895.23 746.91L895.28 746.87L895.34 746.83L895.40 746.80L895.46 746.76L895.51 746.72L895.57 746.68L895.63 746.64L895.68 746.60L895.74 746.56L895.80 746.53L895.85 746.49L895.91 746.45L895.97 746.41L896.03 746.37L896.08 746.33L896.14 746.29L896.20 746.25L896.25 746.21L896.31 746.17L896.37 746.13L896.43 746.08L896.48 746.04L896.54 746.00L896.60 745.96L896.65 745.92L896.71 745.88L896.77 745.84L896.83 745.79L896.88 745.75L896.94 745.71L897.00 745.67L897.05 745.63L897.11 745.58L897.17 745.54L897.23 745.50L897.28 745.45L897.34 745.41L897.40 745.37L897.45 745.32L897.51 745.28L897.57 745.24L897.63 745.19L897.68 745.15L897.74 745.10L897.80 745.06L897.85 745.01L897.91 744.97L897.97 744.92L898.03 744.88L898.08 744.83L898.14 744.79L898.20 744.74L898.25 744.70L898.31 744.65L898.37 744.60L898.43 744.56L898.48 744.51L898.54 744.46L898.60 744.42L898.65 744.37L898.71 744.32L898.77 744.28L898.83 744.23L898.88 744.18L898.94 744.13L899.00 744.08L899.05 744.04L899.11 743.99L899.17 743.94L899.22 743.89L899.28 743.84L899.34 743.79L899.40 743.74L899.45 743.69L899.51 743.64L899.57 743.59L899.62 743.54L899.68 743.49L899.74 743.44L899.80 743.39L899.85 743.34L899.91 743.29L899.97 743.24L900.02 743.19L900.08 743.14L900.14 743.08L900.20 743.03L900.25 742.98L900.31 742.93L900.37 742.87L900.42 742.82L900.48 742.77L900.54 742.72L900.60 742.66L900.65 742.61L900.71 742.55L900.77 742.50L900.82 742.45L900.88 742.39L900.94 742.34L901.00 742.28L901.05 742.23L901.11 742.17L901.17 742.12L901.22 742.06L901.28 742.01L901.34 741.95L901.40 741.89L901.45 741.84L901.51 741.78L901.57 741.72L901.62 741.67L901.68 741.61L901.74 741.55L901.80 741.49L901.85 741.44L901.91 741.38L901.97 741.32L902.02 741.26L902.08 741.20L902.14 741.14L902.20 741.08L902.25 741.03L902.31 740.97L902.37 740.91L902.42 740.85L902.48 740.79L902.54 740.73L902.60 740.66L902.65 740.60L902.71 740.54L902.77 740.48L902.82 740.42L902.88 740.36L902.94 740.30L902.99 740.23L903.05 740.17L903.11 740.11L903.17 740.05L903.22 739.98L903.28 739.92L903.34 739.86L903.39 739.79L903.45 739.73L903.51 739.66L903.57 739.60L903.62 739.53L903.68 739.47L903.74 739.40L903.79 739.34L903.85 739.27L903.91 739.21L903.97 739.14L904.02 739.07L904.08 739.01L904.14 738.94L904.19 738.87L904.25 738.81L904.31 738.74L904.37 738.67L904.42 738.60L904.48 738.53L904.54 738.46L904.59 738.40L904.65 738.33L904.71 738.26L904.77 738.19L904.82 738.12L904.88 738.05L904.94 737.98L904.99 737.91L905.05 737.83L905.11 737.76L905.17 737.69L905.22 737.62L905.28 737.55L905.34 737.48L905.39 737.40L905.45 737.33L905.51 737.26L905.57 737.18L905.62 737.11L905.68 737.04L905.74 736.96L905.79 736.89L905.85 736.81L905.91 736.74L905.97 736.66L906.02 736.59L906.08 736.51L906.14 736.44L906.19 736.36L906.25 736.28L906.31 736.21L906.36 736.13L906.42 736.05L906.48 735.97L906.54 735.90L906.59 735.82L906.65 735.74L906.71 735.66L906.76 735.58L906.82 735.50L906.88 735.42L906.94 735.34L906.99 735.26L907.05 735.18L907.11 735.10L907.16 735.02L907.22 734.94L907.28 734.86L907.34 734.78L907.39 734.69L907.45 734.61L907.51 734.53L907.56 734.45L907.62 734.36L907.68 734.28L907.74 734.20L907.79 734.11L907.85 734.03L907.91 733.94L907.96 733.86L908.02 733.77L908.08 733.69L908.14 733.60L908.19 733.51L908.25 733.43L908.31 733.34L908.36 733.25L908.42 733.17L908.48 733.08L908.54 732.99L908.59 732.90L908.65 732.81L908.71 732.72L908.76 732.63L908.82 732.54L908.88 732.45L908.94 732.36L908.99 732.27L909.05 732.18L909.11 732.09L909.16 732.00L909.22 731.91L909.28 731.81L909.34 731.72L909.39 731.63L909.45 731.54L909.51 731.44L909.56 731.35L909.62 731.25L909.68 731.16L909.74 731.07L909.79 730.97L909.85 730.88L909.91 730.78L909.96 730.68L910.02 730.59L910.08 730.49L910.13 730.39L910.19 730.30L910.25 730.20L910.31 730.10L910.36 730.00L910.42 729.90L910.48 729.80L910.53 729.70L910.59 729.60L910.65 729.50L910.71 729.40L910.76 729.30L910.82 729.20L910.88 729.10L910.93 729.00L910.99 728.90L911.05 728.79L911.11 728.69L911.16 728.59L911.22 728.49L911.28 728.38L911.33 728.28L911.39 728.17L911.45 728.07L911.51 727.96L911.56 727.86L911.62 727.75L911.68 727.65L911.73 727.54L911.79 727.43L911.85 727.32L911.91 727.22L911.96 727.11L912.02 727.00L912.08 726.89L912.13 726.78L912.19 726.67L912.25 726.56L912.31 726.45L912.36 726.34L912.42 726.23L912.48 726.12L912.53 726.01L912.59 725.90L912.65 725.79L912.71 725.67L912.76 725.56L912.82 725.45L912.88 725.33L912.93 725.22L912.99 725.10L913.05 724.99L913.11 724.87L913.16 724.76L913.22 724.64L913.28 724.53L913.33 724.41L913.39 724.29L913.45 724.18L913.51 724.06L913.56 723.94L913.62 723.82L913.68 723.70L913.73 723.58L913.79 723.46L913.85 723.34L913.90 723.22L913.96 723.10L914.02 722.98L914.08 722.86L914.13 722.74L914.19 722.62L914.25 722.50L914.30 722.37L914.36 722.25L914.42 722.13L914.48 722.00L914.53 721.88L914.59 721.75L914.65 721.63L914.70 721.50L914.76 721.38L914.82 721.25L914.88 721.12L914.93 721.00L914.99 720.87L915.05 720.74L915.10 720.61L915.16 720.48L915.22 720.36L915.28 720.23L915.33 720.10L915.39 719.97L915.45 719.84L915.50 719.71L915.56 719.57L915.62 719.44L915.68 719.31L915.73 719.18L915.79 719.05L915.85 718.91L915.90 718.78L915.96 718.65L916.02 718.51L916.08 718.38L916.13 718.24L916.19 718.11L916.25 717.97L916.30 717.83L916.36 717.70L916.42 717.56L916.48 717.42L916.53 717.29L916.59 717.15L916.65 717.01L916.70 716.87L916.76 716.73L916.82 716.59L916.88 716.45L916.93 716.31L916.99 716.17L917.05 716.03L917.10 715.89L917.16 715.75L917.22 715.61L917.27 715.46L917.33 715.32L917.39 715.18L917.45 715.03L917.50 714.89L917.56 714.75L917.62 714.60L917.67 714.46L917.73 714.31L917.79 714.16L917.85 714.02L917.90 713.87L917.96 713.73L918.02 713.58L918.07 713.43L918.13 713.28L918.19 713.13L918.25 712.98L918.30 712.84L918.36 712.69L918.42 712.54L918.47 712.39L918.53 712.24L918.59 712.08L918.65 711.93L918.70 711.78L918.76 711.63L918.82 711.48L918.87 711.32L918.93 711.17L918.99 711.02L919.05 710.86L919.10 710.71L919.16 710.56L919.22 710.40L919.27 710.24L919.33 710.09L919.39 709.93L919.45 709.78L919.50 709.62L919.56 709.46L919.62 709.31L919.67 709.15L919.73 708.99L919.79 708.83L919.85 708.67L919.90 708.51L919.96 708.36L920.02 708.20L920.07 708.04L920.13 707.87L920.19 707.71L920.25 707.55L920.30 707.39L920.36 707.23L920.42 707.07L920.47 706.91L920.53 706.74L920.59 706.58L920.65 706.42L920.70 706.25L920.76 706.09L920.82 705.92L920.87 705.76L920.93 705.60L920.99 705.43L921.04 705.26L921.10 705.10L921.16 704.93L921.22 704.77L921.27 704.60L921.33 704.43L921.39 704.27L921.44 704.10L921.50 703.93L921.56 703.76L921.62 703.59L921.67 703.42L921.73 703.26L921.79 703.09L921.84 702.92L921.90 702.75L921.96 702.58L922.02 702.41L922.07 702.24L922.13 702.06L922.19 701.89L922.24 701.72L922.30 701.55L922.36 701.38L922.42 701.21L922.47 701.03L922.53 700.86L922.59 700.69L922.64 700.51L922.70 700.34L922.76 700.17L922.82 699.99L922.87 699.82L922.93 699.65L922.99 699.47L923.04 699.30L923.10 699.12L923.16 698.95L923.22 698.77L923.27 698.59L923.33 698.42L923.39 698.24L923.44 698.07L923.50 697.89L923.56 697.71L923.62 697.54L923.67 697.36L923.73 697.18L923.79 697.00L923.84 696.83L923.90 696.65L923.96 696.47L924.02 696.29L924.07 696.11L924.13 695.94L924.19 695.76L924.24 695.58L924.30 695.40L924.36 695.22L924.42 695.04L924.47 694.86L924.53 694.68L924.59 694.50L924.64 694.32L924.70 694.14L924.76 693.96L924.81 693.78L924.87 693.60L924.93 693.42L924.99 693.24L925.04 693.06L925.10 692.88L925.16 692.70L925.21 692.52L925.27 692.34L925.33 692.16L925.39 691.98L925.44 691.80L925.50 691.61L925.56 691.43L925.61 691.25L925.67 691.07L925.73 690.89L925.79 690.71L925.84 690.53L925.90 690.35L925.96 690.16L926.01 689.98L926.07 689.80L926.13 689.62L926.19 689.44L926.24 689.26L926.30 689.07L926.36 688.89L926.41 688.71L926.47 688.53L926.53 688.35L926.59 688.17L926.64 687.99L926.70 687.80L926.76 687.62L926.81 687.44L926.87 687.26L926.93 687.08L926.99 686.90L927.04 686.72L927.10 686.54L927.16 686.36L927.21 686.18L927.27 686.00L927.33 685.81L927.39 685.63L927.44 685.45L927.50 685.27L927.56 685.09L927.61 684.91L927.67 684.73L927.73 684.55L927.79 684.38L927.84 684.20L927.90 684.02L927.96 683.84L928.01 683.66L928.07 683.48L928.13 683.30L928.18 683.12L928.24 682.95L928.30 682.77L928.36 682.59L928.41 682.41L928.47 682.24L928.53 682.06L928.58 681.88L928.64 681.71L928.70 681.53L928.76 681.35L928.81 681.18L928.87 681.00L928.93 680.83L928.98 680.65L929.04 680.48L929.10 680.30L929.16 680.13L929.21 679.96L929.27 679.78L929.33 679.61L929.38 679.44L929.44 679.26L929.50 679.09L929.56 678.92L929.61 678.75L929.67 678.58L929.73 678.41L929.78 678.24L929.84 678.07L929.90 677.90L929.96 677.73L930.01 677.56L930.07 677.39L930.13 677.23L930.18 677.06L930.24 676.89L930.30 676.72L930.36 676.56L930.41 676.39L930.47 676.23L930.53 676.06L930.58 675.90L930.64 675.74L930.70 675.57L930.76 675.41L930.81 675.25L930.87 675.09L930.93 674.93L930.98 674.76L931.04 674.60L931.10 674.45L931.16 674.29L931.21 674.13L931.27 673.97L931.33 673.81L931.38 673.66L931.44 673.50L931.50 673.34L931.56 673.19L931.61 673.04L931.67 672.88L931.73 672.73L931.78 672.58L931.84 672.42L931.90 672.27L931.95 672.12L932.01 671.97L932.07 671.82L932.13 671.68L932.18 671.53L932.24 671.38L932.30 671.23L932.35 671.09L932.41 670.94L932.47 670.80L932.53 670.66L932.58 670.51L932.64 670.37L932.70 670.23L932.75 670.09L932.81 669.95L932.87 669.81L932.93 669.67L932.98 669.54L933.04 669.40L933.10 669.26L933.15 669.13L933.21 668.99L933.27 668.86L933.33 668.73L933.38 668.60L933.44 668.47L933.50 668.34L933.55 668.21L933.61 668.08L933.67 667.95L933.73 667.82L933.78 667.70L933.84 667.57L933.90 667.45L933.95 667.33L934.01 667.21L934.07 667.08L934.13 666.96L934.18 666.84L934.24 666.73L934.30 666.61L934.35 666.49L934.41 666.38L934.47 666.26L934.53 666.15L934.58 666.04L934.64 665.93L934.70 665.81L934.75 665.71L934.81 665.60L934.87 665.49L934.93 665.38L934.98 665.28L935.04 665.17L935.10 665.07L935.15 664.97L935.21 664.87L935.27 664.77L935.33 664.67L935.38 664.57L935.44 664.47L935.50 664.38L935.55 664.28L935.61 664.19L935.67 664.09L935.72 664.00L935.78 663.91L935.84 663.82L935.90 663.73L935.95 663.65L936.01 663.56L936.07 663.48L936.12 663.39L936.18 663.31L936.24 663.23L936.30 663.15L936.35 663.07L936.41 662.99L936.47 662.92L936.52 662.84L936.58 662.77L936.64 662.69L936.70 662.62L936.75 662.55L936.81 662.48L936.87 662.41L936.92 662.34L936.98 662.28L937.04 662.21L937.10 662.15L937.15 662.09L937.21 662.03L937.27 661.97L937.32 661.91L937.38 661.85L937.44 661.79L937.50 661.74L937.55 661.68L937.61 661.63L937.67 661.58L937.72 661.53L937.78 661.48L937.84 661.44L937.90 661.39L937.95 661.34L938.01 661.30L938.07 661.26L938.12 661.22L938.18 661.18L938.24 661.14L938.30 661.10L938.35 661.07L938.41 661.03L938.47 661.00L938.52 660.97L938.58 660.94L938.64 660.91L938.70 660.88L938.75 660.85L938.81 660.83L938.87 660.80L938.92 660.78L938.98 660.76L939.04 660.74L939.09 660.72L939.15 660.70L939.21 660.68L939.27 660.67L939.32 660.65L939.38 660.64L939.44 660.63L939.49 660.62L939.55 660.61L939.61 660.61L939.67 660.60L939.72 660.60L939.78 660.59L939.84 660.59L939.89 660.59L939.95 660.59L940.01 660.59L940.07 660.60L940.12 660.60L940.18 660.61L940.24 660.62L940.29 660.62L940.35 660.63L940.41 660.65L940.47 660.66L940.52 660.67L940.58 660.69L940.64 660.70L940.69 660.72L940.75 660.74L940.81 660.76L940.87 660.78L940.92 660.81L940.98 660.83L941.04 660.86L941.09 660.89L941.15 660.91L941.21 660.94L941.27 660.97L941.32 661.01L941.38 661.04L941.44 661.08L941.49 661.11L941.55 661.15L941.61 661.19L941.67 661.23L941.72 661.27L941.78 661.31L941.84 661.36L941.89 661.40L941.95 661.45L942.01 661.50L942.07 661.54L942.12 661.60L942.18 661.65L942.24 661.70L942.29 661.75L942.35 661.81L942.41 661.87L942.47 661.92L942.52 661.98L942.58 662.04L942.64 662.10L942.69 662.17L942.75 662.23L942.81 662.30L942.86 662.36L942.92 662.43L942.98 662.50L943.04 662.57L943.09 662.64L943.15 662.71L943.21 662.79L943.26 662.86L943.32 662.94L943.38 663.01L943.44 663.09L943.49 663.17L943.55 663.25L943.61 663.33L943.66 663.42L943.72 663.50L943.78 663.59L943.84 663.67L943.89 663.76L943.95 663.85L944.01 663.94L944.06 664.03L944.12 664.12L944.18 664.21L944.24 664.31L944.29 664.40L944.35 664.50L944.41 664.60L944.46 664.69L944.52 664.79L944.58 664.89L944.64 665.00L944.69 665.10L944.75 665.20L944.81 665.31L944.86 665.41L944.92 665.52L944.98 665.63L945.04 665.74L945.09 665.85L945.15 665.96L945.21 666.07L945.26 666.18L945.32 666.29L945.38 666.41L945.44 666.52L945.49 666.64L945.55 666.76L945.61 666.88L945.66 667.00L945.72 667.12L945.78 667.24L945.84 667.36L945.89 667.48L945.95 667.61L946.01 667.73L946.06 667.86L946.12 667.99L946.18 668.11L946.24 668.24L946.29 668.37L946.35 668.50L946.41 668.63L946.46 668.76L946.52 668.90L946.58 669.03L946.63 669.17L946.69 669.30L946.75 669.44L946.81 669.57L946.86 669.71L946.92 669.85L946.98 669.99L947.03 670.13L947.09 670.27L947.15 670.41L947.21 670.55L947.26 670.70L947.32 670.84L947.38 670.98L947.43 671.13L947.49 671.27L947.55 671.42L947.61 671.57L947.66 671.72L947.72 671.86L947.78 672.01L947.83 672.16L947.89 672.31L947.95 672.47L948.01 672.62L948.06 672.77L948.12 672.92L948.18 673.08L948.23 673.23L948.29 673.39L948.35 673.54L948.41 673.70L948.46 673.86L948.52 674.01L948.58 674.17L948.63 674.33L948.69 674.49L948.75 674.65L948.81 674.81L948.86 674.97L948.92 675.13L948.98 675.29L949.03 675.45L949.09 675.62L949.15 675.78L949.21 675.94L949.26 676.11L949.32 676.27L949.38 676.44L949.43 676.60L949.49 676.77L949.55 676.94L949.61 677.10L949.66 677.27L949.72 677.44L949.78 677.61L949.83 677.78L949.89 677.95L949.95 678.11L950.00 678.28L950.06 678.46L950.12 678.63L950.18 678.80L950.23 678.97L950.29 679.14L950.35 679.31L950.40 679.48L950.46 679.66L950.52 679.83L950.58 680.00L950.63 680.18L950.69 680.35L950.75 680.53L950.80 680.70L950.86 680.88L950.92 681.05L950.98 681.23L951.03 681.40L951.09 681.58L951.15 681.75L951.20 681.93L951.26 682.11L951.32 682.28L951.38 682.46L951.43 682.64L951.49 682.82L951.55 682.99L951.60 683.17L951.66 683.35L951.72 683.53L951.78 683.71L951.83 683.89L951.89 684.07L951.95 684.25L952.00 684.42L952.06 684.60L952.12 684.78L952.18 684.96L952.23 685.14L952.29 685.32L952.35 685.50L952.40 685.68L952.46 685.86L952.52 686.04L952.58 686.23L952.63 686.41L952.69 686.59L952.75 686.77L952.80 686.95L952.86 687.13L952.92 687.31L952.98 687.49L953.03 687.67L953.09 687.85L953.15 688.04L953.20 688.22L953.26 688.40L953.32 688.58L953.38 688.76L953.43 688.94L953.49 689.12L953.55 689.31L953.60 689.49L953.66 689.67L953.72 689.85L953.77 690.03L953.83 690.21L953.89 690.39L953.95 690.58L954.00 690.76L954.06 690.94L954.12 691.12L954.17 691.30L954.23 691.48L954.29 691.66L954.35 691.84L954.40 692.03L954.46 692.21L954.52 692.39L954.57 692.57L954.63 692.75L954.69 692.93L954.75 693.11L954.80 693.29L954.86 693.47L954.92 693.65L954.97 693.83L955.03 694.01L955.09 694.19L955.15 694.37L955.20 694.55L955.26 694.73L955.32 694.91L955.37 695.09L955.43 695.27L955.49 695.45L955.55 695.63L955.60 695.81L955.66 695.98L955.72 696.16L955.77 696.34L955.83 696.52L955.89 696.70L955.95 696.87L956.00 697.05L956.06 697.23L956.12 697.41L956.17 697.58L956.23 697.76L956.29 697.94L956.35 698.11L956.40 698.29L956.46 698.47L956.52 698.64L956.57 698.82L956.63 698.99L956.69 699.17L956.75 699.34L956.80 699.52L956.86 699.69L956.92 699.87L956.97 700.04L957.03 700.22L957.09 700.39L957.15 700.56L957.20 700.74L957.26 700.91L957.32 701.08L957.37 701.25L957.43 701.43L957.49 701.60L957.54 701.77L957.60 701.94L957.66 702.11L957.72 702.28L957.77 702.45L957.83 702.62L957.89 702.79L957.94 702.96L958.00 703.13L958.06 703.30L958.12 703.47L958.17 703.64L958.23 703.81L958.29 703.98L958.34 704.14L958.40 704.31L958.46 704.48L958.52 704.65L958.57 704.81L958.63 704.98L958.69 705.14L958.74 705.31L958.80 705.48L958.86 705.64L958.92 705.81L958.97 705.97L959.03 706.13L959.09 706.30L959.14 706.46L959.20 706.62L959.26 706.79L959.32 706.95L959.37 707.11L959.43 707.27L959.49 707.44L959.54 707.60L959.60 707.76L959.66 707.92L959.72 708.08L959.77 708.24L959.83 708.40L959.89 708.56L959.94 708.72L960.00 708.88L960.06 709.03L960.12 709.19L960.17 709.35L960.23 709.51L960.29 709.66L960.34 709.82L960.40 709.98L960.46 710.13L960.52 710.29L960.57 710.44L960.63 710.60L960.69 710.75L960.74 710.91L960.80 711.06L960.86 711.21L960.91 711.37L960.97 711.52L961.03 711.67L961.09 711.82L961.14 711.97L961.20 712.13L961.26 712.28L961.31 712.43L961.37 712.58L961.43 712.73L961.49 712.88L961.54 713.03L961.60 713.17L961.66 713.32L961.71 713.47L961.77 713.62L961.83 713.77L961.89 713.91L961.94 714.06L962.00 714.20L962.06 714.35L962.11 714.50L962.17 714.64L962.23 714.79L962.29 714.93L962.34 715.07L962.40 715.22L962.46 715.36L962.51 715.50L962.57 715.65L962.63 715.79L962.69 715.93L962.74 716.07L962.80 716.21L962.86 716.35L962.91 716.49L962.97 716.63L963.03 716.77L963.09 716.91L963.14 717.05L963.20 717.19L963.26 717.32L963.31 717.46L963.37 717.60L963.43 717.74L963.49 717.87L963.54 718.01L963.60 718.14L963.66 718.28L963.71 718.41L963.77 718.55L963.83 718.68L963.89 718.82L963.94 718.95L964.00 719.08L964.06 719.21L964.11 719.35L964.17 719.48L964.23 719.61L964.29 719.74L964.34 719.87L964.40 720.00L964.46 720.13L964.51 720.26L964.57 720.39L964.63 720.52L964.68 720.65L964.74 720.78L964.80 720.90L964.86 721.03L964.91 721.16L964.97 721.28L965.03 721.41L965.08 721.54L965.14 721.66L965.20 721.79L965.26 721.91L965.31 722.04L965.37 722.16L965.43 722.28L965.48 722.41L965.54 722.53L965.60 722.65L965.66 722.77L965.71 722.89L965.77 723.02L965.83 723.14L965.88 723.26L965.94 723.38L966.00 723.50L966.06 723.62L966.11 723.74L966.17 723.85L966.23 723.97L966.28 724.09L966.34 724.21L966.40 724.33L966.46 724.44L966.51 724.56L966.57 724.68L966.63 724.79L966.68 724.91L966.74 725.02L966.80 725.14L966.86 725.25L966.91 725.36L966.97 725.48L967.03 725.59L967.08 725.70L967.14 725.82L967.20 725.93L967.26 726.04L967.31 726.15L967.37 726.26L967.43 726.37L967.48 726.48L967.54 726.59L967.60 726.70L967.66 726.81L967.71 726.92L967.77 727.03L967.83 727.14L967.88 727.25L967.94 727.35L968.00 727.46L968.05 727.57L968.11 727.67L968.17 727.78L968.23 727.89L968.28 727.99L968.34 728.10L968.40 728.20L968.45 728.31L968.51 728.41L968.57 728.51L968.63 728.62L968.68 728.72L968.74 728.82L968.80 728.93L968.85 729.03L968.91 729.13L968.97 729.23L969.03 729.33L969.08 729.43L969.14 729.53L969.20 729.63L969.25 729.73L969.31 729.83L969.37 729.93L969.43 730.03L969.48 730.13L969.54 730.22L969.60 730.32L969.65 730.42L969.71 730.52L969.77 730.61L969.83 730.71L969.88 730.81L969.94 730.90L970.00 731.00L970.05 731.09L970.11 731.19L970.17 731.28L970.23 731.37L970.28 731.47L970.34 731.56L970.40 731.65L970.45 731.75L970.51 731.84L970.57 731.93L970.63 732.02L970.68 732.12L970.74 732.21L970.80 732.30L970.85 732.39L970.91 732.48L970.97 732.57L971.03 732.66L971.08 732.75L971.14 732.84L971.20 732.92L971.25 733.01L971.31 733.10L971.37 733.19L971.43 733.28L971.48 733.36L971.54 733.45L971.60 733.54L971.65 733.62L971.71 733.71L971.77 733.79L971.82 733.88L971.88 733.97L971.94 734.05L972.00 734.13L972.05 734.22L972.11 734.30L972.17 734.39L972.22 734.47L972.28 734.55L972.34 734.63L972.40 734.72L972.45 734.80L972.51 734.88L972.57 734.96L972.62 735.04L972.68 735.12L972.74 735.21L972.80 735.29L972.85 735.37L972.91 735.45L972.97 735.52L973.02 735.60L973.08 735.68L973.14 735.76L973.20 735.84L973.25 735.92L973.31 736.00L973.37 736.07L973.42 736.15L973.48 736.23L973.54 736.30L973.60 736.38L973.65 736.46L973.71 736.53L973.77 736.61L973.82 736.68L973.88 736.76L973.94 736.83L974.00 736.91L974.05 736.98L974.11 737.06L974.17 737.13L974.22 737.20L974.28 737.28L974.34 737.35L974.40 737.42L974.45 737.50L974.51 737.57L974.57 737.64L974.62 737.71L974.68 737.78L974.74 737.85L974.80 737.92L974.85 738.00L974.91 738.07L974.97 738.14L975.02 738.21L975.08 738.28L975.14 738.34L975.20 738.41L975.25 738.48L975.31 738.55L975.37 738.62L975.42 738.69L975.48 738.76L975.54 738.82L975.59 738.89L975.65 738.96L975.71 739.02L975.77 739.09L975.82 739.16L975.88 739.22L975.94 739.29L975.99 739.36L976.05 739.42L976.11 739.49L976.17 739.55L976.22 739.62L976.28 739.68L976.34 739.74L976.39 739.81L976.45 739.87L976.51 739.94L976.57 740.00L976.62 740.06L976.68 740.13L976.74 740.19L976.79 740.25L976.85 740.31L976.91 740.37L976.97 740.44L977.02 740.50L977.08 740.56L977.14 740.62L977.19 740.68L977.25 740.74L977.31 740.80L977.37 740.86L977.42 740.92L977.48 740.98L977.54 741.04L977.59 741.10L977.65 741.16L977.71 741.22L977.77 741.28L977.82 741.34L977.88 741.39L977.94 741.45L977.99 741.51L978.05 741.57L978.11 741.63L978.17 741.68L978.22 741.74L978.28 741.80L978.34 741.85L978.39 741.91L978.45 741.97L978.51 742.02L978.57 742.08L978.62 742.13L978.68 742.19L978.74 742.24L978.79 742.30L978.85 742.35L978.91 742.41L978.96 742.46L979.02 742.52L979.08 742.57L979.14 742.62L979.19 742.68L979.25 742.73L979.31 742.78L979.36 742.84L979.42 742.89L979.48 742.94L979.54 742.99L979.59 743.05L979.65 743.10L979.71 743.15L979.76 743.20L979.82 743.25L979.88 743.30L979.94 743.35L979.99 743.41L980.05 743.46L980.11 743.51L980.16 743.56L980.22 743.61L980.28 743.66L980.34 743.71L980.39 743.76L980.45 743.81L980.51 743.85L980.56 743.90L980.62 743.95L980.68 744.00L980.74 744.05L980.79 744.10L980.85 744.15L980.91 744.19L980.96 744.24L981.02 744.29L981.08 744.34L981.14 744.38L981.19 744.43L981.25 744.48L981.31 744.52L981.36 744.57L981.42 744.62L981.48 744.66L981.54 744.71L981.59 744.75L981.65 744.80L981.71 744.85L981.76 744.89L981.82 744.94L981.88 744.98L981.94 745.03L981.99 745.07L982.05 745.12L982.11 745.16L982.16 745.20L982.22 745.25L982.28 745.29L982.34 745.34L982.39 745.38L982.45 745.42L982.51 745.47L982.56 745.51L982.62 745.55L982.68 745.59L982.73 745.64L982.79 745.68L982.85 745.72L982.91 745.76L982.96 745.81L983.02 745.85L983.08 745.89L983.13 745.93L983.19 745.97L983.25 746.01L983.31 746.05L983.36 746.10L983.42 746.14L983.48 746.18L983.53 746.22L983.59 746.26L983.65 746.30L983.71 746.34L983.76 746.38L983.82 746.42L983.88 746.46L983.93 746.50L983.99 746.54L984.05 746.57L984.11 746.61L984.16 746.65L984.22 746.69L984.28 746.73L984.33 746.77L984.39 746.81L984.45 746.84L984.51 746.88L984.56 746.92L984.62 746.96L984.68 747.00L984.73 747.03L984.79 747.07L984.85 747.11L984.91 747.15L984.96 747.18L985.02 747.22L985.08 747.26L985.13 747.29L985.19 747.33L985.25 747.36L985.31 747.40L985.36 747.44L985.42 747.47L985.48 747.51L985.53 747.54L985.59 747.58L985.65 747.61L985.71 747.65L985.76 747.68L985.82 747.72L985.88 747.75L985.93 747.79L985.99 747.82L986.05 747.86L986.11 747.89L986.16 747.93L986.22 747.96L986.28 747.99L986.33 748.03L986.39 748.06L986.45 748.10L986.50 748.13L986.56 748.16L986.62 748.20L986.68 748.23L986.73 748.26L986.79 748.29L986.85 748.33L986.90 748.36L986.96 748.39L987.02 748.42L987.08 748.46L987.13 748.49L987.19 748.52L987.25 748.55L987.30 748.58L987.36 748.62L987.42 748.65L987.48 748.68L987.53 748.71L987.59 748.74L987.65 748.77L987.70 748.80L987.76 748.83L987.82 748.87L987.88 748.90L987.93 748.93L987.99 748.96L988.05 748.99L988.10 749.02L988.16 749.05L988.22 749.08L988.28 749.11L988.33 749.14L988.39 749.17L988.45 749.20L988.50 749.23L988.56 749.26L988.62 749.28L988.68 749.31L988.73 749.34L988.79 749.37L988.85 749.40L988.90 749.43L988.96 749.46L989.02 749.49L989.08 749.51L989.13 749.54L989.19 749.57L989.25 749.60L989.30 749.63L989.36 749.66L989.42 749.68L989.48 749.71L989.53 749.74L989.59 749.77L989.65 749.79L989.70 749.82L989.76 749.85L989.82 749.87L989.87 749.90L989.93 749.93L989.99 749.96L990.05 749.98L990.10 750.01L990.16 750.04L990.22 750.06L990.27 750.09L990.33 750.11L990.39 750.14L990.45 750.17L990.50 750.19L990.56 750.22L990.62 750.24L990.67 750.27L990.73 750.30L990.79 750.32L990.85 750.35L990.90 750.37L990.96 750.40L991.02 750.42L991.07 750.45L991.13 750.47L991.19 750.50L991.25 750.52L991.30 750.55L991.36 750.57L991.42 750.60L991.47 750.62L991.53 750.64L991.59 750.67L991.65 750.69L991.70 750.72L991.76 750.74L991.82 750.76L991.87 750.79L991.93 750.81L991.99 750.84L992.05 750.86L992.10 750.88L992.16 750.91L992.22 750.93L992.27 750.95L992.33 750.98L992.39 751.00L992.45 751.02L992.50 751.05L992.56 751.07L992.62 751.09L992.67 751.11L992.73 751.14L992.79 751.16L992.85 751.18L992.90 751.20L992.96 751.23L993.02 751.25L993.07 751.27L993.13 751.29L993.19 751.31L993.25 751.34L993.30 751.36L993.36 751.38L993.42 751.40L993.47 751.42L993.53 751.44L993.59 751.47L993.64 751.49L993.70 751.51L993.76 751.53L993.82 751.55L993.87 751.57L993.93 751.59L993.99 751.61L994.04 751.63L994.10 751.66L994.16 751.68L994.22 751.70L994.27 751.72L994.33 751.74L994.39 751.76L994.44 751.78L994.50 751.80L994.56 751.82L994.62 751.84L994.67 751.86L994.73 751.88L994.79 751.90L994.84 751.92L994.90 751.94L994.96 751.96L995.02 751.98L995.07 752.00L995.13 752.02L995.19 752.04L995.24 752.06L995.30 752.07L995.36 752.09L995.42 752.11L995.47 752.13L995.53 752.15L995.59 752.17L995.64 752.19L995.70 752.21L995.76 752.23L995.82 752.25L995.87 752.26L995.93 752.28L995.99 752.30L996.04 752.32L996.10 752.34L996.16 752.36L996.22 752.37L996.27 752.39L996.33 752.41L996.39 752.43L996.44 752.45L996.50 752.46L996.56 752.48L996.62 752.50L996.67 752.52L996.73 752.54L996.79 752.55L996.84 752.57L996.90 752.59L996.96 752.61L997.02 752.62L997.07 752.64L997.13 752.66L997.19 752.68L997.24 752.69L997.30 752.71L997.36 752.73L997.41 752.74L997.47 752.76L997.53 752.78L997.59 752.79L997.64 752.81L997.70 752.83L997.76 752.84L997.81 752.86L997.87 752.88L997.93 752.89L997.99 752.91L998.04 752.93L998.10 752.94L998.16 752.96L998.21 752.97L998.27 752.99L998.33 753.01L998.39 753.02L998.44 753.04L998.50 753.05L998.56 753.07L998.61 753.09L998.67 753.10L998.73 753.12L998.79 753.13L998.84 753.15L998.90 753.16" fill="none" stroke="#000" stroke-width="3" stroke-dasharray="5 2.3"/><g stroke="#111" stroke-width="0.25"><text x="196.16" y="500.90" text-anchor="middle">7245</text><text x="266.28" y="500.90" text-anchor="middle">7280</text><text x="336.39" y="500.90" text-anchor="middle">7315</text><text x="406.51" y="500.90" text-anchor="middle">7350</text><text x="476.63" y="500.90" text-anchor="middle">7385</text><text x="121.10" y="451.90" text-anchor="end">-5000</text><text x="121.10" y="385.04" text-anchor="end">0</text><text x="121.10" y="318.18" text-anchor="end">5000</text><text x="121.10" y="251.32" text-anchor="end">10000</text><text x="121.10" y="184.46" text-anchor="end">15000</text><text x="121.10" y="117.60" text-anchor="end">20000</text><text x="694.35" y="500.80" text-anchor="middle">7245</text><text x="767.79" y="500.80" text-anchor="middle">7280</text><text x="841.23" y="500.80" text-anchor="middle">7315</text><text x="914.66" y="500.80" text-anchor="middle">7350</text><text x="988.10" y="500.80" text-anchor="middle">7385</text><text x="616.50" y="433.40" text-anchor="end">-10000</text><text x="616.50" y="370.36" text-anchor="end">0</text><text x="616.50" y="307.32" text-anchor="end">10000</text><text x="616.50" y="244.28" text-anchor="end">20000</text><text x="616.50" y="181.24" text-anchor="end">30000</text><text x="616.50" y="118.20" text-anchor="end">40000</text><text x="616.50" y="55.16" text-anchor="end">50000</text><text x="133.30" y="993.10" text-anchor="middle">7050</text><text x="192.62" y="993.10" text-anchor="middle">7100</text><text x="251.93" y="993.10" text-anchor="middle">7150</text><text x="311.25" y="993.10" text-anchor="middle">7200</text><text x="370.57" y="993.10" text-anchor="middle">7250</text><text x="429.88" y="993.10" text-anchor="middle">7300</text><text x="489.20" y="993.10" text-anchor="middle">7350</text><text x="121.00" y="943.13" text-anchor="end">-5000</text><text x="121.00" y="874.73" text-anchor="end">0</text><text x="121.00" y="806.33" text-anchor="end">5000</text><text x="121.00" y="737.93" text-anchor="end">10000</text><text x="121.00" y="669.53" text-anchor="end">15000</text><text x="121.00" y="601.13" text-anchor="end">20000</text><text x="628.70" y="993.20" text-anchor="middle">7050</text><text x="690.77" y="993.20" text-anchor="middle">7100</text><text x="752.83" y="993.20" text-anchor="middle">7150</text><text x="814.90" y="993.20" text-anchor="middle">7200</text><text x="876.97" y="993.20" text-anchor="middle">7250</text><text x="939.03" y="993.20" text-anchor="middle">7300</text><text x="1001.10" y="993.20" text-anchor="middle">7350</text><text x="616.50" y="970.70" text-anchor="end">-60000</text><text x="616.50" y="891.96" text-anchor="end">-40000</text><text x="616.50" y="813.22" text-anchor="end">-20000</text><text x="616.50" y="734.48" text-anchor="end">0</text><text x="616.50" y="655.74" text-anchor="end">20000</text><text x="616.50" y="577.00" text-anchor="end">40000</text><text x="309" y="30.2" text-anchor="middle">BLG02N1332.0117</text><text x="812.5" y="30.2" text-anchor="middle" xml:space="preserve">40781  15.71  0.01  1318</text><text transform="translate(39,264.2) rotate(-90)" text-anchor="middle">d flux</text><text transform="translate(39,751.3) rotate(-90)" text-anchor="middle">d flux</text><text x="309" y="1017.4" text-anchor="middle">time (HJD-2450000)</text><text x="812.7" y="1017.4" text-anchor="middle">time (HJD-2450000)</text></g></svg></body></html>
